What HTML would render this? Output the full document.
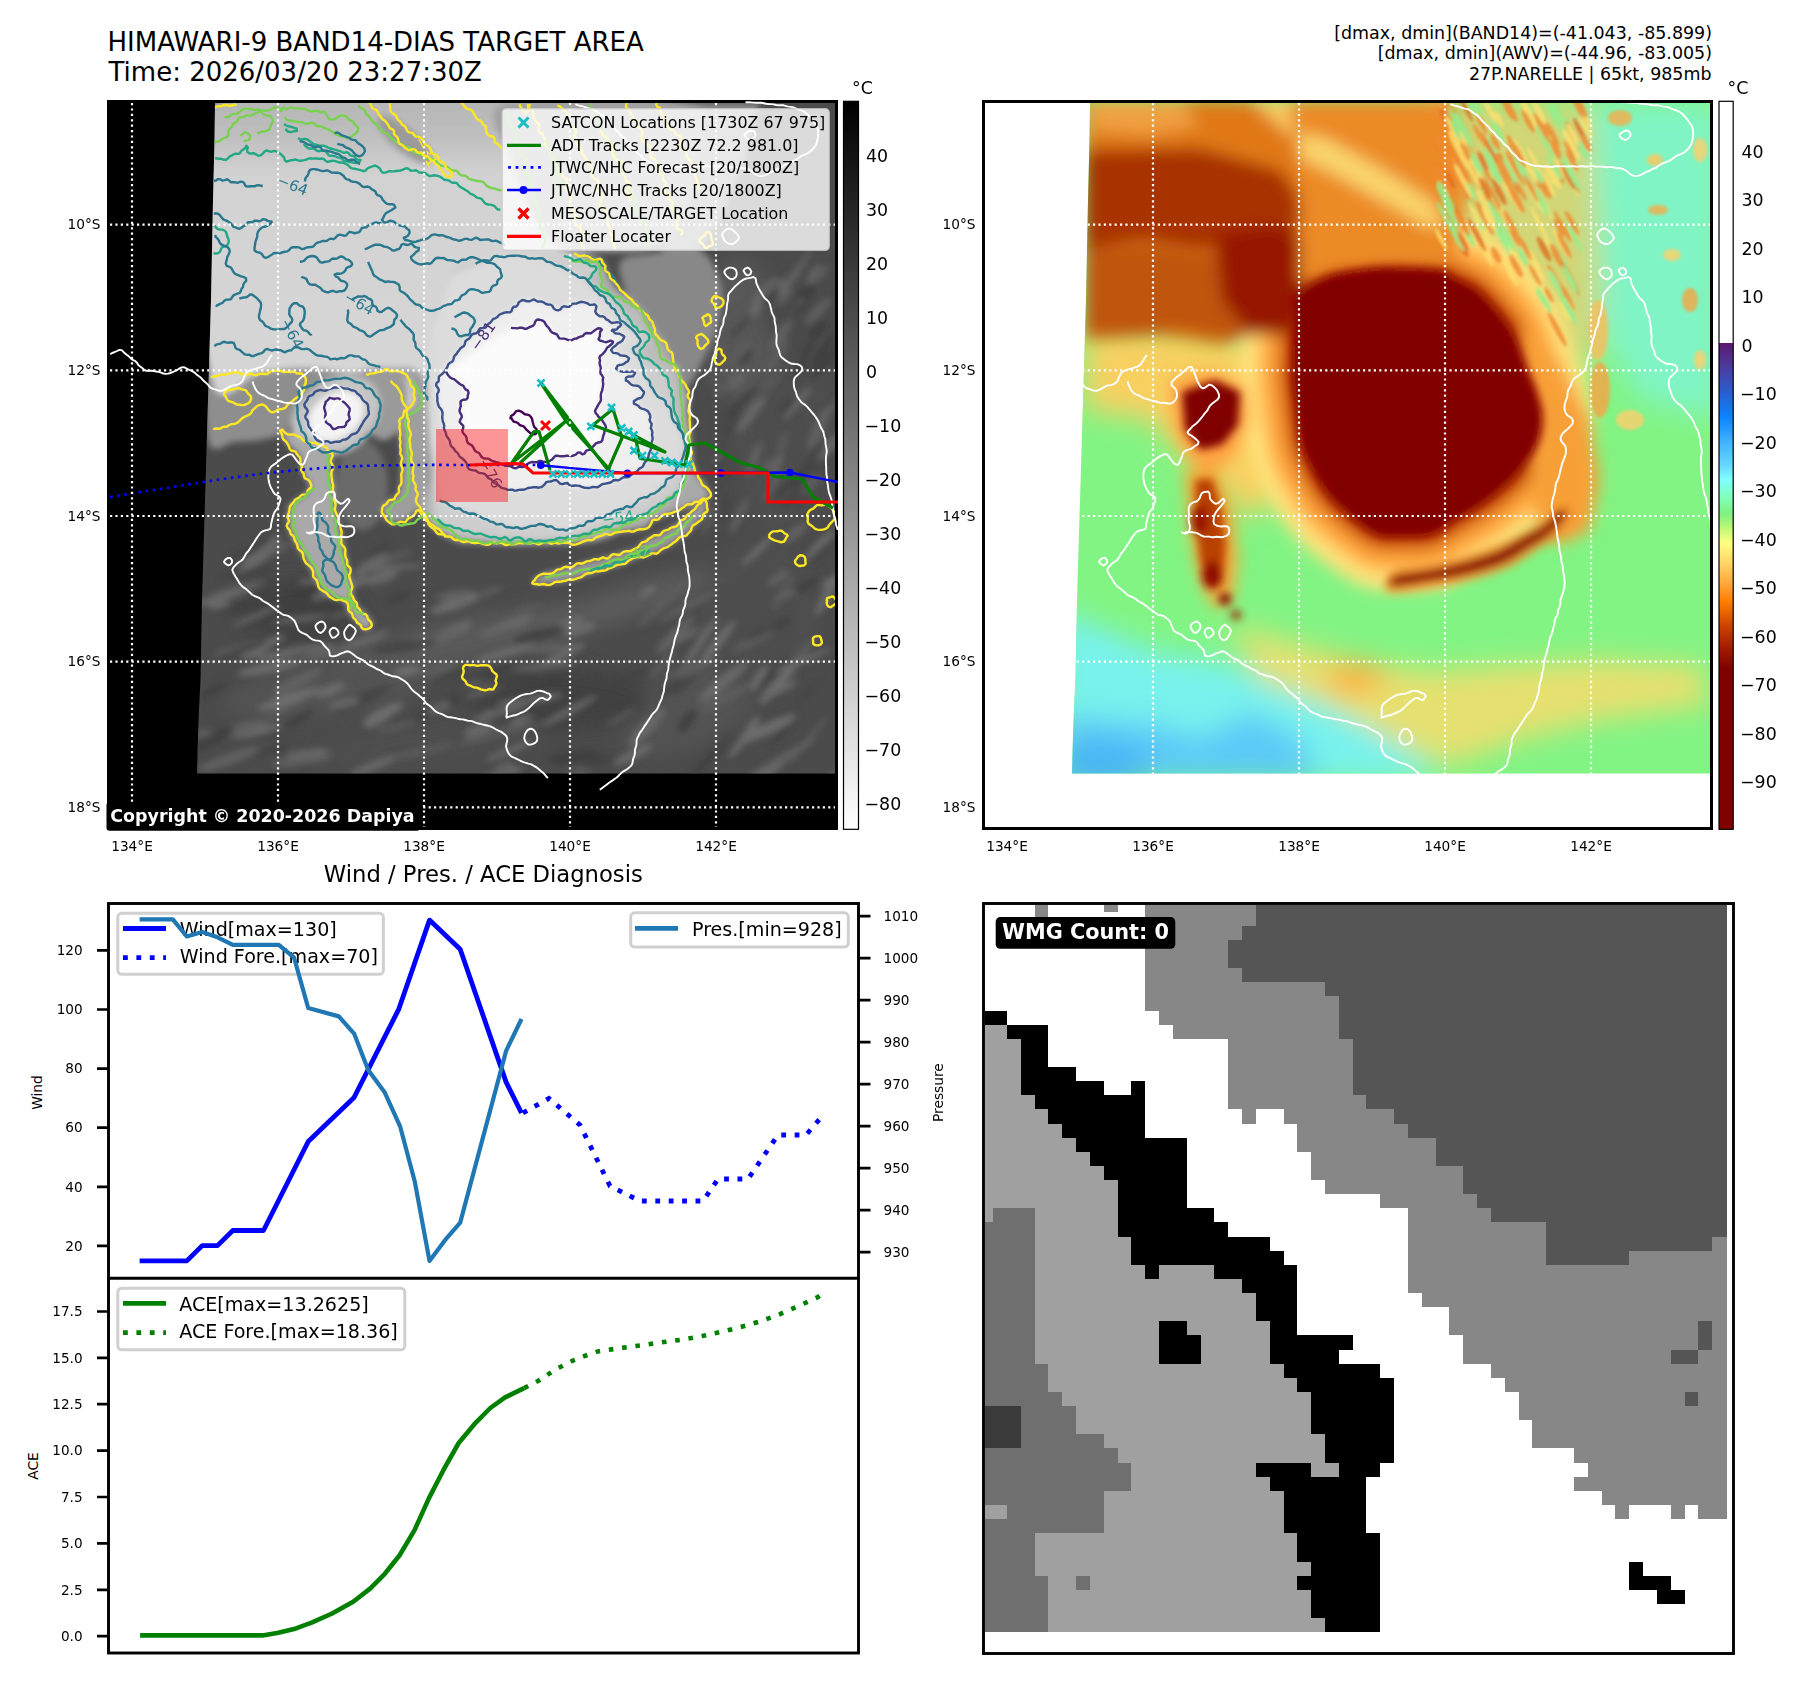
<!DOCTYPE html><html><head><meta charset="utf-8"><title>HIMAWARI-9 BAND14-DIAS TARGET AREA</title><style>html,body{margin:0;padding:0;background:#fff;}svg{display:block;}text{font-family:'DejaVu Sans', 'Liberation Sans', sans-serif;}</style></head><body>
<svg width="1801" height="1690" viewBox="0 0 1801 1690">
<rect width="1801" height="1690" fill="#fff"/>
<text x="107.5" y="51.0" font-size="26" text-anchor="start" fill="#000" >HIMAWARI-9 BAND14-DIAS TARGET AREA</text>
<text x="108.5" y="81.0" font-size="26" text-anchor="start" fill="#000" >Time: 2026/03/20 23:27:30Z</text>
<text x="1712.0" y="38.5" font-size="17.45" text-anchor="end" fill="#000" >[dmax, dmin](BAND14)=(-41.043, -85.899)</text>
<text x="1712.0" y="59.2" font-size="17.45" text-anchor="end" fill="#000" >[dmax, dmin](AWV)=(-44.96, -83.005)</text>
<text x="1711.5" y="80.4" font-size="17.45" text-anchor="end" fill="#000" >27P.NARELLE | 65kt, 985mb</text>
<rect x="107" y="100" width="731" height="730" fill="#000"/>
<defs><clipPath id="tlclip"><path d="M215.0,103.0L835.0 103.0 835.0 773.5 197.0 773.5 198.0 736.0 199.0 709.0 200.5 680.0 202.0 600.0 205.0 500.0 208.0 400.0 211.0 300.0 213.0 200.0 214.5 140.0Z"/></clipPath>
<filter id="blr3" x="-5%" y="-5%" width="110%" height="110%"><feGaussianBlur stdDeviation="3"/></filter>
<filter id="blr6" x="-10%" y="-10%" width="120%" height="120%"><feGaussianBlur stdDeviation="6"/></filter>
<filter id="blr10" x="-20%" y="-20%" width="140%" height="140%"><feGaussianBlur stdDeviation="10"/></filter>
<linearGradient id="tlnorth" x1="0" y1="0" x2="0" y2="1"><stop offset="0" stop-color="#b0b0b0"/><stop offset="0.12" stop-color="#bfbfbf"/><stop offset="0.2" stop-color="#d2d2d2"/><stop offset="1" stop-color="#d9d9d9"/></linearGradient>
</defs>
<g clip-path="url(#tlclip)">
<rect x="190" y="100" width="650" height="680" fill="#4b4b4b"/>
<g filter="url(#blr10)" opacity="0.9">
<ellipse cx="470" cy="640" rx="150" ry="22" transform="rotate(-12 470 640)" fill="#5c5c5c"/>
<ellipse cx="620" cy="605" rx="110" ry="16" transform="rotate(-18 620 605)" fill="#5e5e5e"/>
<ellipse cx="330" cy="690" rx="110" ry="26" transform="rotate(-8 330 690)" fill="#545454"/>
<ellipse cx="700" cy="700" rx="90" ry="40" transform="rotate(-30 700 700)" fill="#555555"/>
<ellipse cx="560" cy="700" rx="90" ry="30" transform="rotate(0 560 700)" fill="#3f3f3f"/>
<ellipse cx="300" cy="610" rx="60" ry="30" transform="rotate(0 300 610)" fill="#404040"/>
<ellipse cx="760" cy="620" rx="60" ry="80" transform="rotate(0 760 620)" fill="#4f4f4f"/>
<ellipse cx="430" cy="745" rx="120" ry="20" transform="rotate(-5 430 745)" fill="#505050"/>
<ellipse cx="780" cy="420" rx="50" ry="120" transform="rotate(0 780 420)" fill="#505050"/>
<ellipse cx="740" cy="330" rx="40" ry="70" transform="rotate(0 740 330)" fill="#5a5a5a"/>
<ellipse cx="800" cy="300" rx="40" ry="60" transform="rotate(0 800 300)" fill="#4c4c4c"/>
</g>
<g filter="url(#blr3)" opacity="0.8">
<ellipse cx="487" cy="674" rx="31" ry="3.2" transform="rotate(-19 487 674)" fill="#3c3c3c"/>
<ellipse cx="710" cy="654" rx="12" ry="3.6" transform="rotate(-28 710 654)" fill="#424242"/>
<ellipse cx="258" cy="731" rx="24" ry="3.9" transform="rotate(-14 258 731)" fill="#747474"/>
<ellipse cx="488" cy="715" rx="10" ry="4.3" transform="rotate(-26 488 715)" fill="#747474"/>
<ellipse cx="238" cy="589" rx="29" ry="3.6" transform="rotate(-15 238 589)" fill="#666666"/>
<ellipse cx="348" cy="613" rx="21" ry="3.5" transform="rotate(-13 348 613)" fill="#5e5e5e"/>
<ellipse cx="834" cy="774" rx="18" ry="3.3" transform="rotate(-32 834 774)" fill="#5e5e5e"/>
<ellipse cx="384" cy="561" rx="30" ry="3.9" transform="rotate(-20 384 561)" fill="#5e5e5e"/>
<ellipse cx="808" cy="740" rx="32" ry="2.7" transform="rotate(-51 808 740)" fill="#5e5e5e"/>
<ellipse cx="438" cy="708" rx="25" ry="5.2" transform="rotate(-28 438 708)" fill="#3c3c3c"/>
<ellipse cx="371" cy="565" rx="20" ry="5.7" transform="rotate(-30 371 565)" fill="#6e6e6e"/>
<ellipse cx="285" cy="708" rx="29" ry="3.1" transform="rotate(-29 285 708)" fill="#5e5e5e"/>
<ellipse cx="555" cy="648" rx="28" ry="4.0" transform="rotate(-5 555 648)" fill="#666666"/>
<ellipse cx="444" cy="636" rx="31" ry="5.9" transform="rotate(-30 444 636)" fill="#666666"/>
<ellipse cx="576" cy="775" rx="19" ry="5.5" transform="rotate(-25 576 775)" fill="#5e5e5e"/>
<ellipse cx="828" cy="594" rx="25" ry="5.4" transform="rotate(-60 828 594)" fill="#6e6e6e"/>
<ellipse cx="333" cy="691" rx="19" ry="4.1" transform="rotate(-15 333 691)" fill="#5e5e5e"/>
<ellipse cx="809" cy="656" rx="19" ry="4.7" transform="rotate(-55 809 656)" fill="#424242"/>
<ellipse cx="397" cy="598" rx="15" ry="5.1" transform="rotate(-24 397 598)" fill="#424242"/>
<ellipse cx="797" cy="590" rx="24" ry="4.0" transform="rotate(-25 797 590)" fill="#3c3c3c"/>
<ellipse cx="266" cy="554" rx="27" ry="3.4" transform="rotate(-24 266 554)" fill="#6e6e6e"/>
<ellipse cx="723" cy="682" rx="32" ry="5.9" transform="rotate(-39 723 682)" fill="#6e6e6e"/>
<ellipse cx="280" cy="655" rx="25" ry="3.5" transform="rotate(-9 280 655)" fill="#747474"/>
<ellipse cx="783" cy="592" rx="20" ry="3.4" transform="rotate(-57 783 592)" fill="#5e5e5e"/>
<ellipse cx="230" cy="610" rx="13" ry="3.8" transform="rotate(-16 230 610)" fill="#424242"/>
<ellipse cx="766" cy="771" rx="23" ry="5.8" transform="rotate(-31 766 771)" fill="#747474"/>
<ellipse cx="575" cy="757" rx="27" ry="5.9" transform="rotate(-7 575 757)" fill="#3c3c3c"/>
<ellipse cx="213" cy="691" rx="17" ry="3.0" transform="rotate(-28 213 691)" fill="#3c3c3c"/>
<ellipse cx="246" cy="649" rx="32" ry="5.1" transform="rotate(-12 246 649)" fill="#6e6e6e"/>
<ellipse cx="647" cy="727" rx="26" ry="5.7" transform="rotate(-46 647 727)" fill="#6e6e6e"/>
<ellipse cx="753" cy="641" rx="24" ry="4.7" transform="rotate(-25 753 641)" fill="#5e5e5e"/>
<ellipse cx="443" cy="679" rx="12" ry="2.9" transform="rotate(-28 443 679)" fill="#424242"/>
<ellipse cx="363" cy="641" rx="28" ry="4.5" transform="rotate(-20 363 641)" fill="#6e6e6e"/>
<ellipse cx="480" cy="738" rx="22" ry="3.6" transform="rotate(-17 480 738)" fill="#5e5e5e"/>
<ellipse cx="256" cy="550" rx="29" ry="4.8" transform="rotate(-27 256 550)" fill="#747474"/>
<ellipse cx="509" cy="751" rx="26" ry="3.2" transform="rotate(-22 509 751)" fill="#6e6e6e"/>
<ellipse cx="308" cy="753" rx="22" ry="3.3" transform="rotate(-7 308 753)" fill="#747474"/>
<ellipse cx="457" cy="603" rx="29" ry="5.7" transform="rotate(-19 457 603)" fill="#747474"/>
<ellipse cx="759" cy="633" rx="15" ry="3.0" transform="rotate(-23 759 633)" fill="#424242"/>
<ellipse cx="423" cy="751" rx="33" ry="3.5" transform="rotate(-12 423 751)" fill="#5e5e5e"/>
<ellipse cx="307" cy="649" rx="30" ry="3.8" transform="rotate(-7 307 649)" fill="#6e6e6e"/>
<ellipse cx="530" cy="700" rx="34" ry="4.1" transform="rotate(-9 530 700)" fill="#747474"/>
<ellipse cx="247" cy="552" rx="27" ry="4.5" transform="rotate(-29 247 552)" fill="#424242"/>
<ellipse cx="396" cy="727" rx="20" ry="3.2" transform="rotate(-14 396 727)" fill="#5e5e5e"/>
<ellipse cx="688" cy="606" rx="34" ry="2.9" transform="rotate(-28 688 606)" fill="#666666"/>
<ellipse cx="269" cy="668" rx="33" ry="4.9" transform="rotate(-10 269 668)" fill="#747474"/>
<ellipse cx="327" cy="654" rx="28" ry="4.4" transform="rotate(-12 327 654)" fill="#666666"/>
<ellipse cx="223" cy="597" rx="33" ry="4.3" transform="rotate(-17 223 597)" fill="#6e6e6e"/>
<ellipse cx="833" cy="582" rx="12" ry="5.8" transform="rotate(-24 833 582)" fill="#747474"/>
<ellipse cx="488" cy="689" rx="24" ry="5.6" transform="rotate(-21 488 689)" fill="#5e5e5e"/>
<ellipse cx="706" cy="762" rx="34" ry="2.8" transform="rotate(-47 706 762)" fill="#3c3c3c"/>
<ellipse cx="750" cy="729" rx="16" ry="3.9" transform="rotate(-55 750 729)" fill="#747474"/>
<ellipse cx="256" cy="616" rx="27" ry="2.6" transform="rotate(-23 256 616)" fill="#6e6e6e"/>
<ellipse cx="417" cy="642" rx="11" ry="5.3" transform="rotate(-18 417 642)" fill="#6e6e6e"/>
<ellipse cx="241" cy="729" rx="26" ry="5.7" transform="rotate(-17 241 729)" fill="#666666"/>
<ellipse cx="499" cy="775" rx="26" ry="4.0" transform="rotate(-17 499 775)" fill="#747474"/>
<ellipse cx="759" cy="678" rx="15" ry="4.3" transform="rotate(-57 759 678)" fill="#747474"/>
<ellipse cx="384" cy="713" rx="22" ry="5.7" transform="rotate(-26 384 713)" fill="#747474"/>
<ellipse cx="363" cy="699" rx="30" ry="5.9" transform="rotate(-25 363 699)" fill="#424242"/>
<ellipse cx="533" cy="677" rx="13" ry="2.5" transform="rotate(-20 533 677)" fill="#666666"/>
<ellipse cx="439" cy="669" rx="20" ry="5.3" transform="rotate(-17 439 669)" fill="#5e5e5e"/>
<ellipse cx="557" cy="658" rx="32" ry="4.1" transform="rotate(-26 557 658)" fill="#747474"/>
<ellipse cx="785" cy="729" rx="21" ry="2.9" transform="rotate(-49 785 729)" fill="#3c3c3c"/>
<ellipse cx="475" cy="733" rx="13" ry="4.0" transform="rotate(-17 475 733)" fill="#3c3c3c"/>
<ellipse cx="219" cy="605" rx="11" ry="3.2" transform="rotate(-11 219 605)" fill="#747474"/>
<ellipse cx="344" cy="703" rx="16" ry="4.2" transform="rotate(-12 344 703)" fill="#6e6e6e"/>
<ellipse cx="517" cy="679" rx="27" ry="5.0" transform="rotate(-14 517 679)" fill="#424242"/>
<ellipse cx="758" cy="550" rx="23" ry="3.1" transform="rotate(-43 758 550)" fill="#747474"/>
<ellipse cx="330" cy="690" rx="15" ry="4.4" transform="rotate(-25 330 690)" fill="#747474"/>
<ellipse cx="781" cy="689" rx="18" ry="3.6" transform="rotate(-24 781 689)" fill="#6e6e6e"/>
<ellipse cx="786" cy="595" rx="13" ry="3.3" transform="rotate(-24 786 595)" fill="#666666"/>
<ellipse cx="661" cy="605" rx="33" ry="4.4" transform="rotate(-43 661 605)" fill="#5e5e5e"/>
<ellipse cx="648" cy="591" rx="10" ry="3.2" transform="rotate(-33 648 591)" fill="#747474"/>
<ellipse cx="633" cy="755" rx="22" ry="5.2" transform="rotate(-27 633 755)" fill="#6e6e6e"/>
<ellipse cx="519" cy="703" rx="22" ry="2.6" transform="rotate(-10 519 703)" fill="#666666"/>
<ellipse cx="684" cy="686" rx="15" ry="2.9" transform="rotate(-41 684 686)" fill="#424242"/>
<ellipse cx="310" cy="581" rx="12" ry="2.7" transform="rotate(-7 310 581)" fill="#6e6e6e"/>
<ellipse cx="804" cy="651" rx="21" ry="4.3" transform="rotate(-47 804 651)" fill="#5e5e5e"/>
<ellipse cx="473" cy="683" rx="11" ry="3.2" transform="rotate(-14 473 683)" fill="#5e5e5e"/>
<ellipse cx="459" cy="628" rx="15" ry="3.1" transform="rotate(-20 459 628)" fill="#6e6e6e"/>
<ellipse cx="767" cy="729" rx="32" ry="5.8" transform="rotate(-25 767 729)" fill="#747474"/>
<ellipse cx="571" cy="623" rx="13" ry="5.1" transform="rotate(-23 571 623)" fill="#6e6e6e"/>
<ellipse cx="302" cy="760" rx="31" ry="4.9" transform="rotate(-8 302 760)" fill="#666666"/>
<ellipse cx="687" cy="721" rx="14" ry="5.3" transform="rotate(-52 687 721)" fill="#3c3c3c"/>
<ellipse cx="392" cy="568" rx="32" ry="2.7" transform="rotate(-5 392 568)" fill="#6e6e6e"/>
<ellipse cx="373" cy="766" rx="26" ry="4.5" transform="rotate(-22 373 766)" fill="#6e6e6e"/>
<ellipse cx="539" cy="635" rx="27" ry="5.2" transform="rotate(-14 539 635)" fill="#3c3c3c"/>
<ellipse cx="822" cy="550" rx="16" ry="4.1" transform="rotate(-56 822 550)" fill="#424242"/>
<ellipse cx="521" cy="720" rx="12" ry="3.4" transform="rotate(-21 521 720)" fill="#747474"/>
<ellipse cx="775" cy="672" rx="22" ry="5.5" transform="rotate(-43 775 672)" fill="#424242"/>
<ellipse cx="263" cy="647" rx="24" ry="5.2" transform="rotate(-28 263 647)" fill="#747474"/>
<ellipse cx="229" cy="759" rx="33" ry="5.5" transform="rotate(-20 229 759)" fill="#666666"/>
<ellipse cx="544" cy="682" rx="20" ry="4.3" transform="rotate(-6 544 682)" fill="#3c3c3c"/>
<ellipse cx="580" cy="629" rx="16" ry="5.8" transform="rotate(-18 580 629)" fill="#6e6e6e"/>
<ellipse cx="621" cy="717" rx="16" ry="2.6" transform="rotate(-30 621 717)" fill="#5e5e5e"/>
<ellipse cx="299" cy="719" rx="18" ry="3.9" transform="rotate(-29 299 719)" fill="#3c3c3c"/>
<ellipse cx="569" cy="711" rx="32" ry="4.0" transform="rotate(-28 569 711)" fill="#6e6e6e"/>
<ellipse cx="503" cy="769" rx="12" ry="5.3" transform="rotate(-29 503 769)" fill="#666666"/>
<ellipse cx="778" cy="578" rx="13" ry="4.7" transform="rotate(-36 778 578)" fill="#666666"/>
<ellipse cx="489" cy="592" rx="14" ry="3.8" transform="rotate(-21 489 592)" fill="#5e5e5e"/>
<ellipse cx="289" cy="641" rx="24" ry="4.0" transform="rotate(-23 289 641)" fill="#424242"/>
<ellipse cx="694" cy="667" rx="28" ry="3.3" transform="rotate(-22 694 667)" fill="#666666"/>
<ellipse cx="272" cy="750" rx="19" ry="3.5" transform="rotate(-14 272 750)" fill="#424242"/>
<ellipse cx="635" cy="675" rx="17" ry="3.3" transform="rotate(-25 635 675)" fill="#424242"/>
<ellipse cx="804" cy="660" rx="31" ry="2.6" transform="rotate(-23 804 660)" fill="#747474"/>
<ellipse cx="239" cy="607" rx="11" ry="3.3" transform="rotate(-29 239 607)" fill="#3c3c3c"/>
<ellipse cx="377" cy="719" rx="16" ry="5.9" transform="rotate(-26 377 719)" fill="#747474"/>
<ellipse cx="507" cy="626" rx="28" ry="5.4" transform="rotate(-21 507 626)" fill="#6e6e6e"/>
<ellipse cx="247" cy="573" rx="28" ry="4.1" transform="rotate(-9 247 573)" fill="#424242"/>
<ellipse cx="675" cy="635" rx="26" ry="6.0" transform="rotate(-45 675 635)" fill="#666666"/>
<ellipse cx="407" cy="671" rx="14" ry="4.8" transform="rotate(-9 407 671)" fill="#747474"/>
<ellipse cx="569" cy="651" rx="12" ry="4.5" transform="rotate(-28 569 651)" fill="#6e6e6e"/>
<ellipse cx="508" cy="703" rx="10" ry="3.6" transform="rotate(-9 508 703)" fill="#6e6e6e"/>
<ellipse cx="778" cy="684" rx="27" ry="4.9" transform="rotate(-48 778 684)" fill="#747474"/>
<ellipse cx="380" cy="578" rx="18" ry="5.7" transform="rotate(-14 380 578)" fill="#6e6e6e"/>
<ellipse cx="405" cy="646" rx="33" ry="5.7" transform="rotate(-7 405 646)" fill="#424242"/>
<ellipse cx="478" cy="730" rx="15" ry="5.9" transform="rotate(-19 478 730)" fill="#6e6e6e"/>
<ellipse cx="663" cy="664" rx="19" ry="3.8" transform="rotate(-46 663 664)" fill="#5e5e5e"/>
<ellipse cx="451" cy="634" rx="19" ry="3.9" transform="rotate(-12 451 634)" fill="#666666"/>
<ellipse cx="298" cy="681" rx="28" ry="5.6" transform="rotate(-26 298 681)" fill="#666666"/>
<ellipse cx="379" cy="550" rx="14" ry="3.5" transform="rotate(-29 379 550)" fill="#424242"/>
<ellipse cx="214" cy="739" rx="23" ry="5.3" transform="rotate(-28 214 739)" fill="#3c3c3c"/>
<ellipse cx="253" cy="564" rx="18" ry="2.6" transform="rotate(-27 253 564)" fill="#747474"/>
<ellipse cx="718" cy="642" rx="28" ry="4.3" transform="rotate(-51 718 642)" fill="#747474"/>
<ellipse cx="686" cy="636" rx="18" ry="3.0" transform="rotate(-28 686 636)" fill="#6e6e6e"/>
<ellipse cx="510" cy="730" rx="32" ry="3.9" transform="rotate(-12 510 730)" fill="#5e5e5e"/>
<ellipse cx="725" cy="698" rx="30" ry="5.6" transform="rotate(-28 725 698)" fill="#5e5e5e"/>
<ellipse cx="808" cy="692" rx="10" ry="2.9" transform="rotate(-46 808 692)" fill="#424242"/>
<ellipse cx="786" cy="756" rx="34" ry="3.8" transform="rotate(-30 786 756)" fill="#666666"/>
<ellipse cx="306" cy="592" rx="17" ry="5.6" transform="rotate(-17 306 592)" fill="#3c3c3c"/>
<ellipse cx="499" cy="713" rx="29" ry="3.1" transform="rotate(-14 499 713)" fill="#6e6e6e"/>
<ellipse cx="240" cy="651" rx="29" ry="3.6" transform="rotate(-18 240 651)" fill="#424242"/>
<ellipse cx="325" cy="628" rx="27" ry="4.6" transform="rotate(-24 325 628)" fill="#424242"/>
<ellipse cx="342" cy="588" rx="32" ry="5.8" transform="rotate(-20 342 588)" fill="#6e6e6e"/>
<ellipse cx="598" cy="762" rx="16" ry="5.6" transform="rotate(-18 598 762)" fill="#424242"/>
<ellipse cx="781" cy="624" rx="12" ry="5.5" transform="rotate(-29 781 624)" fill="#424242"/>
<ellipse cx="454" cy="595" rx="19" ry="4.3" transform="rotate(-10 454 595)" fill="#666666"/>
<ellipse cx="528" cy="608" rx="16" ry="2.5" transform="rotate(-14 528 608)" fill="#5e5e5e"/>
<ellipse cx="500" cy="630" rx="25" ry="3.1" transform="rotate(-12 500 630)" fill="#666666"/>
<ellipse cx="300" cy="619" rx="29" ry="3.0" transform="rotate(-7 300 619)" fill="#6e6e6e"/>
<ellipse cx="671" cy="687" rx="14" ry="5.2" transform="rotate(-39 671 687)" fill="#424242"/>
<ellipse cx="201" cy="734" rx="12" ry="3.4" transform="rotate(-9 201 734)" fill="#666666"/>
<ellipse cx="505" cy="653" rx="31" ry="3.6" transform="rotate(-15 505 653)" fill="#747474"/>
<ellipse cx="701" cy="641" rx="30" ry="3.2" transform="rotate(-56 701 641)" fill="#747474"/>
<ellipse cx="545" cy="666" rx="33" ry="3.6" transform="rotate(-6 545 666)" fill="#666666"/>
<ellipse cx="457" cy="673" rx="12" ry="2.8" transform="rotate(-13 457 673)" fill="#3c3c3c"/>
<ellipse cx="289" cy="699" rx="33" ry="5.4" transform="rotate(-18 289 699)" fill="#747474"/>
<ellipse cx="439" cy="708" rx="13" ry="5.2" transform="rotate(-23 439 708)" fill="#666666"/>
<ellipse cx="744" cy="739" rx="25" ry="3.5" transform="rotate(-52 744 739)" fill="#747474"/>
<ellipse cx="751" cy="414" rx="23" ry="5.1" transform="rotate(-53 751 414)" fill="#6e6e6e"/>
<ellipse cx="712" cy="314" rx="20" ry="3.7" transform="rotate(-42 712 314)" fill="#3c3c3c"/>
<ellipse cx="776" cy="466" rx="15" ry="3.8" transform="rotate(-67 776 466)" fill="#6e6e6e"/>
<ellipse cx="784" cy="297" rx="11" ry="3.9" transform="rotate(-45 784 297)" fill="#666666"/>
<ellipse cx="780" cy="286" rx="9" ry="6.0" transform="rotate(-57 780 286)" fill="#666666"/>
<ellipse cx="804" cy="357" rx="23" ry="3.0" transform="rotate(-64 804 357)" fill="#3c3c3c"/>
<ellipse cx="720" cy="457" rx="13" ry="3.9" transform="rotate(-70 720 457)" fill="#3c3c3c"/>
<ellipse cx="754" cy="459" rx="19" ry="4.6" transform="rotate(-69 754 459)" fill="#666666"/>
<ellipse cx="745" cy="358" rx="10" ry="3.8" transform="rotate(-55 745 358)" fill="#3c3c3c"/>
<ellipse cx="806" cy="495" rx="19" ry="3.4" transform="rotate(-54 806 495)" fill="#444444"/>
<ellipse cx="740" cy="327" rx="16" ry="3.0" transform="rotate(-49 740 327)" fill="#444444"/>
<ellipse cx="833" cy="407" rx="17" ry="2.6" transform="rotate(-50 833 407)" fill="#666666"/>
<ellipse cx="805" cy="299" rx="17" ry="4.9" transform="rotate(-60 805 299)" fill="#3c3c3c"/>
<ellipse cx="825" cy="363" rx="22" ry="4.1" transform="rotate(-48 825 363)" fill="#3c3c3c"/>
<ellipse cx="732" cy="422" rx="17" ry="4.5" transform="rotate(-62 732 422)" fill="#444444"/>
<ellipse cx="823" cy="543" rx="18" ry="2.9" transform="rotate(-45 823 543)" fill="#6e6e6e"/>
<ellipse cx="739" cy="516" rx="20" ry="3.8" transform="rotate(-65 739 516)" fill="#666666"/>
<ellipse cx="781" cy="491" rx="9" ry="3.1" transform="rotate(-40 781 491)" fill="#3c3c3c"/>
<ellipse cx="827" cy="448" rx="20" ry="5.5" transform="rotate(-43 827 448)" fill="#6e6e6e"/>
<ellipse cx="783" cy="442" rx="11" ry="3.9" transform="rotate(-69 783 442)" fill="#5e5e5e"/>
<ellipse cx="771" cy="294" rx="11" ry="4.3" transform="rotate(-62 771 294)" fill="#3c3c3c"/>
<ellipse cx="777" cy="355" rx="20" ry="5.3" transform="rotate(-58 777 355)" fill="#5e5e5e"/>
<ellipse cx="767" cy="289" rx="15" ry="4.7" transform="rotate(-49 767 289)" fill="#6e6e6e"/>
<ellipse cx="802" cy="474" rx="22" ry="4.1" transform="rotate(-43 802 474)" fill="#3c3c3c"/>
<ellipse cx="793" cy="495" rx="17" ry="5.7" transform="rotate(-54 793 495)" fill="#5e5e5e"/>
<ellipse cx="771" cy="383" rx="13" ry="2.7" transform="rotate(-48 771 383)" fill="#5e5e5e"/>
<ellipse cx="822" cy="469" rx="13" ry="5.3" transform="rotate(-44 822 469)" fill="#444444"/>
<ellipse cx="818" cy="330" rx="12" ry="5.6" transform="rotate(-41 818 330)" fill="#3c3c3c"/>
<ellipse cx="764" cy="290" rx="17" ry="4.8" transform="rotate(-42 764 290)" fill="#666666"/>
<ellipse cx="819" cy="545" rx="22" ry="4.0" transform="rotate(-46 819 545)" fill="#6e6e6e"/>
<ellipse cx="730" cy="473" rx="10" ry="2.8" transform="rotate(-54 730 473)" fill="#444444"/>
<ellipse cx="718" cy="511" rx="23" ry="2.5" transform="rotate(-63 718 511)" fill="#444444"/>
<ellipse cx="740" cy="353" rx="15" ry="4.1" transform="rotate(-54 740 353)" fill="#5e5e5e"/>
<ellipse cx="719" cy="457" rx="9" ry="2.6" transform="rotate(-43 719 457)" fill="#666666"/>
<ellipse cx="742" cy="402" rx="22" ry="3.2" transform="rotate(-44 742 402)" fill="#3c3c3c"/>
<ellipse cx="793" cy="277" rx="21" ry="3.7" transform="rotate(-56 793 277)" fill="#6e6e6e"/>
<ellipse cx="723" cy="511" rx="11" ry="4.7" transform="rotate(-64 723 511)" fill="#444444"/>
<ellipse cx="819" cy="274" rx="13" ry="5.4" transform="rotate(-41 819 274)" fill="#5e5e5e"/>
<ellipse cx="737" cy="380" rx="13" ry="5.8" transform="rotate(-47 737 380)" fill="#666666"/>
<ellipse cx="756" cy="308" rx="10" ry="4.9" transform="rotate(-62 756 308)" fill="#6e6e6e"/>
<ellipse cx="797" cy="403" rx="21" ry="3.8" transform="rotate(-50 797 403)" fill="#6e6e6e"/>
<ellipse cx="819" cy="428" rx="24" ry="5.6" transform="rotate(-65 819 428)" fill="#666666"/>
<ellipse cx="731" cy="298" rx="15" ry="2.8" transform="rotate(-42 731 298)" fill="#5e5e5e"/>
<ellipse cx="710" cy="519" rx="18" ry="3.5" transform="rotate(-62 710 519)" fill="#5e5e5e"/>
<ellipse cx="808" cy="285" rx="24" ry="3.2" transform="rotate(-65 808 285)" fill="#6e6e6e"/>
<ellipse cx="799" cy="268" rx="24" ry="2.6" transform="rotate(-56 799 268)" fill="#666666"/>
<ellipse cx="801" cy="370" rx="9" ry="2.7" transform="rotate(-47 801 370)" fill="#3c3c3c"/>
<ellipse cx="823" cy="351" rx="21" ry="4.3" transform="rotate(-55 823 351)" fill="#3c3c3c"/>
<ellipse cx="814" cy="455" rx="20" ry="4.4" transform="rotate(-52 814 455)" fill="#444444"/>
<ellipse cx="804" cy="292" rx="12" ry="4.0" transform="rotate(-47 804 292)" fill="#3c3c3c"/>
<ellipse cx="806" cy="485" rx="12" ry="4.4" transform="rotate(-44 806 485)" fill="#666666"/>
<ellipse cx="781" cy="334" rx="18" ry="5.0" transform="rotate(-53 781 334)" fill="#666666"/>
<ellipse cx="818" cy="311" rx="18" ry="4.6" transform="rotate(-46 818 311)" fill="#666666"/>
<ellipse cx="768" cy="466" rx="9" ry="5.7" transform="rotate(-53 768 466)" fill="#5e5e5e"/>
<ellipse cx="773" cy="486" rx="18" ry="2.7" transform="rotate(-57 773 486)" fill="#666666"/>
<ellipse cx="794" cy="494" rx="20" ry="5.2" transform="rotate(-55 794 494)" fill="#444444"/>
<ellipse cx="788" cy="406" rx="12" ry="3.1" transform="rotate(-49 788 406)" fill="#3c3c3c"/>
<ellipse cx="812" cy="484" rx="13" ry="4.1" transform="rotate(-49 812 484)" fill="#5e5e5e"/>
<ellipse cx="795" cy="533" rx="16" ry="5.2" transform="rotate(-40 795 533)" fill="#666666"/>
<ellipse cx="720" cy="390" rx="8" ry="3.9" transform="rotate(-54 720 390)" fill="#5e5e5e"/>
</g>
<g filter="url(#blr3)">
<path d="M209.0,366.0L213.4 361.3 219.3 359.7 226.4 360.2 234.1 361.9 242.2 363.5 250.0 364.0 257.9 363.6 266.4 363.0 275.1 362.5 283.7 362.1 292.1 361.9 300.0 362.0 307.5 362.4 314.8 363.0 321.9 363.8 328.5 364.9 334.6 366.3 340.0 368.0 345.1 370.2 350.0 373.0 354.4 376.1 357.8 379.2 359.8 382.3 360.0 385.0 357.9 387.4 353.7 389.6 348.1 391.7 341.9 393.7 335.6 395.8 330.0 398.0 324.8 400.2 319.4 402.4 314.1 404.6 308.9 406.9 304.1 409.3 300.0 412.0 296.7 415.1 294.3 418.7 292.2 422.4 290.2 426.0 287.9 429.3 285.0 432.0 281.4 434.1 277.4 435.8 273.1 437.1 268.7 438.2 264.3 439.2 260.0 440.0 255.8 440.7 251.7 441.1 247.6 441.4 243.4 441.6 239.2 441.7 235.0 442.0 230.4 443.3 225.4 445.6 220.4 448.0 215.8 449.3 211.8 448.3 209.0 444.0 207.0 434.8 205.6 421.1 204.8 405.2 205.0 389.3 206.3 375.5Z" fill="#8e8e8e"/>
<path d="M213.0,103.0L270.4 86.9 354.0 81.8 450.9 84.2 547.9 90.9 631.9 98.3 690.0 103.0 719.1 105.8 729.2 109.5 726.3 114.0 716.7 119.0 706.5 124.4 702.0 130.0 701.9 135.9 701.0 142.4 699.5 149.2 697.7 156.2 695.8 163.2 694.0 170.0 692.3 176.8 690.7 183.7 688.9 190.6 686.9 197.4 684.6 203.9 682.0 210.0 679.1 215.8 676.1 221.5 672.8 226.9 669.0 231.9 664.8 236.3 660.0 240.0 654.4 242.9 648.2 245.0 641.5 246.6 634.4 247.9 627.2 248.9 620.0 250.0 611.8 251.0 602.4 251.7 592.9 252.3 584.2 252.8 577.6 253.3 574.0 254.0 574.4 254.7 578.0 255.5 583.7 256.2 590.1 257.1 595.9 258.2 600.0 259.5 602.2 261.1 603.6 263.0 604.5 265.1 605.1 267.3 605.9 269.6 607.0 272.0 608.5 274.6 610.1 277.4 611.9 280.3 613.6 283.2 615.4 285.8 617.0 288.0 618.4 289.5 619.7 290.6 620.9 291.3 622.3 292.1 623.9 293.2 626.0 295.0 628.7 297.5 631.9 300.6 635.4 303.9 639.0 307.4 642.2 310.9 645.0 314.0 647.1 316.8 648.9 319.4 650.3 322.0 651.7 324.6 653.2 327.2 655.0 330.0 657.2 333.0 659.7 336.3 662.3 339.6 664.9 342.9 667.1 346.0 669.0 349.0 670.2 351.6 671.0 353.8 671.5 355.9 672.0 358.2 672.8 360.8 674.0 364.0 676.0 368.0 678.5 372.7 681.3 377.8 684.0 382.9 686.4 387.8 688.0 392.0 688.8 395.6 689.0 398.9 688.8 401.8 688.4 404.6 688.0 407.3 688.0 410.0 688.2 412.6 688.6 415.0 688.9 417.4 689.3 419.7 689.7 422.2 690.0 425.0 690.2 428.0 690.3 431.2 690.4 434.5 690.6 437.9 690.7 441.4 691.0 445.0 691.3 448.8 691.6 452.7 692.0 456.8 692.5 460.8 693.1 464.6 694.0 468.0 695.2 471.0 696.6 473.7 698.2 476.2 699.9 478.5 701.5 480.8 703.0 483.0 704.4 485.3 706.0 487.5 707.5 489.6 708.8 491.6 709.7 493.4 710.0 495.0 709.8 496.2 709.1 497.1 708.0 497.8 706.6 498.4 704.9 499.1 703.0 500.0 700.9 501.0 698.7 502.0 696.1 503.0 693.2 504.1 689.9 505.5 686.0 507.0 681.4 508.8 676.2 510.9 670.5 513.2 664.6 515.5 658.7 517.8 653.0 520.0 647.5 522.1 642.0 524.1 636.5 526.2 631.0 528.2 625.5 530.1 620.0 532.0 614.7 533.9 609.6 535.8 604.6 537.6 599.3 539.3 593.5 540.8 587.0 542.0 579.5 542.8 571.0 543.3 562.1 543.6 553.1 543.8 544.6 543.9 537.0 544.0 530.4 544.1 524.4 544.2 518.9 544.2 513.7 544.2 508.4 544.1 503.0 544.0 497.3 543.8 491.6 543.7 485.9 543.4 480.4 543.1 475.0 542.6 470.0 542.0 465.2 541.1 460.6 540.1 456.2 538.9 452.1 537.6 448.3 536.3 445.0 535.0 442.3 533.9 440.1 532.9 438.2 531.8 436.6 530.6 434.9 529.0 433.0 527.0 430.9 524.6 428.6 521.9 426.4 518.8 424.1 515.4 422.0 511.5 420.0 507.0 418.2 501.9 416.4 496.0 414.8 489.8 413.2 483.2 411.6 476.5 410.0 470.0 408.3 463.4 406.7 456.7 405.0 449.9 403.3 443.1 401.7 436.4 400.0 430.0 398.3 423.6 396.7 417.2 395.0 410.9 393.3 405.0 391.7 399.6 390.0 395.0 388.7 391.3 387.8 388.3 386.9 385.8 385.6 383.7 383.4 381.9 380.0 380.0 375.1 378.2 368.9 376.7 361.9 375.3 354.4 374.1 347.0 373.0 340.0 372.0 333.3 371.0 326.7 370.1 320.0 369.2 313.3 368.6 306.7 368.2 300.0 368.0 293.4 368.2 287.0 368.7 280.6 369.5 274.0 370.4 267.2 371.2 260.0 372.0 251.8 375.9 242.4 383.6 232.9 391.3 223.9 395.2 216.3 391.4 211.0 376.0 202.9 343.4 190.3 295.4 179.1 239.8 175.3 184.0 184.6 135.9Z" fill="url(#tlnorth)"/>
<ellipse cx="362" cy="485" rx="26" ry="45" fill="#6a6a6a"/>
<path d="M366.0,372.0L366.0 371.9 368.9 371.4 373.6 370.8 379.1 370.1 384.6 369.8 389.0 370.0 392.5 370.6 396.1 371.3 399.6 372.4 402.8 373.8 405.6 375.6 408.0 378.0 409.9 381.2 411.6 385.3 412.8 389.9 413.7 394.4 414.1 398.6 414.0 402.0 413.2 404.4 411.7 406.3 409.7 407.7 407.6 409.0 405.6 410.3 404.0 412.0 402.8 413.8 401.7 415.5 400.8 417.3 400.0 419.4 399.4 421.9 399.0 425.0 399.0 428.8 399.3 433.2 399.8 438.0 400.4 443.1 400.8 448.5 401.0 454.0 401.0 460.0 401.0 466.7 400.9 473.6 400.6 480.2 400.0 486.2 399.0 491.0 397.4 494.5 395.1 497.0 392.6 498.9 390.1 500.3 387.8 501.6 386.0 503.0 384.7 504.4 383.6 505.5 382.8 506.5 382.2 507.5 381.9 508.6 382.0 510.0 382.4 511.9 383.1 514.1 384.1 516.6 385.4 518.9 387.0 520.8 389.0 522.0 391.6 522.6 394.8 522.7 398.3 522.4 401.9 521.8 405.2 521.0 408.0 520.0 410.2 518.5 412.0 516.4 413.6 514.1 415.1 512.0 416.5 510.5 418.0 510.0 419.5 510.8 421.0 512.6 422.5 514.9 424.0 517.6 425.5 520.0 427.0 522.0 428.6 523.4 430.3 524.7 432.0 525.8 433.7 526.8 435.4 527.8 437.0 529.0 438.4 530.3 439.5 531.7 440.6 533.1 441.9 534.5 443.6 535.8 446.0 537.0 449.6 538.5 454.5 540.4 459.8 542.3 464.7 543.6 468.4 543.6 470.0 542.0 469.1 538.4 466.4 533.1 462.4 526.6 457.9 519.5 453.5 512.1 450.0 505.0 447.2 497.9 444.6 490.4 442.1 482.7 439.9 474.9 437.8 467.3 436.0 460.0 434.5 453.0 433.3 446.1 432.2 439.4 431.4 432.8 430.7 426.3 430.0 420.0 429.6 413.7 429.6 407.3 429.8 401.1 429.7 395.1 429.2 389.7 428.0 385.0 426.2 380.9 424.1 377.2 421.6 374.1 418.5 371.4 414.7 369.4 410.0 368.0 403.4 367.5 394.8 368.0 385.4 369.1 376.7 370.3 369.8 371.4Z" fill="#9e9e9e"/>
<path d="M358.0,374.0L360.3 371.4 363.6 369.8 367.5 368.8 371.8 368.3 376.1 368.1 380.0 368.0 383.9 367.8 387.9 367.8 392.0 368.0 395.9 368.7 399.3 369.9 402.0 372.0 404.1 375.0 405.7 378.9 406.9 383.4 407.6 388.2 408.0 393.2 408.0 398.0 407.6 403.0 406.7 408.4 405.4 413.9 403.8 419.2 402.0 424.0 400.0 428.0 397.8 431.3 395.3 434.1 392.5 436.5 389.6 438.3 386.8 439.5 384.0 440.0 381.2 439.8 378.4 438.9 375.5 437.3 372.7 435.3 370.2 432.8 368.0 430.0 366.1 426.8 364.5 423.0 363.1 418.8 361.9 414.3 360.9 409.7 360.0 405.0 359.0 399.9 358.0 394.2 357.1 388.3 356.7 382.7 356.9 377.8Z" fill="#9a9a9a"/>
<ellipse cx="336" cy="416" rx="48" ry="36" transform="rotate(-35 336 416)" fill="#c4c4c4"/>
<path d="M281.0,431.0L280.7 432.3 281.6 434.5 283.1 437.4 285.1 440.5 287.2 443.5 289.0 446.0 290.8 448.0 292.8 449.8 294.9 451.5 296.9 453.2 298.7 455.0 300.0 457.0 300.8 459.3 301.1 461.7 301.2 464.2 301.2 466.8 301.4 469.4 302.0 472.0 303.3 474.6 305.1 477.4 307.1 480.1 308.8 482.9 309.9 485.5 310.0 488.0 308.7 490.4 306.4 492.8 303.4 495.1 300.2 497.3 297.2 499.3 295.0 501.0 293.4 502.2 292.1 502.9 291.1 503.4 290.2 504.1 289.5 505.2 289.0 507.0 288.5 509.8 288.2 513.3 288.0 517.2 288.1 521.3 288.4 525.3 289.0 529.0 290.0 532.3 291.4 535.6 293.0 538.7 294.8 541.8 296.7 544.9 298.5 548.0 300.3 551.2 302.3 554.3 304.3 557.5 306.3 560.7 308.2 563.8 310.0 567.0 311.6 570.3 313.0 573.6 314.4 577.0 315.8 580.3 317.3 583.3 319.0 586.0 320.9 588.4 323.1 590.5 325.3 592.4 327.6 594.1 329.8 595.7 332.0 597.0 334.2 598.0 336.4 598.7 338.6 599.2 340.6 599.6 342.5 600.2 344.0 601.0 345.1 602.1 345.8 603.3 346.3 604.6 346.7 606.0 347.3 607.4 348.0 609.0 349.0 610.7 350.0 612.5 351.1 614.4 352.3 616.3 353.6 618.2 355.0 620.0 356.5 621.9 358.2 624.0 360.0 626.1 361.8 627.9 363.5 629.3 365.0 630.0 366.5 630.0 368.0 629.3 369.4 628.2 370.7 626.8 371.6 625.4 372.0 624.0 371.9 622.6 371.3 621.1 370.4 619.5 369.3 617.9 368.1 616.4 367.0 615.0 365.8 613.9 364.5 613.0 363.1 612.2 361.6 611.4 360.3 610.4 359.0 609.0 357.8 607.2 356.7 605.1 355.6 602.8 354.6 600.4 353.7 598.1 353.0 596.0 352.5 594.3 352.2 592.8 352.1 591.4 352.0 589.9 351.8 588.2 351.5 586.0 351.0 583.4 350.5 580.3 349.9 577.1 349.3 573.7 348.6 570.3 348.0 567.0 347.4 563.8 346.7 560.7 346.0 557.5 345.4 554.3 344.7 551.2 344.0 548.0 343.3 544.8 342.7 541.7 342.0 538.5 341.3 535.3 340.7 532.2 340.0 529.0 339.3 525.8 338.6 522.7 337.9 519.5 337.2 516.3 336.6 513.2 336.0 510.0 335.6 506.8 335.2 503.7 334.9 500.5 334.6 497.3 334.3 494.2 334.0 491.0 333.7 487.8 333.3 484.6 332.9 481.4 332.6 478.3 332.3 475.1 332.0 472.0 331.9 468.8 332.0 465.6 332.1 462.4 332.0 459.3 331.7 456.5 331.0 454.0 329.8 452.0 328.4 450.3 326.7 448.8 324.7 447.5 322.5 446.3 320.0 445.0 317.2 443.7 314.0 442.5 310.5 441.4 306.9 440.3 303.4 439.1 300.0 438.0 296.5 436.6 292.6 434.9 288.8 433.1 285.3 431.7 282.6 430.9Z" fill="#a9a9a9"/>
<path d="M533.0,584.0L535.0 584.3 538.0 584.3 541.7 584.1 545.7 583.8 549.6 583.4 553.0 583.0 556.0 582.6 558.9 582.2 561.7 581.8 564.4 581.2 567.2 580.6 570.0 580.0 572.8 579.3 575.7 578.5 578.6 577.6 581.4 576.7 584.2 575.9 587.0 575.0 589.7 574.2 592.4 573.3 595.0 572.5 597.6 571.7 600.3 570.8 603.0 570.0 605.8 569.2 608.6 568.4 611.4 567.6 614.3 566.8 617.2 565.9 620.0 565.0 622.8 563.9 625.7 562.7 628.6 561.5 631.4 560.3 634.2 559.1 637.0 558.0 639.7 557.1 642.4 556.3 645.0 555.6 647.6 554.8 650.3 554.0 653.0 553.0 655.8 551.9 658.6 550.7 661.4 549.4 664.3 548.1 667.2 546.6 670.0 545.0 672.9 543.2 675.8 541.3 678.8 539.3 681.6 537.2 684.4 535.1 687.0 533.0 689.5 530.9 691.9 528.6 694.1 526.4 696.3 524.1 698.2 522.0 700.0 520.0 701.6 518.2 703.1 516.4 704.5 514.8 705.6 513.2 706.5 511.6 707.0 510.0 707.2 508.1 707.1 505.8 706.8 503.6 706.2 501.6 705.3 500.3 704.0 500.0 702.3 500.9 700.1 502.7 697.6 505.2 694.9 508.0 692.3 510.7 690.0 513.0 687.9 514.8 686.0 516.6 684.1 518.2 682.2 519.8 680.2 521.4 678.0 523.0 675.6 524.7 673.0 526.4 670.3 528.2 667.6 529.9 664.8 531.5 662.0 533.0 659.1 534.3 656.1 535.5 653.0 536.6 650.0 537.7 647.3 538.8 645.0 540.0 643.2 541.3 642.0 542.7 641.0 544.1 640.0 545.5 638.8 546.8 637.0 548.0 634.7 549.0 632.0 549.9 629.1 550.7 626.0 551.4 622.9 552.2 620.0 553.0 617.2 553.8 614.3 554.7 611.4 555.6 608.6 556.4 605.8 557.2 603.0 558.0 600.3 558.7 597.6 559.4 595.0 560.0 592.4 560.6 589.7 561.3 587.0 562.0 584.3 562.8 581.5 563.6 578.8 564.4 575.9 565.3 573.0 566.2 570.0 567.0 566.8 567.8 563.3 568.7 559.8 569.5 556.3 570.3 553.0 571.2 550.0 572.0 547.3 572.8 544.8 573.6 542.5 574.4 540.4 575.2 538.6 576.1 537.0 577.0 535.5 578.1 534.1 579.5 532.9 580.9 532.2 582.2 532.2 583.3Z" fill="#9c9c9c"/>
<ellipse cx="405" cy="140" rx="35" ry="12" transform="rotate(40 405 140)" fill="#9a9a9a"/>
<path d="M620.0,262.0L622.6 259.1 626.4 257.3 631.4 256.1 637.1 255.4 643.4 254.8 650.0 254.0 657.5 252.6 666.2 250.7 675.5 249.0 684.7 247.9 693.1 248.1 700.0 250.0 705.6 254.1 710.4 260.1 714.5 267.2 717.8 275.0 720.3 282.8 722.0 290.0 722.7 296.8 722.4 303.6 721.2 310.5 719.6 317.3 717.8 323.8 716.0 330.0 714.1 335.9 711.9 341.6 709.5 347.1 707.0 352.3 704.4 357.3 702.0 362.0 699.7 366.9 697.3 372.1 695.0 377.1 692.7 381.2 690.3 384.0 688.0 385.0 685.7 383.6 683.3 380.1 681.0 375.3 678.7 369.9 676.3 364.5 674.0 360.0 671.7 356.2 669.4 352.4 667.1 348.8 664.7 345.2 662.4 341.6 660.0 338.0 657.6 334.3 655.1 330.6 652.7 326.9 650.2 323.2 647.6 319.6 645.0 316.0 642.2 312.7 639.1 309.7 636.1 306.8 633.1 303.6 630.3 300.1 628.0 296.0 625.7 290.8 623.3 284.7 621.1 278.2 619.5 271.9 619.0 266.3Z" fill="#888888"/>
<path d="M690 103L760 103L745 160L720 220L690 260L660 250L690 200L700 150Z" fill="#8a8a8a"/>
<path d="M505.0,103.0L526.7 99.2 558.9 97.0 596.4 96.5 634.2 97.4 667.1 99.6 690.0 103.0 702.0 108.1 707.0 115.1 707.2 123.4 704.6 132.4 701.5 141.4 700.0 150.0 699.7 158.2 698.8 166.6 697.4 175.1 695.4 183.6 692.9 191.9 690.0 200.0 686.8 208.2 683.3 216.8 679.2 225.2 674.5 233.0 668.8 239.8 662.0 245.0 653.4 248.5 643.0 250.5 631.8 251.4 620.3 251.7 609.5 251.8 600.0 252.0 591.9 252.6 584.7 253.4 578.0 253.9 571.8 253.8 565.8 252.6 560.0 250.0 554.3 245.6 548.8 239.9 543.6 233.0 538.7 225.5 534.2 217.7 530.0 210.0 526.2 202.3 522.7 194.3 519.6 186.1 516.7 177.6 514.2 168.9 512.0 160.0 508.0 150.2 501.7 139.4 495.8 128.4 492.7 118.0 494.9 109.3Z" fill="#a2a2a2"/>
<path d="M574.0,254.0L577.9 254.1 582.5 254.6 587.4 255.5 592.3 256.6 596.6 258.0 600.0 259.5 602.2 261.1 603.6 263.0 604.5 265.1 605.1 267.3 605.9 269.6 607.0 272.0 608.5 274.6 610.1 277.4 611.9 280.3 613.6 283.2 615.4 285.8 617.0 288.0 618.4 289.5 619.7 290.6 620.9 291.3 622.3 292.1 623.9 293.2 626.0 295.0 628.7 297.5 631.9 300.6 635.4 303.9 639.0 307.4 642.2 310.9 645.0 314.0 647.1 316.8 648.9 319.4 650.3 322.0 651.7 324.6 653.2 327.2 655.0 330.0 657.2 333.0 659.7 336.3 662.3 339.6 664.9 342.9 667.1 346.0 669.0 349.0 670.2 351.6 671.0 353.8 671.5 355.9 672.0 358.2 672.8 360.8 674.0 364.0 676.0 368.0 678.5 372.7 681.3 377.8 684.0 382.9 686.4 387.8 688.0 392.0 688.8 395.6 689.0 398.9 688.8 401.8 688.4 404.6 688.0 407.3 688.0 410.0 688.2 412.6 688.6 415.0 688.9 417.4 689.3 419.7 689.7 422.2 690.0 425.0 690.2 428.0 690.3 431.2 690.4 434.5 690.6 437.9 690.7 441.4 691.0 445.0 691.3 448.8 691.6 452.7 692.0 456.8 692.5 460.8 693.1 464.6 694.0 468.0 695.2 471.0 696.6 473.7 698.2 476.2 699.9 478.5 701.5 480.8 703.0 483.0 704.4 485.3 706.0 487.5 707.5 489.6 708.8 491.6 709.7 493.4 710.0 495.0 709.8 496.2 709.1 497.1 708.0 497.8 706.6 498.4 704.9 499.1 703.0 500.0 700.7 501.1 698.0 502.2 695.1 503.4 692.0 504.7 688.9 505.9 686.0 507.0 683.3 508.0 680.6 509.0 678.0 510.0 675.4 511.0 672.7 512.0 670.0 513.0 667.1 514.1 664.1 515.2 661.0 516.4 658.0 517.6 655.3 518.8 653.0 520.0 651.3 521.3 650.3 522.7 649.5 524.2 648.6 525.6 647.2 526.9 645.0 528.0 641.7 528.9 637.6 529.7 633.1 530.3 628.4 530.9 623.9 531.4 620.0 532.0 616.7 532.5 613.7 532.9 610.9 533.3 608.3 533.7 605.7 534.3 603.0 535.0 600.3 536.0 597.6 537.3 595.0 538.6 592.4 540.0 589.7 541.1 587.0 542.0 584.4 542.5 582.0 542.8 579.6 542.9 576.9 543.0 573.8 543.0 570.0 543.0 565.4 543.1 560.2 543.1 554.6 543.1 548.7 543.0 542.7 543.0 537.0 543.0 531.4 543.0 525.7 543.0 520.0 543.1 514.3 543.1 508.6 543.1 503.0 543.0 497.3 543.0 491.6 543.0 485.9 542.9 480.4 542.8 475.0 542.5 470.0 542.0 465.2 541.2 460.6 540.1 456.2 538.9 452.1 537.6 448.3 536.3 445.0 535.0 442.3 533.9 440.1 532.9 438.2 531.8 436.6 530.6 434.9 529.0 433.0 527.0 430.6 524.6 427.7 521.9 424.9 518.8 422.4 515.4 420.6 511.5 420.0 507.0 421.0 501.7 423.3 495.7 426.4 489.1 429.7 482.4 432.4 476.0 434.0 470.0 434.4 464.7 433.9 459.9 433.0 455.2 431.9 450.5 430.8 445.5 430.0 440.0 429.4 434.4 428.9 428.9 428.3 423.1 427.9 416.7 427.8 409.1 428.0 400.0 428.6 388.5 429.4 374.8 430.4 360.0 431.7 345.2 433.3 331.5 435.0 320.0 436.9 310.7 439.0 302.8 441.3 295.9 443.9 290.0 446.8 284.8 450.0 280.0 453.0 275.9 455.7 272.7 458.7 270.2 462.6 268.2 468.2 266.5 476.0 265.0 487.5 263.9 502.3 263.3 518.8 263.1 535.0 262.9 549.4 262.7 560.0 262.0 566.2 260.8 569.4 259.2 570.6 257.5 571.0 255.9 571.8 254.6Z" fill="#a9a9a9"/>
<path d="M428.0,513.0L429.4 517.2 431.7 520.2 434.6 522.4 437.9 524.3 441.4 526.0 445.0 528.0 448.4 530.3 451.8 532.6 455.4 534.8 459.5 536.8 464.3 538.6 470.0 540.0 476.9 541.1 484.8 541.9 493.4 542.4 502.4 542.8 511.4 543.0 520.0 543.0 528.7 542.9 537.9 542.5 547.1 542.0 555.8 541.4 563.6 540.7 570.0 540.0 574.8 539.3 578.1 538.5 580.6 537.6 582.6 536.7 584.6 535.9 587.0 535.0 589.7 534.1 592.4 533.3 595.0 532.4 597.6 531.5 600.3 530.7 603.0 530.0 605.6 529.5 608.0 529.3 610.4 529.1 613.1 528.7 616.2 528.1 620.0 527.0 624.8 525.3 630.4 523.2 636.5 520.8 642.6 518.1 648.2 515.5 653.0 513.0 656.8 510.5 660.1 507.8 662.9 505.1 665.4 502.5 667.8 500.1 670.0 498.0 672.1 496.4 673.9 495.3 675.6 494.3 677.1 493.3 678.5 491.9 680.0 490.0 681.5 487.4 683.1 484.4 684.6 481.1 685.9 477.5 687.1 473.8 688.0 470.0 688.7 466.1 689.1 462.0 689.4 457.7 689.5 453.4 689.4 449.1 689.0 445.0 688.2 440.9 687.0 436.8 685.5 432.7 684.0 428.8 682.8 425.2 682.0 422.0 681.8 419.7 682.0 418.3 682.4 417.2 682.8 415.8 683.1 413.6 683.0 410.0 682.6 404.4 682.1 397.0 681.4 388.8 680.6 380.7 679.4 373.4 678.0 368.0 676.1 364.6 673.7 362.7 671.1 361.8 668.5 361.1 666.0 360.4 664.0 359.0 662.5 357.0 661.2 354.9 660.2 352.6 659.2 350.2 658.2 347.7 657.0 345.0 655.6 342.1 654.1 338.9 652.6 335.6 651.0 332.2 649.5 329.0 648.0 326.0 646.7 323.2 645.7 320.6 644.6 318.1 643.4 315.6 642.0 313.3 640.0 311.0 637.5 308.8 634.4 306.7 631.1 304.8 627.7 302.8 624.2 300.9 621.0 299.0 617.8 297.3 614.4 295.7 611.1 294.2 608.0 292.6 605.2 290.6 603.0 288.0 601.7 284.5 601.2 280.2 601.1 275.6 600.9 271.0 600.0 267.0 598.0 264.0 595.4 262.1 592.8 261.0 589.6 260.4 585.1 260.1 578.8 260.1 570.0 260.0 557.4 259.8 541.0 259.6 522.9 259.6 504.7 259.9 488.5 260.7 476.0 262.0 467.6 263.8 461.9 266.0 458.1 268.6 455.3 271.8 452.9 275.5 450.0 280.0 446.8 285.4 443.9 291.7 441.3 298.6 439.0 305.9 436.9 313.1 435.0 320.0 433.3 326.7 431.8 333.3 430.6 340.0 429.5 346.7 428.7 353.3 428.0 360.0 427.6 366.7 427.4 373.3 427.4 380.0 427.6 386.7 427.8 393.3 428.0 400.0 428.2 406.8 428.4 413.7 428.8 420.6 429.1 427.4 429.5 433.9 430.0 440.0 430.7 445.4 431.6 450.3 432.5 454.8 433.3 459.4 433.9 464.4 434.0 470.0 433.3 476.7 431.9 484.4 430.2 492.4 428.7 500.3 427.8 507.3Z" fill="#bcbcbc"/>
<path d="M437.0,520.0L440.8 524.4 445.8 527.4 451.6 529.3 457.9 530.6 464.2 531.7 470.0 533.0 475.5 534.3 481.0 535.4 486.4 536.2 491.9 536.9 497.4 537.4 503.0 538.0 508.6 538.6 514.3 539.1 520.0 539.5 525.7 539.8 531.4 540.0 537.0 540.0 542.6 539.9 548.1 539.6 553.6 539.2 559.0 538.6 564.5 537.9 570.0 537.0 575.5 535.9 581.0 534.5 586.4 533.0 591.9 531.4 597.4 529.7 603.0 528.0 608.7 526.3 614.6 524.6 620.5 522.8 626.3 521.0 631.8 519.0 637.0 517.0 641.8 514.8 646.3 512.5 650.6 510.1 654.7 507.7 658.5 505.3 662.0 503.0 665.3 500.9 668.3 498.9 671.1 496.9 673.6 494.8 675.9 492.6 678.0 490.0 679.9 487.1 681.6 484.0 683.0 480.8 684.2 477.3 685.2 473.7 686.0 470.0 686.6 466.1 686.9 462.0 687.0 457.7 686.9 453.4 686.6 449.1 686.0 445.0 685.1 440.9 683.8 436.8 682.2 432.7 680.7 428.8 679.2 425.2 678.0 422.0 677.1 419.5 676.4 417.8 675.8 416.3 675.3 414.8 674.7 412.8 674.0 410.0 673.3 406.1 672.6 401.3 671.9 396.1 671.1 390.9 670.1 386.0 669.0 382.0 667.7 378.9 666.3 376.3 664.8 374.1 663.1 372.1 661.2 370.2 659.0 368.0 656.2 365.7 652.6 363.4 648.8 361.2 645.3 358.9 642.5 356.5 641.0 354.0 641.2 351.2 642.9 348.3 645.2 345.2 647.7 342.2 649.5 339.4 650.0 337.0 649.1 335.3 647.5 334.3 645.2 333.4 642.4 332.4 639.3 330.7 636.0 328.0 632.3 323.8 628.1 318.4 623.5 312.4 618.8 306.3 614.2 300.6 610.0 296.0 605.8 292.5 601.3 289.7 596.9 287.3 593.0 285.2 589.9 283.2 588.0 281.0 588.1 278.7 589.9 276.5 592.6 274.3 595.2 272.2 596.6 270.1 596.0 268.0 593.6 265.7 590.4 263.2 586.0 260.8 580.3 258.6 573.0 256.9 564.0 256.0 551.9 256.0 536.5 256.6 519.6 257.7 502.8 259.2 487.7 261.0 476.0 263.0 468.0 265.0 462.3 267.1 458.4 269.4 455.6 272.3 453.0 275.7 450.0 280.0 446.8 285.3 443.9 291.6 441.3 298.6 439.0 305.8 436.9 313.1 435.0 320.0 433.3 326.7 431.8 333.3 430.6 340.0 429.5 346.7 428.7 353.3 428.0 360.0 427.6 366.7 427.4 373.3 427.4 380.0 427.6 386.7 427.8 393.3 428.0 400.0 428.2 406.8 428.4 413.7 428.8 420.6 429.1 427.4 429.5 433.9 430.0 440.0 430.6 445.3 431.2 450.0 431.9 454.4 432.7 458.9 433.4 464.0 434.0 470.0 434.2 477.6 434.0 486.6 433.7 496.1 433.8 505.3 434.8 513.6Z" fill="#cdcdcd"/>
<path d="M440.0,500.0L441.7 502.6 443.7 504.4 445.8 505.6 448.1 506.4 450.5 507.1 453.0 508.0 455.6 509.0 458.4 509.8 461.2 510.6 464.2 511.3 467.1 512.1 470.0 513.0 472.8 514.1 475.7 515.3 478.6 516.5 481.4 517.7 484.2 518.9 487.0 520.0 489.7 521.0 492.4 521.9 495.0 522.8 497.6 523.6 500.3 524.3 503.0 525.0 505.8 525.7 508.6 526.4 511.4 527.0 514.3 527.5 517.2 527.9 520.0 528.0 522.8 527.8 525.7 527.2 528.6 526.5 531.4 525.8 534.2 525.2 537.0 525.0 539.8 525.2 542.7 525.6 545.5 526.2 548.2 526.9 550.8 527.5 553.0 528.0 554.8 528.4 556.3 528.9 557.5 529.4 558.7 529.7 560.2 530.0 562.0 530.0 564.2 529.8 566.8 529.5 569.5 529.1 572.3 528.5 575.2 527.8 578.0 527.0 580.8 526.1 583.6 525.0 586.4 523.8 589.3 522.5 592.2 521.2 595.0 520.0 597.8 518.8 600.7 517.6 603.6 516.4 606.4 515.3 609.2 514.1 612.0 513.0 614.8 512.0 617.6 511.0 620.3 510.0 623.0 509.0 625.6 508.0 628.0 507.0 630.3 505.9 632.4 504.7 634.4 503.4 636.3 502.2 638.2 501.1 640.0 500.0 641.8 499.1 643.6 498.2 645.3 497.4 647.0 496.6 648.5 495.8 650.0 495.0 651.3 494.2 652.3 493.6 653.3 492.9 654.3 492.2 655.5 491.2 657.0 490.0 658.9 488.4 661.0 486.6 663.3 484.6 665.7 482.5 667.9 480.3 670.0 478.0 671.9 475.8 673.8 473.5 675.6 471.2 677.2 468.7 678.7 466.0 680.0 463.0 681.2 459.6 682.3 455.8 683.2 451.8 683.9 447.7 684.2 443.8 684.0 440.0 683.1 436.5 681.7 433.1 679.9 429.8 677.9 426.5 675.8 423.2 674.0 420.0 672.4 416.7 670.8 413.4 669.2 410.1 667.6 406.9 665.9 403.9 664.0 401.0 661.8 398.4 659.3 396.0 656.7 393.7 654.1 391.5 651.9 389.3 650.0 387.0 648.6 384.7 647.7 382.3 646.9 380.0 646.3 377.7 645.7 375.3 645.0 373.0 644.2 370.6 643.5 368.2 642.8 365.8 642.0 363.4 641.1 361.1 640.0 359.0 638.5 357.1 636.6 355.3 634.6 353.7 632.8 352.1 631.5 350.6 631.0 349.0 631.7 347.5 633.5 346.2 635.8 344.9 638.0 343.5 639.6 341.9 640.0 340.0 639.1 337.8 637.2 335.4 634.8 332.9 631.9 330.1 628.9 327.2 626.0 324.0 623.1 320.5 619.9 316.5 616.5 312.3 613.1 308.2 609.9 304.3 607.0 301.0 604.4 298.2 602.0 295.9 599.7 293.8 597.5 291.9 595.3 290.0 593.0 288.0 590.7 285.9 588.5 283.8 586.3 281.8 584.0 279.7 581.6 277.8 579.0 276.0 576.1 274.3 573.1 272.7 569.9 271.2 566.6 269.8 563.3 268.4 560.0 267.0 556.9 265.6 554.1 264.1 551.2 262.6 548.1 261.3 544.4 260.0 540.0 259.0 534.4 258.1 527.9 257.2 520.8 256.4 513.7 255.9 506.9 255.7 501.0 256.0 496.0 256.7 491.7 257.9 487.7 259.4 483.9 261.1 480.1 263.0 476.0 265.0 471.6 266.9 467.0 268.6 462.4 270.6 457.9 272.9 453.7 276.0 450.0 280.0 446.8 285.2 443.9 291.5 441.3 298.4 439.0 305.7 436.9 313.0 435.0 320.0 433.3 326.7 431.8 333.3 430.6 340.0 429.5 346.7 428.7 353.3 428.0 360.0 427.6 366.7 427.4 373.3 427.4 380.0 427.6 386.7 427.8 393.3 428.0 400.0 428.2 406.8 428.4 413.7 428.8 420.6 429.1 427.4 429.5 433.9 430.0 440.0 430.5 445.6 431.1 450.7 431.8 455.6 432.4 460.4 433.2 465.1 434.0 470.0 434.8 475.3 435.6 480.8 436.4 486.4 437.4 491.6 438.6 496.3Z" fill="#dcdcdc"/>
<path d="M437.0,390.0L437.2 388.2 437.3 386.3 437.6 384.5 437.9 382.7 438.4 380.8 439.0 379.0 439.8 377.2 440.8 375.5 441.9 373.8 443.1 372.0 444.5 370.1 446.0 368.0 447.7 365.6 449.6 362.9 451.7 360.1 453.8 357.3 455.9 354.6 458.0 352.0 460.0 349.6 462.0 347.4 464.0 345.2 466.0 343.1 468.0 341.0 470.0 339.0 472.0 337.0 473.9 335.1 475.9 333.3 477.9 331.5 479.9 329.8 482.0 328.0 484.2 326.2 486.6 324.5 488.9 322.8 491.3 321.1 493.7 319.5 496.0 318.0 498.2 316.7 500.5 315.5 502.7 314.4 504.9 313.4 507.0 312.2 509.0 311.0 511.0 309.5 513.0 307.9 514.9 306.2 516.8 304.6 518.5 303.1 520.0 302.0 521.2 301.2 522.1 300.7 522.8 300.4 523.6 300.2 524.6 300.1 526.0 300.0 527.9 300.0 530.3 300.0 532.9 300.1 535.5 300.3 537.9 300.6 540.0 301.0 541.6 301.5 543.0 302.1 544.2 302.8 545.3 303.6 546.6 304.3 548.0 305.0 549.7 305.8 551.4 306.7 553.3 307.6 555.2 308.3 557.1 308.9 559.0 309.0 560.8 308.6 562.7 307.9 564.5 306.8 566.3 305.7 568.2 304.7 570.0 304.0 571.8 303.6 573.6 303.3 575.4 303.1 577.2 303.0 579.1 302.9 581.0 303.0 583.1 303.1 585.4 303.1 587.8 303.2 590.1 303.6 592.2 304.1 594.0 305.0 595.2 306.3 596.0 308.0 596.5 310.0 597.1 312.1 598.2 314.1 600.0 316.0 603.0 317.8 607.0 319.6 611.5 321.4 615.7 323.1 619.1 324.6 621.0 326.0 620.8 327.1 619.0 328.0 616.4 328.8 613.6 329.4 611.6 330.2 611.0 331.0 612.4 331.9 615.2 332.7 618.7 333.5 622.1 334.4 624.8 335.6 626.0 337.0 625.1 338.8 622.7 341.0 619.5 343.3 616.3 345.7 613.9 348.0 613.0 350.0 614.2 351.7 616.9 353.3 620.4 354.8 623.9 356.1 626.7 357.5 628.0 359.0 627.3 360.5 625.1 362.1 622.2 363.8 619.4 365.3 617.4 366.7 617.0 368.0 618.8 369.0 622.2 369.9 626.4 370.6 630.7 371.3 634.2 372.0 636.0 373.0 635.7 374.1 633.7 375.3 631.0 376.6 628.3 378.0 626.3 379.5 626.0 381.0 627.8 382.7 631.3 384.5 635.6 386.4 639.8 388.3 643.2 390.2 645.0 392.0 644.6 393.7 642.6 395.4 639.8 397.1 636.9 398.7 634.7 400.3 634.0 402.0 635.0 403.6 637.2 405.0 640.1 406.5 643.1 408.1 646.0 409.9 648.0 412.0 649.3 414.5 650.3 417.3 651.0 420.4 651.5 423.6 651.8 426.8 652.0 430.0 652.1 433.2 652.1 436.6 651.9 440.0 651.5 443.4 650.9 446.8 650.0 450.0 648.9 453.2 647.4 456.4 645.8 459.6 644.0 462.7 642.0 465.5 640.0 468.0 637.9 470.2 635.7 472.0 633.4 473.6 630.9 475.1 628.1 476.5 625.0 478.0 621.4 479.5 617.4 481.1 613.1 482.6 608.7 483.9 604.3 485.1 600.0 486.0 595.8 486.7 591.6 487.1 587.3 487.4 583.1 487.5 579.0 487.4 575.0 487.0 571.1 486.1 567.2 484.7 563.4 483.1 559.8 481.6 556.3 480.4 553.0 480.0 550.0 480.4 547.3 481.4 544.7 482.9 542.2 484.4 539.7 485.9 537.0 487.0 534.2 487.8 531.3 488.5 528.4 489.1 525.6 489.5 522.7 489.8 520.0 490.0 517.4 490.0 514.9 490.0 512.4 489.8 509.9 489.4 507.5 488.9 505.0 488.0 502.6 486.8 500.2 485.3 497.8 483.5 495.4 481.6 492.8 479.8 490.0 478.0 486.9 476.4 483.5 474.9 480.0 473.4 476.5 471.8 473.1 470.0 470.0 468.0 467.2 465.8 464.5 463.3 461.9 460.8 459.5 458.0 457.2 455.1 455.0 452.0 452.8 448.6 450.7 445.0 448.7 441.1 446.9 437.3 445.3 433.5 444.0 430.0 443.2 426.7 442.8 423.4 442.6 420.3 442.6 417.3 442.4 414.5 442.0 412.0 441.3 409.8 440.4 407.8 439.4 406.1 438.4 404.4 437.6 402.8 437.0 401.0 436.7 399.2 436.6 397.3 436.6 395.5 436.7 393.7 436.8 391.8Z" fill="#efefef"/>
<path d="M511.0,329.0L517.1 326.2 521.6 325.2 524.7 325.2 527.0 325.8 529.0 326.3 531.0 326.0 532.9 324.9 534.2 323.4 535.1 321.8 535.9 320.4 536.8 319.3 538.0 319.0 539.4 319.4 540.9 320.4 542.4 321.8 544.1 323.4 546.0 325.2 548.0 327.0 550.3 329.1 552.9 331.6 555.7 334.2 558.5 336.7 561.3 338.7 564.0 340.0 566.5 340.5 568.8 340.4 571.1 339.8 573.4 339.0 576.0 338.0 579.0 337.0 582.7 335.7 587.1 334.0 591.7 332.1 596.0 330.4 599.6 329.3 602.0 329.0 602.7 329.8 601.9 331.6 600.4 333.9 598.9 336.4 597.8 338.5 598.0 340.0 599.9 340.6 603.0 340.5 606.6 340.2 610.1 339.9 612.8 340.1 614.0 341.0 613.2 342.7 610.9 345.0 607.8 347.7 604.5 350.7 601.7 353.8 600.0 357.0 599.6 360.3 600.0 363.9 600.8 367.6 601.8 371.4 602.7 375.3 603.0 379.0 602.9 382.8 602.5 386.7 602.0 390.7 601.4 394.5 600.7 398.0 600.0 401.0 599.1 403.4 597.9 405.2 596.6 406.8 595.6 408.2 594.9 409.9 595.0 412.0 596.1 414.7 598.1 417.8 600.6 421.1 603.0 424.3 605.0 427.4 606.0 430.0 606.1 432.1 605.5 433.9 604.5 435.4 603.1 436.8 601.6 438.3 600.0 440.0 598.3 442.0 596.4 444.2 594.4 446.4 592.1 448.6 589.7 450.5 587.0 452.0 584.2 453.0 581.1 453.5 577.9 453.8 574.4 454.0 570.8 454.4 567.0 455.0 562.9 456.0 558.6 457.1 554.1 458.4 549.5 459.7 544.8 461.0 540.0 462.0 535.1 463.0 530.0 464.0 524.9 464.9 519.7 465.7 514.7 466.1 510.0 466.0 505.5 465.5 501.0 464.5 496.7 463.2 492.6 461.7 488.6 459.9 485.0 458.0 481.6 455.7 478.3 453.0 475.2 450.0 472.4 447.0 470.0 444.3 468.0 442.0 466.6 440.2 465.6 438.9 465.1 437.7 464.7 436.6 464.4 435.4 464.0 434.0 463.5 432.3 463.1 430.6 462.8 428.7 462.5 426.8 462.3 424.9 462.0 423.0 461.8 421.1 461.5 419.3 461.3 417.4 461.1 415.5 461.0 413.7 461.0 412.0 461.0 410.4 461.0 408.9 461.1 407.4 461.2 405.9 461.5 404.5 462.0 403.0 462.8 401.5 464.1 400.0 465.4 398.6 466.7 397.1 467.6 395.6 468.0 394.0 467.7 392.3 467.0 390.6 465.9 388.8 464.7 387.0 463.3 385.4 462.0 384.0 460.7 382.9 459.2 382.0 457.6 381.3 456.0 380.6 454.5 379.9 453.0 379.0 450.8 378.4 447.5 378.1 444.3 377.9 442.1 377.1 442.0 375.3 445.0 372.0 452.2 366.5 463.2 358.9 476.2 350.2 489.7 341.7 501.8 334.3Z" fill="#fbfbfb"/>
<ellipse cx="336" cy="416" rx="30" ry="22" transform="rotate(-35 336 416)" fill="#f4f4f4"/>
</g>
</g>
<g clip-path="url(#tlclip)">
<path d="M215.1,158.3L217.3 158.5 219.5 158.7 221.6 158.9 223.9 159.8 226.3 159.7 228.1 158.1 229.8 156.3 231.8 155.4 233.6 154.3 235.8 153.6 238.5 153.9 240.3 152.7 241.6 150.5 243.6 149.4 245.2 147.9 246.5 145.7 247.8 147.4 247.1 149.7 247.4 152.0 249.3 153.4 251.7 153.5 253.9 153.2 256.0 154.4 258.3 155.7 260.6 155.4 262.7 153.7 264.5 151.6 266.4 150.5 268.9 151.1 271.3 151.8 273.4 151.0 275.6 151.1 277.4 152.3 279.5 153.1 281.2 154.5 282.8 156.1 284.2 157.8 284.7 160.1 286.4 161.7 288.7 160.9 290.8 160.3 292.9 160.1 295.0 159.5 297.4 160.1 299.7 160.9 301.9 160.5 304.0 160.1 306.2 159.6 308.3 158.6 310.5 158.3 312.7 158.6 314.9 158.4 317.1 158.5 319.3 158.9 321.6 158.5 323.8 158.9 325.7 161.0 327.7 161.8 330.1 161.2 332.4 160.8 334.7 160.9 336.7 161.7 338.8 162.5 341.1 162.4 343.3 162.7 345.3 163.7 347.4 164.7 349.2 166.3 350.9 167.9 352.9 168.6 355.2 168.8 357.4 169.3 359.5 169.8 361.5 170.3 363.5 171.2 365.5 170.6 367.0 168.9 368.7 167.6 370.9 167.0 373.0 166.2 375.1 165.5 376.7 166.3 378.2 167.3 380.1 168.7 380.9 170.8 382.6 172.6 385.1 172.6 387.3 171.8 389.5 171.1 391.7 171.3 393.9 171.4 396.0 171.0 398.2 170.7 400.4 170.5 402.5 169.9 404.6 168.8 406.8 168.1 409.0 169.2 410.7 170.7 413.1 170.6 415.8 170.2 417.7 171.3 419.3 172.6 421.5 172.7 423.6 172.6 425.6 173.3 427.7 175.0 429.8 176.2 432.0 175.7 434.3 175.3 436.5 175.6 438.6 176.1 440.7 177.0 442.5 178.4 444.3 179.7 446.5 180.0 448.7 180.4 450.5 181.8 452.4 182.8 455.0 182.6 457.1 183.4 458.5 185.4 460.2 186.9 462.1 187.9 464.0 189.1 465.8 190.3 467.8 191.3 469.4 192.9 471.2 194.2 473.3 194.9 475.1 196.2 476.8 197.7 479.1 198.2 481.3 198.7 482.8 200.5 484.2 202.4 485.9 203.8 488.1 204.5 490.6 204.6 492.7 205.3 494.7 206.2 496.2 208.1 497.9 209.6 500.3 209.5" fill="none" stroke="#22a884" stroke-width="2.4" stroke-linejoin="round"/>
<path d="M284.0,123.9L285.9 125.2 287.9 126.2 290.1 126.5 292.2 127.1 294.3 127.9 296.6 128.7 296.9 130.9 294.6 131.2 292.7 131.6 290.2 132.0 287.9 131.5 286.2 130.0 286.3 128.5" fill="none" stroke="#22a884" stroke-width="2.4" stroke-linejoin="round"/>
<path d="M298.0,138.1L299.9 139.2 302.1 139.5 304.6 138.9 306.9 139.2 308.8 140.4 310.6 141.9 312.4 143.5 314.4 144.5 316.6 144.8 318.7 145.4 320.9 145.7 323.3 145.7 325.4 146.1 327.4 147.3 329.3 148.3 331.5 148.7 333.6 149.3 335.8 149.8 337.9 150.6 340.0 151.1 342.0 152.0 344.1 152.8 346.6 152.2 348.7 153.1 350.1 155.4 352.3 155.8 354.5 156.3 355.8 158.7 357.6 159.6 360.5 160.0 359.0 162.3 356.6 163.0 354.2 162.8 352.0 162.3 349.7 162.0 347.6 161.4 345.3 161.3 343.3 160.2 341.7 158.3 339.5 157.8 337.4 157.3 335.4 156.3 333.2 155.8 330.9 155.9 328.8 155.3 327.2 153.2 325.5 151.2 323.4 150.6 320.9 150.9 318.5 151.2 316.5 150.5 314.7 149.0 312.5 148.4 310.0 148.7 307.9 148.0 306.1 146.6 304.4 144.9 304.4 144.0" fill="none" stroke="#22a884" stroke-width="2.4" stroke-linejoin="round"/>
<path d="M214.3,225.4L215.8 227.3 217.5 228.9 219.6 229.6 222.1 229.6 224.5 230.5 226.1 232.3 226.8 234.6 227.3 236.9 228.4 238.9 228.8 241.3 228.2 243.7 226.8 245.6 224.5 246.5 222.2 247.2 221.0 249.1 220.1 251.6 218.3 253.1 216.0 253.6 213.5 253.2" fill="none" stroke="#22a884" stroke-width="2.4" stroke-linejoin="round"/>
<path d="M214.4,142.6L216.4 141.6 218.6 141.2 220.7 140.2 222.5 138.6 224.6 137.9 227.1 137.0 228.5 135.0 228.5 132.4 228.6 130.0 230.3 128.4 232.1 126.9 232.6 124.5 234.2 123.0 236.5 122.2 237.6 120.1 238.7 117.9 240.9 117.2 243.3 117.0 245.2 115.9 247.3 115.2 249.6 115.7 251.8 115.6 253.8 114.3 255.8 113.1 257.9 112.6 259.8 111.4 261.8 110.4 264.1 110.5 266.5 110.7 268.6 110.2 270.8 109.6 272.8 108.5 274.9 107.3 277.2 107.6 279.6 109.0 281.8 109.1 283.8 107.6 284.9 106.8" fill="none" stroke="#7ad151" stroke-width="2.4" stroke-linejoin="round"/>
<path d="M224.6,117.1L227.1 117.3 229.2 116.6 230.9 115.0 232.8 114.0 235.3 114.1 237.4 113.6 239.2 112.1 241.1 110.7 243.0 109.2 245.2 108.3 247.5 108.9 249.8 109.2 252.0 109.2 254.2 109.9 256.5 109.8 258.9 109.5 260.8 110.7 262.3 113.1 263.9 114.6 265.9 115.4 268.3 115.7 270.8 116.2 272.2 118.3 272.8 120.7 272.4 123.0 271.0 124.9 270.6 127.1 269.6 129.2 267.6 130.4 265.6 131.3 263.4 131.4 261.2 131.8 259.2 132.7 257.1 133.5" fill="none" stroke="#7ad151" stroke-width="2.4" stroke-linejoin="round"/>
<path d="M280.4,112.1L281.8 109.5 283.9 108.7 286.4 109.4 288.4 108.2 290.5 107.4 292.8 108.0 295.1 108.4 297.3 108.4 299.4 108.4 301.6 108.7 303.8 108.6 305.9 109.3 307.9 110.5 310.0 111.1 312.2 111.5 314.5 110.9 316.9 110.5 318.8 111.8 321.0 112.2 323.4 111.7 325.5 112.7 326.6 114.9 327.5 117.0 329.3 119.0 332.2 119.7 334.6 118.9 336.6 117.6 338.6 116.6 340.5 115.6 342.6 115.1 344.6 115.8 346.6 116.5 347.9 118.2 349.0 120.0 351.3 120.8 353.4 122.0 354.3 124.1 355.7 125.7 358.0 127.2 358.2 129.9 356.9 132.1 355.4 133.8 353.2 135.0 351.7 136.4 350.1 138.0 348.0 138.2 346.0 137.2 344.0 136.4 341.6 136.6 339.4 136.0 337.5 135.0 335.5 134.1 333.7 132.7 331.9 131.5 329.9 130.4 328.2 129.1 325.9 128.6 323.8 127.9 322.0 126.4 319.8 126.2 317.5 126.2 315.5 125.1 313.7 123.4 311.6 122.7 309.2 123.4 306.8 124.0 304.6 123.4 302.6 122.3 300.4 122.2 298.2 122.0 296.0 121.5 293.8 121.2 291.7 120.8 289.4 120.7 287.3 120.1 285.5 118.3 285.3 117.0" fill="none" stroke="#7ad151" stroke-width="2.4" stroke-linejoin="round"/>
<path d="M358.3,105.1L359.5 106.9 361.5 108.2 363.8 109.4 364.9 111.3 365.8 113.4 367.3 115.0 369.2 116.4 370.4 118.1 371.4 120.1 372.8 121.7 374.5 123.1 376.5 124.1 377.8 125.8 378.8 128.1 380.4 129.6 382.1 131.0 383.8 132.5 386.1 132.9 388.1 134.0 389.2 136.2 390.8 137.8 392.6 139.0 394.2 140.6 396.1 141.8 398.2 142.6 400.2 143.6 402.2 144.5 404.0 145.8 405.8 147.0 408.2 147.3 410.4 148.0 411.8 149.9 413.3 151.7 415.3 152.7 417.3 153.5 419.4 154.3 421.7 154.6 423.8 155.3 425.3 157.2 427.0 158.7 429.4 158.8 431.8 159.0 433.8 159.7 435.8 160.8 437.4 162.5 438.9 164.5 440.7 165.7 443.1 165.9 445.3 166.3 447.4 167.0 449.2 168.4 450.9 170.0 453.0 170.6 455.5 170.5 457.5 171.5 458.9 173.5 460.7 175.1 462.9 175.6 465.2 175.6 467.1 176.9 468.8 178.6 470.8 179.5 473.0 180.0 475.2 180.4 477.2 181.1 479.6 181.2 481.9 181.4 483.8 182.5 485.4 184.4 487.2 186.1 489.1 187.1 491.2 187.9 493.4 188.3 495.6 188.8 497.6 189.7 499.8 190.0 502.1 190.2 502.5 191.4" fill="none" stroke="#7ad151" stroke-width="2.4" stroke-linejoin="round"/>
<path d="M240.6,135.9L242.2 134.3 243.8 132.8 245.7 132.4 247.5 133.2 249.3 134.6 250.3 136.8 249.7 139.0 247.8 140.4 245.6 140.8 243.5 141.1" fill="none" stroke="#7ad151" stroke-width="2.4" stroke-linejoin="round"/>
<path d="M214.0,107.9L216.0 106.6 218.1 106.1 220.4 106.4 222.5 105.7 224.6 105.0 226.9 105.2 229.3 105.7 231.6 105.6 233.6 104.8 235.9 104.8 236.6 105.2" fill="none" stroke="#fde725" stroke-width="2.4" stroke-linejoin="round"/>
<path d="M369.5,102.5L370.7 104.4 371.5 106.7 372.8 108.5 375.1 109.4 377.0 110.5 378.0 112.7 379.0 114.8 380.6 116.3 381.7 118.3 383.2 119.9 385.3 120.9 386.6 122.7 387.9 124.5 388.9 126.5 390.1 128.4 392.6 129.3 394.0 131.1 393.9 133.7 395.3 135.4 397.2 136.9 398.1 138.9 398.4 141.3 399.1 143.5 401.3 144.6 403.1 145.7 404.4 147.4 406.3 148.9 408.4 150.1 410.6 150.0 413.1 149.1 415.2 149.6 416.7 151.8 418.7 152.7 421.2 152.5 422.9 154.1 424.4 155.9 426.7 156.2 428.8 156.9 430.0 158.9 431.6 160.3 433.7 161.5 435.0 163.2 436.9 164.6 438.6 166.0 439.5 167.9 440.7 169.7 442.2 171.3 443.6 173.3 445.1 175.1 447.2 176.7 451.4 176.7 451.8 172.4 449.8 170.5 447.4 169.3 445.9 167.7 445.3 165.4 444.3 163.4 442.4 162.1 440.1 161.3 438.8 159.5 438.2 157.0 436.7 155.3 434.6 154.4 432.3 153.6 431.2 151.6 430.6 149.1 429.5 147.3 427.8 145.8 425.6 144.8 424.3 143.0 423.5 140.8 422.0 139.1 420.4 137.5 418.3 136.6 415.7 136.5 414.1 135.0 412.8 133.0 410.4 132.6 408.2 132.0 406.8 130.0 405.8 127.7 404.5 126.0 402.6 124.9 401.2 123.2 400.0 121.3 398.2 119.9 396.9 118.1 396.3 115.9 394.7 114.3 392.4 113.2 390.8 111.7 390.3 109.3 390.2 106.8 389.8 104.4 389.6 103.0" fill="none" stroke="#fde725" stroke-width="2.4" stroke-linejoin="round"/>
<path d="M460.9,102.4L462.6 103.8 464.0 105.8 465.4 107.8 467.3 108.9 469.5 109.5 471.8 110.2 473.1 112.0 474.0 114.2 475.3 115.9 476.1 118.0 477.5 119.6 480.1 120.5 481.8 122.0 482.6 124.1 484.5 125.5 486.0 127.1 485.9 129.9 486.4 132.3 487.5 134.2 489.2 135.6 492.0 136.4 494.1 137.6 494.6 139.9 495.0 142.3 497.0 143.7 499.0 145.0 500.4 146.7 501.6 148.6 501.8 148.9" fill="none" stroke="#fde725" stroke-width="2.4" stroke-linejoin="round"/>
<path d="M519.6,104.2L520.3 106.3 521.4 108.2 522.9 109.9 524.1 112.1 527.1 112.5 528.2 109.9 528.3 107.4 529.4 105.5 530.5 104.3" fill="none" stroke="#fde725" stroke-width="2.4" stroke-linejoin="round"/>
<path d="M213.8,180.8L216.0 180.6 218.1 179.1 220.3 179.3 222.6 180.7 224.7 180.2 227.1 179.3 229.1 180.5 230.8 182.2 233.2 182.2 235.3 182.3 237.4 182.8 239.5 182.0 241.6 181.7 243.6 182.3 244.6 184.1 245.7 186.1 248.1 186.6 250.2 186.2 252.4 186.3 254.6 186.3 256.7 185.4 258.9 185.1 261.3 185.8 262.8 186.0" fill="none" stroke="#2a788e" stroke-width="2.4" stroke-linejoin="round"/>
<path d="M305.1,181.6L305.1 179.3 306.1 177.3 307.8 175.4 308.5 173.4 309.0 171.4 310.2 169.8 312.2 169.1 314.4 169.1 316.5 169.5 318.5 169.9 320.6 170.6 322.7 171.1 325.1 170.8 327.5 170.4 329.5 171.3 331.4 172.5 333.6 172.6 335.8 172.8 337.9 172.8 340.2 173.3 342.0 174.7 343.7 176.0 345.0 178.0 346.8 179.4 349.1 179.8 350.9 181.2 353.0 181.9 355.4 181.9 357.5 182.6 359.4 183.6 361.1 185.3 362.9 186.8 365.2 187.0 367.8 186.5 369.9 187.3 371.4 189.2 373.4 190.1 375.3 191.2 376.1 193.5 377.4 195.2 380.0 195.9 381.6 197.4 382.5 199.5 383.9 201.2 385.5 202.7 387.4 203.9 389.7 204.2 391.9 204.1 394.2 204.9 395.4 207.4 393.5 208.7 391.7 210.0 389.8 211.0 387.8 212.1 385.9 213.3 384.5 215.0 383.5 217.4 382.4 219.5 381.8 219.7 381.9 219.8 383.5 222.0 385.9 222.8 388.0 221.6 390.2 220.7 392.5 221.1 394.5 222.1 396.2 223.7 398.1 224.9 400.2 225.6 402.5 226.0 404.6 226.4 406.2 227.8 407.3 228.9 409.2 230.3 409.6 232.5 408.7 234.5 407.8 235.8 406.0 237.0 403.8 237.7 405.0 240.0 407.5 240.3 409.6 240.8 411.5 241.8 413.7 242.0 416.0 241.7 418.1 241.0 420.2 240.3 422.2 239.5 424.4 239.2 426.5 239.0 428.5 237.8 430.4 236.1 432.4 234.8 434.7 234.3 437.0 234.9 439.3 235.5 441.6 235.1 443.9 235.7 445.9 236.8 448.1 237.2 450.2 237.8 452.1 238.9 454.1 239.5 456.3 239.9 458.6 240.7 460.9 240.5 462.9 239.6 465.0 238.9 467.2 238.8 469.4 239.6 471.5 239.9 473.7 238.8 476.0 237.6 478.1 238.6 480.2 240.0 482.4 239.8 484.6 239.6 486.8 239.5 489.1 239.5 491.1 240.7 493.2 241.1 495.6 240.6 497.7 241.4 499.7 242.5 501.8 243.0 503.7 244.4 504.5 245.6" fill="none" stroke="#2a788e" stroke-width="2.4" stroke-linejoin="round"/>
<path d="M213.8,213.6L216.3 213.3 218.4 213.9 220.2 215.5 221.7 217.4 223.0 219.1 224.9 220.2 227.3 221.0 229.2 222.2 230.9 223.5 232.3 225.2 233.6 226.9 235.5 227.4 237.1 228.1 239.2 228.9 241.2 228.0 242.8 226.5 244.9 225.6 246.6 224.1 248.0 222.3 250.3 222.2 252.5 222.2 254.5 220.8 256.7 220.6 259.0 221.4 261.2 220.5 263.3 219.1 265.5 219.6 267.8 220.9 269.9 221.4 271.5 221.4 271.7 222.0 270.6 223.4 269.1 224.6 267.4 225.9 265.3 226.5 263.0 227.0 261.0 228.3 259.3 229.9 258.0 231.7 257.3 234.0 257.3 236.5 256.7 238.5 255.8 240.4 255.4 242.5 255.0 244.5 254.8 246.4 254.4 248.3 254.7 250.5 256.4 251.8 258.5 252.4 260.6 253.0 262.3 254.7 263.6 257.0 265.8 257.9 268.2 257.0 270.0 255.8 271.9 254.7 273.7 253.2 276.0 252.9 278.4 253.7 280.5 253.2 282.6 252.2 284.8 251.8 287.0 251.4 288.9 250.2 290.7 248.2 292.8 247.2 295.1 247.3 297.3 247.2 299.5 247.7 301.9 249.0 304.1 248.8 306.2 247.6 308.3 247.2 310.6 247.1 312.9 246.7 314.6 245.1 316.2 243.3 318.2 242.4 320.4 241.9 322.4 241.0 324.7 241.0 327.0 240.8 328.8 239.3 330.9 238.7 333.3 239.2 335.3 238.0 337.0 235.9 339.0 234.8 341.3 234.9 343.8 235.7 346.1 235.4 347.7 233.5 349.5 231.8 351.9 232.3 354.3 233.2 356.7 232.8 359.1 232.2 360.6 230.3 361.8 228.0 364.0 227.6 366.3 227.2 368.0 225.8 370.0 224.7 372.1 224.0 374.1 222.9 376.2 222.4 378.6 222.9 381.0 223.5 381.5 223.8" fill="none" stroke="#2a788e" stroke-width="2.4" stroke-linejoin="round"/>
<path d="M215.0,235.0L215.9 237.2 217.6 238.7 218.9 240.5 219.7 242.7 221.2 244.4 223.3 245.4 225.5 246.1 227.6 247.1 229.1 248.9 229.7 251.3 229.2 253.3 228.3 255.0 227.3 256.9 226.8 259.2 226.4 261.2 225.7 263.6 226.7 265.8 229.2 266.7 231.2 267.8 232.3 269.8 233.3 271.8 234.8 273.6 236.8 274.6 238.9 275.4 241.0 276.3 243.3 276.8 245.9 278.0 246.2 280.8 244.1 283.0 243.3 284.8 243.0 287.0 241.6 288.7 240.9 290.9 239.8 292.9 237.5 293.7 235.4 294.4 233.5 295.4 232.1 297.2 230.7 299.2 228.4 299.6 225.9 299.7 224.1 300.9 222.6 302.7 220.6 303.7 218.6 304.6 216.7 305.8 215.6 305.3" fill="none" stroke="#2a788e" stroke-width="2.4" stroke-linejoin="round"/>
<path d="M299.9,261.7L302.2 261.5 304.2 260.7 305.8 258.8 307.7 257.2 310.0 256.3 312.6 256.0 315.2 256.5 317.2 258.0 318.6 260.3 320.2 262.3 322.6 262.5 325.0 261.8 327.1 261.6 329.3 261.1 331.0 259.5 332.9 258.5 335.4 258.8 337.5 258.3 339.7 256.8 342.1 256.4 344.2 257.8 346.1 259.4 348.3 259.6 350.1 261.0 351.4 262.3 352.2 264.4 350.7 266.3 348.3 267.0 346.4 268.1 345.4 270.4 343.8 272.2 341.7 273.3 339.6 273.9 337.0 273.5 334.6 274.6 335.9 276.7 337.9 277.2 339.4 279.2 341.1 280.8 343.3 281.2 345.3 282.0 346.7 283.5 347.3 285.0 346.8 286.7 345.8 288.7 344.4 290.5 342.2 291.2 339.9 291.1 337.9 291.7 335.8 292.0 333.7 291.0 331.5 291.0 329.0 292.2 326.7 292.2 324.5 291.5 322.5 290.4 320.9 288.4 319.1 287.0 317.2 286.0 315.4 284.8 312.9 284.7 310.4 284.5 308.5 283.3 307.3 281.1 306.4 278.8 304.3 277.9 302.0 277.2 301.5 276.6" fill="none" stroke="#2a788e" stroke-width="2.4" stroke-linejoin="round"/>
<path d="M364.7,249.2L366.8 248.6 368.8 247.5 370.8 246.6 372.9 245.5 375.0 244.8 377.4 244.7 379.8 244.6 382.1 245.6 384.2 246.6 386.4 246.9 388.5 247.7 390.4 248.7 392.3 250.3 394.6 250.6 396.7 249.5 399.0 249.0 400.5 247.2 401.4 244.8 403.6 243.9 405.9 244.8 408.0 245.0 410.4 243.9 412.6 244.4 414.1 246.5 415.9 247.4 418.9 247.9 418.4 250.7 416.1 251.9 414.7 253.6 413.1 255.1 410.9 256.9 411.7 259.6 413.7 261.3 415.6 262.7 417.7 263.7 419.9 264.3 422.3 264.5 424.6 263.8 426.7 263.3 429.2 263.8 431.4 263.1 432.9 261.2 434.4 259.5 436.3 258.0 438.6 257.8 440.9 258.1 443.2 257.9 445.2 258.9 447.1 260.0 449.4 260.1 451.6 260.4 453.6 260.7 455.6 261.6 458.0 262.5 460.0 261.1 461.8 259.7 464.2 259.8 466.3 259.5 468.2 258.2 470.4 257.3 472.8 257.1 475.0 257.8 477.1 258.6 479.1 259.5 481.1 260.7 483.2 261.1 485.2 262.0 487.3 262.8 489.6 262.8 491.8 263.1 493.9 263.8 495.7 265.2 497.2 267.0 498.8 268.0 500.2 269.4 500.6 271.5 501.1 273.7 501.9 276.1 500.8 278.3 498.2 279.6 497.3 281.4 497.1 284.0 495.2 285.2 492.9 285.9 491.5 287.6 490.7 290.3 489.0 291.9 486.5 292.1 484.3 292.5 481.9 292.8 479.9 291.5 478.0 290.4 475.8 289.9 473.6 289.3 471.3 289.2 469.0 289.8 467.3 291.4 465.9 293.2 464.1 294.5 461.9 295.4 460.5 297.1 459.6 299.3 457.5 300.2 455.1 300.4 453.5 301.9 451.9 303.8 449.7 304.3 447.5 304.5 445.4 305.5 443.3 306.1 441.5 307.4 439.6 308.6 437.4 309.1 435.4 310.0 433.4 310.6 431.4 310.8 429.6 310.7 427.8 310.0 425.9 309.3 423.6 308.8 421.7 307.6 420.4 305.7 418.4 304.8 416.0 304.5 414.3 303.3 412.7 301.5 411.0 300.1 409.4 298.5 408.1 296.6 406.7 295.1 405.2 293.8 403.5 292.6 401.1 291.5 399.6 289.8 399.7 287.1 398.9 284.8 396.9 283.5 394.8 282.2 392.4 281.9 390.2 281.7 388.0 281.4 385.7 282.0 383.5 281.2 381.6 280.0 379.4 279.3 377.6 277.9 375.8 276.6 373.9 275.4 372.8 273.3 372.2 271.1 371.3 269.2 370.4 267.2 369.6 265.2 368.6 263.2 368.2 261.9" fill="none" stroke="#2a788e" stroke-width="2.4" stroke-linejoin="round"/>
<path d="M214.4,346.2L216.2 344.7 218.3 344.1 220.5 343.6 222.4 342.2 224.6 341.8 226.7 342.6 228.7 342.8 231.4 342.3 233.8 343.0 234.8 345.4 235.5 348.0 237.4 349.2 239.7 349.8 241.3 351.4 243.0 352.9 244.8 354.4 247.0 354.9 249.5 354.8 251.4 356.0 253.7 356.0 255.8 355.0 257.6 354.4 259.5 353.6 261.8 353.1 263.6 351.7 265.1 349.6 267.4 349.0 269.8 349.9 272.0 350.5 274.3 349.8 276.6 349.5 278.7 350.0 280.9 350.3 282.9 351.5 285.1 352.3 287.1 351.1 289.1 350.5 291.4 350.2 293.1 348.5 295.0 347.1 297.5 347.2 299.8 348.2 301.8 349.1 304.0 349.1 306.5 348.7 308.7 349.3 310.6 350.6 312.3 352.1 314.1 353.5 315.9 354.8 318.0 355.6 320.3 355.7 322.5 356.0 324.6 356.6 326.9 356.8 328.8 357.8 330.6 359.4 332.9 358.9 335.0 358.7 337.1 359.4 339.1 358.7 341.2 358.0 343.7 358.4 345.7 357.7 347.6 356.2 349.7 355.4 352.0 355.4 354.2 356.3 356.5 356.4 358.8 356.4 360.7 357.9 362.5 359.2 364.8 359.6 366.5 360.9 368.0 363.0 369.8 364.3 372.0 364.8 374.1 365.4 376.3 366.1 378.6 366.4 380.4 367.3" fill="none" stroke="#2a788e" stroke-width="2.4" stroke-linejoin="round"/>
<path d="M400.5,319.6L401.7 321.4 403.1 323.1 404.6 324.8 405.9 326.5 407.7 327.9 409.5 329.3 410.9 331.1 412.5 332.7 413.8 334.6 413.8 337.2 413.6 339.7 414.7 341.6 415.5 343.7 415.5 346.1 416.4 348.1 418.4 349.6 420.1 351.2 421.2 353.0 422.2 355.1 423.6 356.8 426.0 357.5 427.5 359.1 428.1 361.5 429.0 363.4 429.5 365.4 429.6 367.5 429.5 369.7 428.1 371.5 427.5 373.6 428.3 376.2 427.8 378.4 426.7 380.3 425.9 382.3 425.4 384.4 425.3 386.6 424.7 388.8 424.0 391.2 424.2 393.5 425.7 395.5 427.2 397.3 427.3 399.6 426.8 400.3" fill="none" stroke="#2a788e" stroke-width="2.4" stroke-linejoin="round"/>
<path d="M585.1,254.8L587.2 255.3 589.2 256.4 591.0 257.7 593.0 258.6 595.1 259.2 597.2 260.0 599.0 261.4 600.0 263.5 601.6 264.8 604.0 265.7 605.4 267.4 606.7 269.2 607.4 271.3 608.4 273.4 610.6 274.5 612.5 275.9 614.0 277.5 615.0 279.5 615.7 281.7 617.1 283.4 618.2 285.3 618.7 287.6 620.1 289.3 620.7 289.6" fill="none" stroke="#2a788e" stroke-width="2.4" stroke-linejoin="round"/>
<path d="M239.3,298.5L241.5 298.0 243.7 297.5 246.1 297.4 248.0 296.3 250.1 294.4 252.6 294.8 254.6 296.5 256.5 297.7 258.0 299.4 259.4 301.0 260.7 302.6 261.1 304.5 261.0 306.3 260.7 308.4 260.1 310.6 259.7 312.8 259.2 314.5 258.9 316.3 259.3 318.5 260.4 320.4 262.4 321.5 263.8 323.2 265.0 325.4 266.9 326.5 269.0 327.4 270.9 328.7 273.1 329.3 275.4 329.4 277.6 329.6 279.8 329.1 281.8 329.0 284.0 329.1 285.9 328.1 287.5 326.7 288.8 325.1 290.1 323.5 291.7 322.0 292.3 319.9 291.6 317.7 290.1 315.9 289.2 313.9 289.4 311.7 289.3 310.2 289.7 308.4 290.8 306.4 292.3 304.5 294.3 303.1 296.9 303.2 298.8 305.2 300.5 306.0 302.9 306.7 304.1 308.6 304.6 310.8 304.8 312.9 304.4 315.0 304.2 317.4 303.6 319.6 302.4 321.4 300.6 322.9 299.9 325.0 301.1 326.7 302.1 328.6 303.6 330.3 306.0 330.5 307.9 331.7 309.4 333.7 311.1 335.0 311.1 335.5" fill="none" stroke="#2a788e" stroke-width="2.4" stroke-linejoin="round"/>
<path d="M351.9,299.8L353.8 298.6 355.7 297.7 357.7 296.5 360.0 296.4 362.0 296.6 364.4 296.0 366.5 296.9 368.2 298.5 370.5 299.2 372.1 300.8 372.3 303.7 373.2 305.6 375.7 306.6 377.0 308.4 377.5 310.7 379.5 312.1 381.7 311.7 383.6 310.4 385.3 309.0 387.1 308.2 388.1 307.8 389.5 308.1 391.1 309.2 392.6 310.5 394.3 311.7 396.1 313.3 397.1 315.5 396.3 317.8 394.4 319.6 394.1 321.7 393.8 324.0 392.1 325.5 390.5 326.8 388.5 327.6 386.4 328.4 384.4 329.6 382.3 330.0 380.2 330.2 378.2 331.2 376.4 332.5 374.5 333.7 372.7 335.0 371.3 336.2 369.9 336.7 368.4 336.2 366.7 335.2 365.4 333.6 364.1 331.8 361.9 330.8 359.5 330.2 357.9 328.7 356.0 327.6 353.7 326.9 352.1 325.3 350.5 323.7 348.2 322.4 347.2 320.2 347.5 317.6 347.8 315.2 348.2 312.9 348.0 310.6 347.5 309.6" fill="none" stroke="#2a788e" stroke-width="2.4" stroke-linejoin="round"/>
<path d="M454.5,317.3L456.4 316.2 458.3 315.1 460.4 314.2 462.2 312.9 464.4 312.5 466.3 313.0 468.2 313.6 469.7 315.0 471.3 316.2 473.1 317.4 474.2 319.1 474.9 321.1 474.4 323.2 473.2 325.0 472.3 326.9 470.8 328.5 470.1 330.5 470.0 333.4 468.2 335.0 465.6 335.0 463.5 335.5 461.4 336.4 459.1 336.0 457.6 334.3 456.7 332.2 455.8 330.2 453.8 329.0 451.4 328.5" fill="none" stroke="#2a788e" stroke-width="2.4" stroke-linejoin="round"/>
<path d="M334.6,133.1L337.2 132.5 339.2 133.4 341.0 134.8 343.0 135.7 345.0 136.4 347.1 137.1 349.2 137.9 350.9 139.3 353.1 139.9 355.5 140.3 357.0 142.1 358.6 143.6 360.6 144.7 362.5 146.2 364.3 148.2 364.9 151.2 363.5 153.8 361.6 155.7 359.0 156.3 356.8 155.4 355.0 154.3 353.6 152.6 352.2 150.8 350.5 149.4 348.5 148.4 346.2 147.7 344.5 146.5 342.8 145.0 340.4 144.6 338.1 144.0 337.8 143.3" fill="none" stroke="#2a788e" stroke-width="2.4" stroke-linejoin="round"/>
<path d="M299.7,140.8L301.7 141.7 303.9 142.2 305.8 143.3 307.7 144.5 309.9 144.9 311.9 145.7 313.8 146.9 316.1 147.1 318.8 146.4 320.7 147.5 322.1 150.0 324.2 150.6 326.5 150.6 328.6 151.3 330.9 151.6 333.0 152.3 335.0 153.3 337.2 153.7 339.2 154.5 340.9 156.1 342.8 157.3 345.0 157.9 346.7 159.5 348.7 160.3 351.3 159.7 353.7 159.8 355.5 161.1 357.3 162.7 359.3 163.6 360.1 163.7" fill="none" stroke="#2a788e" stroke-width="2.4" stroke-linejoin="round"/>
<path d="M504.7,112.1L507.1 113.5 509.0 115.1 508.3 117.8 507.5 120.5 508.7 122.4 510.4 124.0 512.0 125.8 512.8 127.8 513.7 129.8 515.3 131.5 516.5 133.5 516.2 135.9 515.2 138.7 515.9 140.8 516.9 142.8 516.9 145.2 518.2 147.0 519.6 148.8 519.5 151.2 519.7 153.5 520.9 155.4 523.3 156.8 525.6 158.3 525.9 160.5 524.8 163.3 524.5 165.7 525.7 167.6 526.6 169.6 526.4 172.0 526.6 174.2 528.8 175.8 530.8 177.5 529.7 180.1 528.7 182.7 530.5 184.5 532.2 186.3 533.3 188.3 535.0 190.1 535.1 192.3 533.6 195.0 533.2 197.3 534.5 199.3 536.7 201.0 536.9 203.2 536.7 205.5 538.3 207.4 538.7 209.6 539.1 211.8 539.4 214.0 538.5 216.4 538.7 218.6 539.6 220.6 538.7 223.0 539.3 225.2 540.9 227.1 540.9 229.3 542.1 231.4 543.7 233.3 544.9 235.3 545.3 237.5 544.9 239.8 545.1 242.0 543.8 244.5 542.2 247.0 542.3 248.5" fill="none" stroke="#7ad151" stroke-width="2.4" stroke-linejoin="round"/>
<path d="M528.0,104.0L528.1 106.4 529.5 108.2 531.5 109.6 532.6 111.5 533.2 113.7 533.6 116.0 534.0 118.2 535.1 120.1 536.3 122.0 538.5 123.4 539.6 125.3 538.9 128.1 538.4 130.8 540.0 132.4 542.5 133.6 542.9 135.9 543.7 138.0 545.5 139.5 545.4 142.0 545.0 144.7 546.7 146.2 549.1 147.5 550.1 149.5 550.2 151.9 550.2 154.3 552.2 155.8 554.5 157.2 553.7 160.0 554.3 162.1 556.1 163.7 557.0 165.7 558.1 167.6 558.2 169.9 560.0 171.6 562.1 173.1 562.0 175.5 563.6 177.3 566.0 178.7 567.1 180.7 567.3 183.0 567.1 185.4 566.6 187.9 566.2 190.3 568.3 192.0 571.2 193.3 571.5 195.6 570.8 198.1 570.8 200.4 569.8 203.0 570.0 205.3 571.7 207.0 573.2 208.9 573.8 211.0 573.7 213.3 575.7 215.0 577.3 216.9 576.0 219.5 574.5 222.2 575.3 224.3 578.2 225.8 580.0 227.5 580.7 229.6 581.3 231.7 581.4 234.0 582.4 236.0 582.4 238.3 580.7 241.0 580.4 243.4 582.6 245.1 583.8 247.0 583.3 249.5 583.6 250.4" fill="none" stroke="#fde725" stroke-width="2.4" stroke-linejoin="round"/>
<path d="M557.4,105.2L559.9 106.5 561.7 108.1 563.4 109.7 565.8 111.0 567.2 112.7 567.0 115.3 566.4 118.0 567.0 120.2 567.9 122.2 569.0 124.1 570.9 125.6 572.6 127.2 574.5 128.8 576.0 130.4 575.5 133.2 574.1 136.3 574.8 138.4 576.2 140.1 576.1 142.6 577.2 144.5 579.2 146.0 580.4 147.9 581.8 149.7 582.0 152.0 582.6 154.1 584.4 155.7 585.0 157.9 586.3 159.7 588.1 161.3 588.7 163.4 590.3 165.2 591.9 166.9 592.7 169.0 592.2 171.5 591.5 174.2 592.2 176.3 593.6 178.0 596.1 179.5 598.2 181.1 598.8 183.2 597.3 186.1 596.1 188.8 597.2 190.8 598.9 192.5 601.5 194.0 603.3 195.7 602.2 198.4 600.2 201.3 600.0 203.6 600.5 205.8 602.3 207.6 605.3 209.0 606.3 211.0 606.3 213.2 607.3 215.3 607.4 217.5 607.6 219.7 607.8 222.0 608.0 224.2 609.0 226.2 609.7 228.3 610.2 230.4 610.0 232.8 611.4 234.7 613.2 236.5 612.3 239.0 612.2 241.3 613.7 243.2 614.2 245.3 614.7 247.5 616.0 247.7" fill="none" stroke="#fde725" stroke-width="2.4" stroke-linejoin="round"/>
<path d="M591.6,102.1L590.7 105.1 591.4 107.2 591.1 109.9 592.1 111.9 595.1 112.7 596.7 114.4 597.7 116.4 598.2 118.6 597.8 121.3 599.0 123.1 601.5 124.3 602.3 126.4 602.5 128.8 604.4 130.2 606.8 131.5 607.5 133.6 606.9 136.4 606.4 139.1 607.3 141.1 609.7 142.4 611.2 144.1 611.8 146.2 613.9 147.6 616.1 149.0 616.8 151.1 616.2 153.9 615.8 156.5 616.5 158.6 617.4 160.6 618.6 162.4 620.7 163.9 621.9 165.8 620.9 168.6 620.8 171.0 622.1 172.8 622.7 175.0 623.5 177.0 624.7 178.8 625.9 180.7 627.0 182.6 629.1 184.1 630.9 185.8 631.0 188.1 631.7 190.2 631.7 192.5 631.7 194.9 633.9 196.4 635.7 198.2 635.1 200.7 634.1 203.3 634.1 205.6 634.4 207.8 635.3 209.8 637.1 211.6 639.8 213.0 640.8 215.0 640.9 217.3 641.8 219.3 641.3 221.8 642.1 223.8 645.0 225.2 645.7 227.3 645.6 229.7 646.9 231.5 648.1 233.5 649.2 235.4 650.1 237.5 649.5 239.9 649.6 242.2 650.4 244.3 648.9 246.4" fill="none" stroke="#7ad151" stroke-width="2.4" stroke-linejoin="round"/>
<path d="M627.1,101.9L626.3 104.8 626.0 107.4 628.1 108.8 629.8 110.4 630.4 112.6 631.4 114.5 632.8 116.3 633.6 118.3 634.7 120.3 636.8 121.6 637.2 123.9 637.0 126.5 639.4 127.8 641.2 129.3 642.0 131.3 642.4 133.6 641.8 136.4 641.1 139.3 642.6 141.0 645.0 142.2 646.1 144.1 648.0 145.6 650.5 146.8 651.4 148.8 651.8 151.1 651.3 153.8 650.3 156.7 652.2 158.2 655.1 159.3 656.1 161.3 657.2 163.2 657.6 165.4 657.8 167.7 659.3 169.5 658.8 172.1 659.5 174.2 662.7 175.3 663.1 177.5 662.9 179.9 664.9 181.5 666.1 183.5 665.4 186.0 664.1 188.8 663.9 191.2 665.9 192.8 668.8 194.2 669.5 196.3 668.8 198.8 670.5 200.6 672.7 202.2 672.5 204.6 671.3 207.2 672.5 209.2 675.2 210.7 676.1 212.7 676.1 215.0 677.6 216.9 678.2 219.0 677.0 221.6 676.4 224.1 676.2 226.4 677.1 228.5 680.3 229.8 682.5 231.4 682.0 233.9 680.1 235.0" fill="none" stroke="#fde725" stroke-width="2.4" stroke-linejoin="round"/>
<path d="M656.5,102.0L656.3 104.8 657.3 106.8 659.8 107.7 661.0 109.6 660.7 112.4 662.2 114.1 664.5 115.1 665.0 117.5 665.2 120.0 666.1 122.1 666.7 124.3 667.7 126.3 669.1 127.9 670.6 129.6 673.3 130.4 675.0 132.0 675.5 134.3 677.9 135.3 680.6 136.3 681.3 138.4 680.5 141.5 680.5 144.0 681.8 145.8 681.8 148.2 683.1 150.0 686.0 151.0 686.9 153.0 686.9 155.4 687.3 157.6 689.0 159.3 690.9 160.9 691.5 163.1 692.4 165.1 692.9 167.3 693.7 169.3 694.9 171.2 694.5 173.7 695.2 175.8 696.3 177.8 696.8 179.9 697.3 182.0 697.8 184.2 698.9 186.2 699.0 188.5 699.2 190.3" fill="none" stroke="#fde725" stroke-width="2.4" stroke-linejoin="round"/>
<path d="M545.3,139.8L546.5 141.7 547.5 143.6 548.1 145.8 549.1 147.8 549.9 149.8 550.7 151.9 551.1 154.2 552.4 156.0 554.2 157.5 554.8 159.7 555.7 161.7 556.6 163.7 557.4 165.8 557.2 168.2 557.3 170.3 558.1 172.4 557.6 174.6 557.6 176.8 558.3 178.8 559.3 181.0 561.4 183.1 561.7 185.3 559.9 187.5 558.8 189.7 558.1 191.9 558.8 194.1 560.7 196.3 561.3 198.5 560.9 200.0" fill="none" stroke="#7ad151" stroke-width="2.4" stroke-linejoin="round"/>
<path d="M599.6,130.2L601.3 131.8 602.0 133.9 603.3 135.7 605.8 136.7 607.9 138.0 608.2 140.4 608.6 142.8 610.6 144.1 612.3 145.7 612.7 148.0 612.3 150.8 612.4 153.3 613.1 155.4 614.1 157.4 615.4 159.1 617.7 160.4 620.8 161.3 622.3 163.0 623.0 165.2 623.7 167.3 623.7 169.7 623.1 172.2 623.2 174.5 625.1 176.2 625.5 178.4 625.6 180.7 628.3 182.3 630.5 184.1 629.5 186.6 627.1 189.3 626.4 191.7 628.3 193.6 629.5 195.6 629.8 197.7 630.4 199.9 629.0 200.2" fill="none" stroke="#fde725" stroke-width="2.4" stroke-linejoin="round"/>
<path d="M210.7,377.1L212.9 376.7 215.0 376.2 217.3 376.0 219.3 375.0 221.5 374.9 223.8 374.8 225.9 374.1 228.1 374.0 230.2 373.5 232.2 372.6 234.3 372.4 236.5 372.3 238.7 372.7 240.7 373.6 242.8 374.1 244.9 375.1 247.2 375.0 249.6 373.6 251.8 373.7 253.9 375.0 256.1 375.2 258.2 374.4 260.3 373.9 262.6 373.8 264.9 374.0 267.2 374.0 269.1 372.5 270.9 371.1 273.1 370.8 275.3 370.8 277.5 370.7 279.7 370.7 281.8 371.4 283.9 372.0 286.1 371.8 288.2 371.9 290.3 372.0 292.7 371.5 294.9 371.9 296.6 373.4 299.0 373.5 301.5 373.4 303.2 375.1 304.9 376.7 305.9 378.9 305.8 381.1 305.7 383.2 304.6 385.2 304.1 387.3 304.1 389.8 302.9 391.7 301.8 393.6 300.5 395.4 298.4 396.7 296.4 397.8 294.7 399.0 293.1 400.5 291.6 401.8 289.6 402.8 288.0 404.2 286.7 406.2 285.2 407.9 283.2 408.8 280.9 409.1 278.9 409.4 277.0 410.1 275.2 411.4 272.8 412.3 270.4 411.7 268.7 410.2 267.3 408.2 265.9 406.5 264.0 405.1 261.8 404.4 259.5 405.1 257.4 405.8 255.7 407.3 254.2 408.9 252.4 410.3 251.5 412.5 250.1 414.1 248.0 415.2 246.0 416.2 244.0 417.1 242.3 418.3 240.6 419.7 239.0 421.4 237.3 422.9 235.2 423.7 233.0 424.0 230.8 424.4 228.8 425.3 226.9 426.7 224.6 426.8 222.4 427.1 220.6 428.5 218.3 428.7 216.0 428.5 213.9 429.2 213.9 429.6" fill="none" stroke="#fde725" stroke-width="2.4" stroke-linejoin="round"/>
<path d="M225.1,392.1L226.6 390.5 228.7 389.7 231.0 389.7 233.1 389.3 235.2 388.8 237.3 388.3 239.4 388.2 241.3 389.2 243.5 389.7 245.9 390.3 247.2 392.2 248.5 394.0 250.4 395.6 251.3 398.3 250.4 401.2 248.6 403.1 246.4 404.2 244.1 405.0 241.7 405.1 239.4 404.8 237.2 404.6 235.2 403.7 233.4 402.6 231.6 401.9 229.8 401.3 227.9 400.6 226.7 398.9 226.0 397.0 224.5 395.3 224.2 393.1Z" fill="none" stroke="#fde725" stroke-width="2.4" stroke-linejoin="round"/>
<path d="M366.2,374.8L368.4 374.5 370.4 373.6 372.6 373.4 374.9 373.2 376.9 372.2 379.0 371.8 381.2 371.8 383.3 370.8 385.3 369.0 387.6 369.2 389.7 371.1 391.8 371.2 394.1 370.8 396.3 371.1 398.6 371.2 400.7 371.9 402.7 373.0 404.9 373.7 406.8 375.1 407.8 377.4 408.8 379.4 410.0 381.2 410.1 383.6 410.8 385.6 412.9 387.3 414.2 389.2 414.2 391.6 413.7 393.9 413.9 396.1 414.6 398.3 414.4 400.5 413.2 402.5 412.3 404.2 411.2 405.9 409.6 407.3 408.1 409.1 406.2 410.1 404.0 411.1 403.6 413.5 403.4 415.9 402.1 417.6 399.9 419.0 399.1 421.1 399.9 423.4 399.7 425.5 399.4 427.7 399.9 429.9 400.2 432.0 400.4 434.2 400.1 436.4 399.7 438.7 400.3 440.8 400.5 443.0 400.0 445.3 400.2 447.5 400.7 449.6 400.4 451.8 400.3 454.0 401.6 456.2 402.3 458.4 401.6 460.6 400.8 462.8 401.1 465.0 401.9 467.2 402.6 469.4 402.2 471.6 401.3 473.8 401.3 476.0 401.5 478.3 401.5 480.5 401.5 482.7 400.7 484.8 399.1 486.8 398.7 489.0 399.1 491.3 398.3 493.4 396.5 494.8 395.3 496.7 394.4 499.1 392.2 499.9 389.7 500.0 388.0 501.4 386.8 503.4 385.2 504.8 383.1 505.9 382.2 507.8 381.9 510.0 381.8 512.3 382.9 514.3 384.4 516.1 385.4 518.0 386.4 519.9 388.0 521.3 389.8 522.8 392.0 524.3 394.3 524.4 396.6 523.6 398.7 522.3 400.8 521.7 403.2 522.3 405.5 522.1 407.1 519.9 408.6 518.3 410.5 517.5 412.5 516.3 414.3 514.9 415.5 513.1 416.2 511.0 418.1 510.0 419.8 511.3 420.8 513.2 421.8 515.1 423.3 516.8 424.7 518.5 425.9 520.4 427.9 521.5 429.4 522.8 431.0 524.3 433.0 525.2 434.6 526.7 436.5 528.0 438.6 528.9 440.5 530.2 441.7 532.1 443.2 533.8 444.9 535.2 445.6 537.5" fill="none" stroke="#fde725" stroke-width="2.4" stroke-linejoin="round"/>
<path d="M413.4,380.5L414.2 382.5 415.1 384.6 416.7 386.4 418.0 388.3 418.2 390.5 419.0 392.6 420.8 394.4 421.8 396.4 421.5 398.8 421.4 401.1 421.7 403.4 421.2 405.7 419.8 407.6 418.2 409.2 416.6 411.0 414.9 412.3 412.8 412.9 410.6 413.9 408.4 415.1 406.8 416.8 406.0 419.1 405.5 421.5 405.0 423.8 405.6 426.1 406.9 428.4 407.2 430.5 407.4 432.7 407.3 434.9 407.5 437.1 408.1 439.2 408.3 441.4 408.0 443.6 407.5 445.9 407.6 448.1 407.1 450.3 407.0 452.5 408.5 454.7 408.8 456.9 408.2 459.1 408.5 461.3 408.3 463.5 408.2 465.7 408.8 467.9 408.4 470.1 408.1 472.3 408.4 474.5 407.9 476.7 408.5 478.9 409.4 481.2 408.8 483.4 407.8 485.5 407.5 487.7 407.9 490.1 407.3 492.2 406.1 494.3 405.0 496.2 403.0 497.5 401.5 499.0 400.2 500.9 398.1 501.7 395.9 502.3 393.9 503.4 392.4 505.2 391.6 507.4 389.9 508.8 387.7 510.5 388.2 513.0 390.6 514.7 391.6 516.6 391.0 519.2 391.5 521.6 393.5 523.1 395.8 523.6 397.9 523.9 400.0 525.2 402.2 525.6 404.4 524.6 406.6 524.3 408.8 524.0 410.9 523.5 413.2 523.4 415.3 522.4 416.6 520.3 418.3 519.1 420.2 517.9 422.2 516.7 424.2 515.4 425.2 513.4 424.9 512.0" fill="none" stroke="#7ad151" stroke-width="2.4" stroke-linejoin="round"/>
<path d="M280.2,430.6L281.3 433.0 282.1 435.0 282.4 437.3 283.3 439.4 285.1 440.8 286.7 442.5 287.8 444.3 288.9 446.3 289.6 448.7 291.1 450.5 293.6 451.0 295.7 451.9 296.8 454.0 298.1 455.6 299.7 457.1 300.5 459.1 300.5 461.2 300.4 463.4 301.6 465.5 301.8 467.7 301.1 470.0 302.3 472.0 303.7 473.7 304.0 476.0 304.8 478.2 307.0 479.3 309.2 480.5 310.3 482.6 311.3 484.9 311.0 487.5 308.8 489.2 307.6 490.8 307.0 493.4 305.0 494.5 302.3 494.6 300.6 495.9 299.2 497.7 297.1 498.6 295.1 499.7 293.9 501.7 292.4 503.4 291.0 504.8 290.1 506.3 289.6 508.3 289.3 510.4 288.8 512.6 287.9 514.7 287.4 516.9 288.4 519.1 289.0 521.3 287.5 523.6 286.7 525.9 287.7 528.1 289.5 530.0 290.2 532.0 290.8 534.2 292.8 535.6 294.1 537.4 294.5 539.6 295.5 541.6 296.7 543.4 297.4 545.5 297.7 547.9 299.1 549.7 301.0 551.1 302.4 552.8 303.2 554.9 303.3 557.4 304.0 559.6 305.0 561.5 306.2 563.4 308.1 564.8 309.9 566.3 311.4 568.0 312.6 569.9 313.2 572.1 313.1 574.5 313.3 576.8 314.9 578.5 316.6 580.1 317.4 582.2 317.9 584.4 318.4 586.8 319.6 588.7 321.5 590.1 323.4 591.3 325.5 592.2 327.2 593.6 328.5 595.7 330.2 597.1 332.2 598.2 334.2 599.6 336.4 600.2 338.8 599.6 341.1 599.6 343.1 600.6 345.4 601.3 347.5 603.0 348.2 605.3 348.3 607.5 348.3 609.9 349.6 611.7 351.6 613.0 352.5 615.0 353.0 617.3 354.7 618.8 356.1 620.5 357.0 622.6 359.0 623.8 360.8 625.1 361.5 627.4 363.0 629.0 365.1 629.3 366.9 629.1 368.9 628.5 370.9 627.3 371.8 625.2 371.4 623.1 370.3 621.4 368.7 620.0 367.6 618.2 367.1 615.9 365.6 614.3 363.4 613.9 361.4 612.9 360.3 610.5 359.2 608.6 357.4 607.1 357.0 604.8 356.6 602.6 354.7 601.0 353.6 599.1 353.0 597.0 351.6 595.1 350.4 592.9 351.1 590.5 352.2 588.2 352.2 586.0 351.5 583.8 350.7 581.7 350.2 579.6 349.5 577.5 349.2 575.3 350.2 572.9 350.7 570.5 350.4 568.4 348.7 566.4 347.1 564.5 347.2 562.3 347.0 560.0 345.9 558.0 345.3 555.9 345.1 553.7 345.3 551.4 345.3 549.2 344.2 547.1 342.4 545.3 341.2 543.3 341.3 541.0 341.2 538.8 340.8 536.6 341.4 534.2 341.8 531.9 341.0 529.8 340.5 527.7 340.3 525.5 339.1 523.5 338.3 521.4 338.6 519.1 338.0 517.0 337.0 514.9 336.0 512.9 335.1 510.8 334.8 508.6 335.3 506.3 335.7 504.0 335.0 501.9 333.9 499.8 333.9 497.6 334.6 495.3 334.1 493.2 333.0 491.1 332.8 488.9 333.3 486.6 333.0 484.4 332.3 482.3 332.0 480.1 331.7 477.9 331.5 475.7 331.3 473.5 331.6 471.3 332.9 469.1 333.3 466.9 332.2 464.7 330.9 462.4 330.7 460.3 331.6 458.1 332.8 455.6 331.9 453.4 329.1 452.4 327.7 450.9 327.2 448.2 325.4 446.8 323.2 446.2 321.2 445.1 319.0 444.6 316.9 443.9 315.0 442.8 312.6 442.9 310.4 442.8 308.2 442.5 306.0 442.0 304.0 441.0 302.2 439.4 300.6 437.5 298.6 436.6 296.5 435.8 294.6 434.6 292.3 434.4 289.8 434.6 287.6 434.2 285.7 433.3 284.0 431.6 282.1 429.7Z" fill="none" stroke="#fde725" stroke-width="2.4" stroke-linejoin="round"/>
<path d="M315.6,488.7L313.2 489.3 311.7 490.9 309.6 491.9 307.4 492.7 306.2 494.6 305.2 496.9 303.5 498.3 301.1 498.8 299.1 499.8 297.8 501.5 296.2 503.2 295.0 504.9 294.1 506.9 293.3 509.0 293.3 511.2 293.1 513.4 292.6 515.6 293.1 517.8 294.3 520.0 294.0 522.1 293.0 524.4 292.8 526.7 293.6 528.8 295.4 530.6 296.3 532.5 296.1 534.9 296.9 537.0 298.2 538.8 299.1 540.8 300.5 542.6 301.6 544.4 302.5 546.5 303.7 548.3 304.5 550.4 306.0 552.1 307.8 553.5 309.0 555.4 309.4 557.7 310.2 559.8 311.9 561.3 313.1 563.2 314.3 565.1 315.9 566.7 316.8 568.7 317.0 571.1 317.8 573.1 318.7 575.2 319.7 577.1 320.7 579.1 320.6 581.6 321.4 583.7 323.2 585.2 324.1 587.3 325.7 589.0 328.0 589.8 330.1 590.6 331.8 591.9 333.2 593.7 334.7 595.3 336.5 596.6 338.4 597.7 340.6 598.1 342.9 597.9 345.0 598.4 347.0 599.8 349.1 600.6 351.2 601.9 351.7 604.3 351.0 606.9 351.4 609.1 351.9 609.4" fill="none" stroke="#7ad151" stroke-width="2.4" stroke-linejoin="round"/>
<path d="M363.1,614.8L361.5 613.2 359.4 612.4 356.8 612.3 355.4 610.4 355.1 607.8 353.9 606.0 353.3 603.9 352.2 602.0 350.4 600.4 349.7 598.3 349.1 596.2 349.1 594.0 349.8 591.7 349.3 589.6 348.0 587.5 347.3 585.4 346.5 583.3 345.6 581.2 345.5 579.0 345.9 576.7 346.7 574.3 346.2 572.2 344.9 570.2 344.5 568.0 344.1 565.8 343.0 563.8 342.6 561.7 342.5 559.4 341.8 557.3 341.0 555.3 340.2 553.2 339.6 551.1 339.3 548.9 339.0 546.7 338.3 544.6 338.6 542.3 339.5 539.8 338.8 537.7 337.0 535.9 336.4 533.8 335.5 531.7 334.7 529.6 335.4 527.2 336.1 524.8 335.9 522.6 335.8 520.4 334.5 518.4 332.7 516.5 332.2 514.4 331.7 512.2 331.6 510.0 331.3 507.8 330.5 505.7 331.2 503.4 332.2 501.1 331.7 498.9 330.3 496.9 329.1 494.7 328.9 492.6 329.8 490.3 330.8 487.9 329.9 485.8 328.3 483.8 327.9 481.6 327.9 479.4 328.4 477.1 328.8 474.9 327.7 472.8 326.6 470.7 327.5 468.4 328.6 466.1 328.5 463.9 327.5 461.8 327.1 459.6 328.1 457.3 328.1 455.1 326.6 454.0" fill="none" stroke="#7ad151" stroke-width="2.4" stroke-linejoin="round"/>
<path d="M318.0,513.2L319.3 512.8 320.9 514.1 321.7 516.2 321.9 518.5 322.7 520.5 324.9 521.9 326.6 523.6 327.7 525.5 328.4 527.6 327.9 530.2 328.1 532.4 329.5 534.2 330.5 536.2 331.0 538.4 331.2 540.7 332.1 542.7 333.9 544.4 335.2 546.5 334.8 548.9 333.8 551.1 333.8 553.4 333.1 555.5 332.2 557.4 331.1 559.2 329.2 559.7 327.2 558.7 325.7 557.0 323.9 555.5 322.8 553.5 322.3 551.2 320.7 549.5 319.6 547.5 319.8 545.1 319.2 543.0 318.1 540.9 318.4 538.6 318.0 536.5 316.9 534.3 316.7 532.1 316.6 529.9 317.2 527.7 317.6 525.5 317.1 523.3 317.3 521.1 317.6 518.9 317.0 516.6 317.1 514.4 318.4 512.4Z" fill="none" stroke="#2a788e" stroke-width="2.4" stroke-linejoin="round"/>
<path d="M325.0,560.0L327.2 559.4 329.4 560.2 331.6 561.0 333.6 562.2 335.0 564.1 335.9 566.3 336.5 568.5 337.4 570.4 339.3 571.9 341.1 573.4 342.3 575.4 343.0 577.6 342.3 580.0 341.5 582.2 341.0 584.2 339.9 585.7 338.9 586.4 337.7 587.1 335.7 587.1 333.9 586.2 331.9 585.5 330.3 584.3 328.7 582.9 327.0 581.3 326.0 579.3 325.5 577.2 325.0 575.0 323.5 573.1 322.2 571.0 322.6 568.7 323.4 566.4 323.3 564.2 323.2 561.8 324.8 560.1Z" fill="none" stroke="#2a788e" stroke-width="2.4" stroke-linejoin="round"/>
<path d="M298.9,391.2L300.7 389.7 302.3 388.0 304.7 387.5 307.0 387.2 308.9 386.0 311.0 385.5 313.2 385.1 314.9 383.6 316.7 382.0 319.0 381.7 321.2 381.4 323.2 380.5 325.4 380.2 327.7 380.4 329.8 380.0 331.9 379.4 334.0 379.0 336.2 378.7 338.3 378.9 340.5 378.8 342.7 378.1 345.0 377.8 347.2 378.2 349.3 378.8 351.4 379.7 353.4 380.8 355.3 381.9 357.4 382.4 359.7 382.7 361.8 383.4 363.6 384.8 364.8 387.0 366.5 388.2 369.1 388.4 371.3 389.3 372.5 391.2 373.6 393.2 374.7 395.1 376.0 396.8 378.1 398.2 379.2 400.2 379.7 402.4 380.7 404.5 380.5 406.8 380.2 409.1 379.9 411.3 379.0 413.3 379.2 415.6 379.0 417.8 378.0 419.9 377.4 422.0 376.6 424.1 376.1 426.4 374.7 428.2 372.8 429.6 371.7 431.5 370.7 433.6 368.9 435.1 367.2 436.5 365.4 437.9 363.1 438.6 360.8 439.2 359.4 440.9 358.5 443.5 356.7 444.8 354.2 444.8 352.2 445.9 350.6 447.4 348.7 448.6 347.0 450.1 345.0 451.3 343.0 452.4 340.7 452.6 338.3 451.9 336.1 451.6 333.9 450.9 331.7 450.9 329.6 451.9 327.3 452.3 325.1 452.5 322.8 452.5 320.8 451.2 318.9 449.8 317.0 449.0 314.9 448.2 312.4 447.9 310.7 446.4 309.9 444.0 307.8 443.0 306.3 441.3 306.3 438.7 305.9 436.5 305.0 434.5 303.5 432.8 301.5 431.3 301.1 429.1 300.6 426.9 299.6 424.9 299.2 422.7 298.5 420.6 297.8 418.5 297.8 416.3 297.5 414.1 297.3 411.9 297.6 409.6 297.3 407.5 296.9 405.2 297.2 403.0 298.2 400.9 299.4 398.9 299.7 396.9 298.9 394.4 298.5 391.8Z" fill="none" stroke="#2a788e" stroke-width="2.4" stroke-linejoin="round"/>
<path d="M307.8,397.8L309.2 396.1 311.5 395.4 313.3 394.3 314.6 392.1 316.6 391.0 318.7 390.3 320.9 389.9 323.4 390.6 325.7 390.8 327.6 389.7 329.6 388.8 331.8 388.3 334.0 387.5 336.2 387.4 338.4 387.5 340.7 387.3 342.8 388.1 345.0 388.6 347.3 388.6 349.4 389.2 351.4 390.3 353.7 390.5 355.8 391.5 357.2 393.6 359.0 394.8 360.7 396.2 361.8 398.2 362.8 400.0 364.3 401.5 366.4 402.8 367.8 404.7 368.2 407.0 368.2 409.3 368.7 411.5 368.9 413.9 367.8 416.0 366.3 417.8 365.0 419.6 363.7 421.3 362.7 423.3 361.6 425.1 360.4 427.0 359.5 429.0 358.2 430.9 356.8 432.7 354.8 433.8 352.3 434.2 350.6 435.5 349.1 437.2 347.4 438.6 345.4 439.6 343.1 439.8 341.2 440.8 339.1 441.8 336.9 441.8 334.7 441.9 332.6 442.5 330.4 442.7 328.3 441.4 326.2 441.2 323.7 442.0 321.4 441.7 319.1 441.1 316.9 440.0 315.3 438.3 314.3 436.1 313.9 433.5 312.6 431.8 311.2 430.1 310.2 428.2 308.7 426.4 308.1 424.3 308.1 422.0 307.2 420.0 305.6 418.1 305.3 415.8 306.8 413.4 307.8 411.2 306.8 409.1 304.9 406.9 304.2 404.6 305.4 402.5 307.0 400.6 307.9 398.7Z" fill="none" stroke="#3b528b" stroke-width="2.4" stroke-linejoin="round"/>
<path d="M325.4,402.2L326.9 400.8 328.2 399.6 329.7 397.8 332.0 398.3 334.1 399.0 336.3 398.4 338.6 398.4 340.5 399.8 342.2 401.1 344.0 402.3 345.6 403.7 347.0 405.2 348.3 406.8 349.7 408.5 349.6 410.8 348.8 412.9 348.6 414.8 349.3 416.9 349.7 419.4 348.1 421.0 346.4 422.4 345.9 424.9 344.4 426.7 341.9 427.0 339.7 427.1 337.8 427.5 335.6 428.8 333.2 429.1 331.5 427.1 330.3 425.1 328.4 424.1 326.4 422.6 325.3 420.6 324.9 418.3 325.3 416.0 325.7 413.7 325.2 411.5 324.5 409.4 324.1 407.2 324.9 405.0 325.7 402.9Z" fill="none" stroke="#472d7b" stroke-width="2.4" stroke-linejoin="round"/>
<path d="M533.1,583.7L535.2 584.0 537.4 584.3 539.6 584.7 541.8 584.2 544.0 584.0 546.3 584.8 548.5 585.1 550.7 584.6 552.8 583.5 554.8 582.1 556.9 581.6 559.2 581.8 561.4 581.6 563.5 580.9 565.7 580.7 567.7 579.8 569.9 579.3 572.2 579.7 574.4 579.4 576.5 578.6 578.6 577.9 580.7 577.4 582.7 576.2 584.5 574.7 586.5 573.6 588.6 573.2 590.9 573.1 593.0 572.4 595.0 571.3 597.3 571.4 599.6 571.4 601.6 570.5 604.0 570.7 606.1 570.2 608.0 568.7 610.1 568.1 612.1 567.3 614.2 566.4 616.1 565.3 618.2 564.7 620.5 564.4 622.7 564.1 625.0 563.9 626.8 562.5 628.4 560.7 630.4 559.7 632.3 558.5 634.3 557.6 636.6 557.3 638.8 556.9 641.2 557.1 643.6 557.5 645.6 556.7 647.6 555.7 649.6 554.7 651.5 553.4 653.9 553.4 656.4 553.7 658.3 552.6 660.0 550.8 661.8 549.4 663.6 548.2 665.8 547.6 667.9 546.9 669.6 545.4 671.5 544.2 673.2 542.8 675.1 541.7 676.8 540.3 678.2 538.5 679.9 537.1 681.9 536.2 684.7 536.1 686.8 535.3 688.1 533.4 689.8 531.9 691.1 530.0 691.7 527.5 692.8 525.5 694.8 524.4 696.7 523.2 698.5 521.8 700.4 520.6 702.0 519.1 702.7 516.8 703.2 514.4 704.8 512.9 707.1 511.6 707.6 509.4 706.8 507.1 707.0 504.9 706.6 502.8 705.7 500.8 703.7 499.7 702.1 501.5 700.8 503.2 698.7 504.2 697.1 505.7 696.0 507.7 694.5 509.4 692.7 510.7 691.1 512.2 689.6 513.8 687.5 514.8 686.1 516.5 685.0 518.6 683.1 519.7 680.8 520.5 679.4 522.2 678.3 524.4 676.7 526.1 674.7 527.0 672.2 527.2 670.2 528.2 668.5 529.7 666.2 530.2 664.1 530.8 662.3 532.2 660.9 534.2 659.0 535.4 656.5 535.1 654.2 535.2 652.4 536.6 650.4 537.8 648.5 538.9 647.0 540.6 645.3 541.6 643.0 542.1 641.1 543.3 639.8 545.1 638.5 546.8 636.7 548.1 634.7 548.8 632.7 550.0 630.8 551.1 628.5 551.2 626.2 551.2 624.1 551.6 622.1 552.8 620.3 554.5 618.2 555.0 615.7 554.4 613.3 554.1 611.3 555.1 609.6 557.1 607.7 558.6 605.3 558.2 602.8 557.4 600.8 558.3 598.9 559.6 596.5 559.3 594.2 559.2 592.2 560.1 590.1 561.0 587.9 561.1 585.8 561.7 583.8 562.9 581.8 563.7 579.3 563.3 577.1 563.4 575.2 564.8 573.4 566.3 571.3 567.3 569.0 567.1 566.7 566.8 564.5 567.0 562.5 568.1 560.5 569.3 558.2 569.4 556.2 570.3 554.4 572.2 552.5 573.3 550.3 573.8 548.1 573.9 545.7 573.6 543.4 573.7 541.3 574.3 539.3 575.3 537.4 576.5 535.9 578.2 534.8 580.1 533.2 581.4 532.3 583.2Z" fill="none" stroke="#fde725" stroke-width="2.4" stroke-linejoin="round"/>
<path d="M545.0,577.0L547.2 577.2 549.4 576.9 551.5 575.8 553.6 575.3 555.9 575.6 558.1 575.1 560.2 574.3 562.3 573.8 564.4 573.1 566.6 572.8 569.0 573.6 571.3 574.1 573.4 573.4 575.4 572.2 577.5 571.2 579.5 570.2 581.7 569.9 583.9 569.9 586.0 569.1 588.2 568.9 590.6 569.2 592.7 568.7 594.9 568.5 597.1 568.0 599.1 567.2 601.1 565.9 603.0 564.8 605.2 564.3 607.2 563.4 609.2 562.3 611.1 561.1 613.1 560.3 615.3 559.8 617.3 559.1 619.7 559.3 622.4 560.2 624.5 559.6 626.1 557.4 627.7 555.6 629.7 554.7 631.7 553.7 633.9 553.4 636.4 553.6 638.4 552.6 640.1 550.9 642.2 550.4 644.3 549.8 646.2 548.5 648.0 547.3 650.0 546.3 652.0 545.6 654.4 545.5 656.7 544.9 658.4 543.5 660.4 542.5 662.4 541.7 663.8 539.7 665.2 537.8 667.5 537.2 669.6 536.5 671.1 534.8 673.4 534.1 675.7 533.6 677.2 531.9 678.3 529.7 680.0 528.3 682.2 527.5 684.1 526.3 685.3 524.3 686.4 522.2 688.3 521.1 690.1 519.8 691.1 517.5 692.8 516.2 695.2 515.6 695.4 515.5" fill="none" stroke="#7ad151" stroke-width="2.4" stroke-linejoin="round"/>
<path d="M590.3,571.1L592.2 569.7 594.4 569.3 596.4 568.3 598.6 568.0 600.9 568.1 602.8 567.0 604.8 565.8 607.0 565.5 609.5 566.4 611.7 565.8 613.3 563.4 615.2 562.1 617.5 562.3 619.9 562.4 622.0 561.8 623.9 560.7 625.8 559.5 627.7 558.1 629.5 556.8 631.6 556.3 634.0 556.3 636.3 556.1 638.5 555.7 640.6 554.9 642.2 553.1 644.1 551.8 646.4 551.8 648.7 551.4 649.9 549.9" fill="none" stroke="#22a884" stroke-width="2.4" stroke-linejoin="round"/>
<path d="M463.0,668.5L463.5 666.4 465.4 664.9 467.7 664.9 469.9 665.4 472.1 665.0 474.3 665.1 476.5 665.7 478.7 665.6 480.9 665.2 483.2 665.1 485.5 665.2 487.8 665.4 490.0 666.6 491.4 668.6 492.2 670.8 493.9 672.4 496.0 673.9 497.0 676.1 496.2 678.6 495.6 680.9 496.5 683.2 495.8 685.3 494.5 687.2 493.5 689.2 491.2 689.5 489.2 689.0 487.2 689.8 484.9 690.3 482.8 689.8 480.7 689.4 478.6 688.4 476.5 687.6 474.3 687.5 472.3 686.7 470.5 685.7 468.5 685.2 466.7 684.1 466.0 682.1 464.7 680.4 462.7 678.8 462.0 676.7 463.0 674.2 463.7 672.0 463.5 670.2Z" fill="none" stroke="#fde725" stroke-width="2.4" stroke-linejoin="round"/>
<path d="M711.6,299.9L712.6 297.8 714.3 296.2 716.7 296.2 717.8 297.0 719.1 297.5 721.5 298.5 723.4 300.5 723.4 303.4 722.0 305.8 719.9 307.3 717.4 307.9 715.4 307.3 714.7 305.4 713.7 303.6 711.9 301.9Z" fill="none" stroke="#fde725" stroke-width="2.4" stroke-linejoin="round"/>
<path d="M702.4,317.8L704.2 316.2 706.2 315.5 707.6 314.2 709.5 315.1 710.5 317.2 710.8 319.4 711.2 321.2 710.5 322.7 708.9 323.6 707.6 325.0 705.6 326.0 704.2 324.2 704.0 321.9 703.2 319.8Z" fill="none" stroke="#fde725" stroke-width="2.4" stroke-linejoin="round"/>
<path d="M696.0,338.0L696.9 336.0 698.8 334.8 700.8 334.0 702.7 334.6 704.3 336.1 705.9 337.7 707.7 339.5 708.5 342.2 706.6 344.3 704.8 345.7 703.5 347.8 701.0 349.0 698.9 347.4 697.9 345.4 697.4 343.2 697.6 340.9 697.2 338.9Z" fill="none" stroke="#fde725" stroke-width="2.4" stroke-linejoin="round"/>
<path d="M716.1,355.5L716.0 353.0 716.6 350.4 718.8 348.7 721.5 349.9 721.6 352.6 722.4 354.5 724.3 356.0 725.3 358.1 724.6 360.2 723.0 361.4 721.7 363.1 719.7 364.5 717.2 364.4 715.4 362.4 714.7 360.1 714.6 357.8 715.7 355.5Z" fill="none" stroke="#fde725" stroke-width="2.4" stroke-linejoin="round"/>
<path d="M769.3,534.8L770.9 532.8 772.8 531.4 775.3 531.4 777.5 531.3 779.4 530.6 781.5 530.7 783.2 532.0 784.6 533.5 786.5 534.3 787.7 535.8 786.4 537.3 785.4 539.4 784.0 541.5 781.7 542.2 779.2 541.7 777.2 541.2 775.2 540.7 773.2 539.7 771.0 538.7 769.1 537.0Z" fill="none" stroke="#fde725" stroke-width="2.4" stroke-linejoin="round"/>
<path d="M795.4,560.1L796.7 558.7 798.0 556.7 800.0 555.3 802.6 555.5 804.7 557.0 805.4 559.3 805.4 561.6 805.7 563.7 804.1 565.4 801.8 565.7 799.7 566.0 797.6 565.3 795.8 563.9 794.9 561.7Z" fill="none" stroke="#fde725" stroke-width="2.4" stroke-linejoin="round"/>
<path d="M813.0,640.3L813.0 638.0 814.8 636.6 817.0 636.1 819.4 636.1 820.9 638.0 821.4 640.2 822.0 642.3 820.9 644.3 818.8 645.3 816.7 645.4 814.9 645.0 813.2 643.7 813.1 641.3Z" fill="none" stroke="#fde725" stroke-width="2.4" stroke-linejoin="round"/>
<path d="M826.6,600.3L827.2 598.1 829.4 597.5 831.0 596.7 833.1 596.5 834.8 598.3 836.2 600.4 836.2 603.0 834.2 604.8 832.5 605.9 830.6 607.2 828.5 606.7 827.2 604.9 826.7 602.8 827.1 600.6Z" fill="none" stroke="#fde725" stroke-width="2.4" stroke-linejoin="round"/>
<path d="M807.1,514.7L808.2 512.4 809.6 510.6 811.6 509.3 813.7 508.3 815.2 506.6 817.0 505.1 819.4 504.9 821.7 505.4 823.8 505.0 826.1 504.4 828.1 505.6 829.8 507.0 831.5 508.2 832.7 509.9 834.1 511.6 834.7 513.7 834.6 516.0 834.7 518.2 833.7 520.1 832.2 521.7 830.7 523.2 829.2 524.9 827.9 527.2 826.0 528.6 823.8 529.4 821.4 529.9 818.9 529.9 816.5 529.4 814.3 528.2 812.7 526.5 810.9 525.2 808.7 523.9 807.6 521.8 807.9 519.2 807.6 517.1Z" fill="none" stroke="#fde725" stroke-width="2.4" stroke-linejoin="round"/>
<path d="M699.4,239.8L700.9 238.0 702.9 236.9 704.4 235.5 705.5 233.4 707.2 231.9 709.4 232.3 710.7 234.1 711.1 236.4 711.5 238.3 711.9 239.7 712.5 241.4 713.0 244.1 711.4 245.8 708.9 246.2 707.4 247.7 705.1 248.0 703.9 245.8 702.8 244.0 700.6 242.8 699.2 241.0Z" fill="none" stroke="#fde725" stroke-width="2.4" stroke-linejoin="round"/>
<path d="M574.1,253.3L576.2 254.5 578.2 255.8 580.3 256.2 582.7 255.6 584.9 255.5 587.1 255.9 589.1 256.8 591.1 258.3 593.0 259.3 595.1 259.9 597.4 259.5 600.2 258.7 602.0 260.1 602.4 262.7 603.9 264.2 605.4 266.0 605.1 268.4 605.4 270.7 607.5 272.2 609.2 273.7 609.7 276.0 610.2 278.2 612.0 279.7 614.0 281.1 615.4 282.8 616.8 284.4 618.2 286.0 619.1 287.8 620.0 289.8 621.7 291.1 623.5 292.4 625.1 294.0 626.7 295.5 628.2 297.1 630.1 298.4 631.8 299.8 633.1 301.6 634.4 303.4 636.3 304.6 637.8 306.2 638.5 308.5 640.1 310.1 642.2 311.1 643.6 312.8 645.5 314.1 647.7 315.2 648.7 317.3 649.5 319.4 651.4 320.9 652.8 322.6 653.2 324.9 654.1 326.9 655.0 328.9 654.8 331.7 655.4 334.0 657.1 335.6 658.4 337.3 659.7 339.1 661.5 340.5 664.0 341.4 665.9 342.7 666.7 344.8 667.1 347.2 667.7 349.3 669.4 350.9 671.7 352.4 672.6 354.5 672.6 356.8 673.1 358.9 673.2 361.1 673.2 363.5 674.1 365.5 674.7 367.7 675.4 369.8 677.1 371.4 678.1 373.4 678.6 375.6 679.9 377.4 680.9 379.4 682.1 381.2 684.0 382.7 685.4 384.5 686.2 386.5 687.3 388.5 688.6 390.4 688.9 392.6 687.6 395.1 687.8 397.2 689.7 399.4 690.2 401.7 689.6 403.9 689.1 406.0 688.9 408.1 688.5 410.3 688.6 412.5 689.6 414.5 689.9 416.7 689.5 419.0 689.7 421.2 689.9 423.4 689.9 425.6 689.9 427.8 690.7 429.9 690.5 432.2 689.3 434.4 689.0 436.6 689.3 438.8 689.4 441.0 690.0 443.2 690.9 445.4 690.3 447.6 690.4 449.8 691.9 451.9 691.5 454.1 690.5 456.4 690.3 458.7 691.2 460.9 692.5 462.9 693.2 465.0 694.1 467.0 694.6 469.2 694.9 471.4 696.6 473.0 697.8 474.9 698.1 477.3 699.4 479.1 700.8 480.8 701.4 483.0 702.5 484.9 704.5 486.2 706.6 487.5 708.1 489.1 709.3 491.0 710.7 493.0 711.0 495.7 709.3 497.8 707.1 498.9 704.6 498.7 702.2 498.8 700.6 500.5 698.8 501.8 696.3 501.6 694.2 502.4 692.5 504.0 690.3 504.4 687.9 504.2 685.9 505.2 684.2 506.8 682.3 508.0 680.5 509.3 678.7 510.9 676.5 511.4 674.3 511.8 672.4 512.9 670.3 513.6 668.0 513.8 665.7 513.9 663.6 514.5 661.7 515.7 660.1 517.6 658.4 519.4 656.3 519.7 653.8 519.6 652.1 520.9 651.4 523.0 650.4 525.0 649.0 527.0 646.9 528.4 644.6 529.0 642.3 529.2 640.0 529.2 637.9 529.7 635.7 530.4 633.7 531.5 631.5 531.6 629.1 530.8 627.0 531.1 624.8 531.4 622.6 531.5 620.4 531.9 618.2 532.0 616.0 532.3 613.9 533.0 611.9 534.4 609.8 534.8 607.4 534.1 605.1 534.1 603.1 534.9 601.1 535.9 598.9 536.4 596.8 537.0 594.9 538.2 593.2 539.7 591.0 540.3 588.6 539.9 586.6 540.4 584.6 541.0 582.6 541.7 580.5 542.9 578.3 543.7 576.1 544.4 573.9 544.9 571.7 544.5 569.5 543.2 567.3 542.5 565.1 542.9 562.9 542.5 560.7 542.8 558.5 543.6 556.3 542.9 554.1 542.7 551.9 543.8 549.7 543.3 547.5 542.0 545.3 541.7 543.1 542.3 540.9 543.5 538.7 544.3 536.5 543.7 534.3 542.5 532.1 542.9 529.9 543.6 527.7 542.9 525.5 542.6 523.3 543.2 521.1 543.1 518.9 542.8 516.7 543.5 514.5 544.4 512.3 544.3 510.1 544.1 507.9 544.7 505.7 545.1 503.5 544.1 501.3 542.5 499.1 542.8 496.9 543.3 494.7 542.3 492.5 542.3 490.3 543.8 488.1 544.7 485.9 544.7 483.7 544.2 481.5 543.3 479.3 542.6 477.1 542.9 474.8 543.0 472.6 542.9 470.5 542.1 468.4 541.1 466.1 541.5 463.8 542.1 461.6 541.4 459.7 540.1 457.5 539.7 455.1 540.0 453.1 538.9 451.4 537.1 449.3 536.4 446.9 536.5 444.9 535.7 443.0 534.4 440.7 534.2 438.2 534.0 436.4 532.4 435.1 530.3 433.5 528.7 431.6 527.4 429.8 525.9 428.5 524.1 428.0 521.7 427.4 519.4 426.4 517.5 425.5 515.4 424.3 513.6 422.7 512.1 421.2 510.3 420.4 508.3 419.4 506.3 417.7 504.5 416.5 502.5 416.0 500.3 416.4 497.9 417.6 495.4 417.7 493.2 416.3 491.2 415.4 489.1 415.8 486.8 415.5 484.7 414.3 482.6 413.1 480.6 413.0 478.3 413.6 476.1 412.8 473.9 412.7 471.7 413.1 469.5 413.3 467.3 413.6 465.1 412.6 462.9 411.4 460.8 411.1 458.6 411.4 456.4 411.9 454.1 411.5 452.0 410.8 449.8 410.4 447.7 410.2 445.5 410.0 443.3 409.6 441.1 409.7 438.9 410.3 436.6 410.8 434.4 410.5 432.2 409.6 430.1 408.9 427.9 408.3 425.8 408.2 423.6 408.9 421.3 408.3 419.1 407.2 417.1 407.0 414.9 406.5 412.7 406.6 410.4 406.8 408.0 405.6 406.1 404.0 404.3 402.9 402.3 402.0 400.3 401.6 398.1 401.7 395.7 401.0 393.6 399.9 391.6 398.9 389.6 397.6 387.7 396.3 386.0 394.3 384.6 392.4 383.1 391.2 381.3 390.7 380.7" fill="none" stroke="#fde725" stroke-width="2.4" stroke-linejoin="round"/>
<path d="M428.0,513.0L429.6 514.5 431.2 516.0 432.6 517.7 434.1 519.3 436.2 520.3 437.7 522.0 438.7 524.1 440.2 525.8 442.1 527.0 444.5 527.4 446.7 528.1 448.7 529.2 450.8 530.0 452.5 531.3 454.0 533.1 455.7 534.5 457.2 536.2 458.7 538.3 460.7 539.4 463.2 539.3 465.7 538.7 467.8 539.5 469.8 540.5 472.0 540.6 474.2 540.9 476.5 540.7 478.7 540.9 480.7 542.1 482.9 543.1 485.1 543.4 487.3 543.0 489.6 542.1 491.8 542.2 493.9 543.2 496.1 543.4 498.4 542.8 500.6 541.5 502.8 541.2 505.0 541.9 507.2 542.1 509.4 542.5 511.5 543.9 513.8 544.0 516.0 542.4 518.2 541.4 520.4 541.4 522.6 542.1 524.8 543.0 527.0 543.5 529.2 543.3 531.3 542.3 533.5 541.8 535.7 542.2 538.0 542.8 540.1 542.2 542.3 541.6 544.6 542.5 546.8 542.4 548.9 540.9 551.1 541.0 553.4 542.1 555.5 541.2 557.7 540.7 560.0 542.1 562.2 542.3 564.3 540.6 566.3 539.0 568.5 539.0 570.9 540.2 573.2 540.8 575.4 540.3 577.5 539.2 579.3 537.7 581.3 536.7 583.6 536.6 585.8 536.2 587.7 535.1 589.7 534.0 591.8 533.6 594.2 533.9 596.3 533.2 598.2 531.9 600.5 531.9 602.6 531.3 604.4 529.6 606.6 528.9 608.8 529.4 611.0 529.4 613.3 529.6 615.7 530.1 618.0 529.7 619.9 528.1 621.6 526.3 623.3 524.5 625.4 524.0 627.8 524.1 629.9 523.4 631.9 522.5 633.8 521.2 635.8 520.3 638.0 519.8 639.7 518.3 641.8 517.6 644.3 517.9 646.2 516.7 648.1 515.5 650.1 514.8 652.0 513.6 653.9 512.5 655.7 511.2 657.8 510.4 659.5 508.9 660.4 506.5 662.2 505.3 664.5 504.5 665.8 502.6 666.6 500.4 667.6 498.2 669.7 497.2 672.7 497.5 674.7 496.7 676.2 494.9 677.5 492.9 678.9 491.2 680.9 489.9 682.4 488.1 683.4 486.2 684.1 484.0 684.3 481.7 685.2 479.7 685.8 477.6 685.7 475.2 686.5 473.2 687.5 471.2 687.3 468.9 687.3 466.7 688.1 464.6 688.7 462.5 688.7 460.3 689.3 458.2 689.8 456.0 689.5 453.8 690.0 451.6 690.3 449.3 689.2 447.2 688.9 445.0 689.5 442.7 688.8 440.5 687.7 438.5 687.6 436.2 686.5 434.3 685.3 432.4 685.1 430.1 683.6 428.3 682.7 426.3 683.4 423.8 683.1 421.7 682.1 419.7 682.3 417.6 683.0 415.5 682.6 413.3 682.2 411.1 682.6 408.9 682.2 406.7 681.5 404.6 681.6 402.3 681.4 400.2 680.8 398.0 680.8 395.8 680.7 393.6 680.5 391.4 680.4 389.2 680.1 387.1 680.3 384.8 680.2 382.6 680.0 380.4 680.5 378.2 679.9 376.0 678.3 374.1 677.9 372.0 678.2 369.7 677.3 367.7 675.8 366.2 674.5 364.8 673.0 363.6 671.0 363.2 669.0 362.9 667.1 361.3 665.2 359.9 662.6 359.3 660.5 357.9 660.0 355.4 659.8 353.0 659.3 350.8 659.2 348.5 658.7 346.3 657.4 344.4 656.4 342.5 656.2 340.1 655.1 338.2 652.7 336.9 651.9 334.8 652.1 332.4 650.9 330.5 649.5 328.7 648.5 326.7 647.6 324.7 646.6 322.8 644.8 321.1 643.9 319.1 644.1 316.7 643.4 314.5 642.5 312.3 641.4 310.2 639.5 308.8 637.2 308.1 634.9 307.5 633.0 306.5 631.3 305.1 630.0 302.9 628.0 301.9 625.4 302.1 623.7 300.7 622.5 298.3 620.5 297.2 618.1 297.1 615.8 296.8 613.5 296.5 611.3 296.1 609.7 294.2 608.6 291.7 607.3 290.0 605.7 288.8 603.4 288.1 601.2 286.6 601.4 284.2 602.2 281.9 602.2 279.7 601.4 277.6 600.2 275.4 600.0 273.2 600.4 271.0 600.0 268.9 599.5 266.9 599.2 264.4 597.8 262.3 595.5 261.5 592.9 262.1 590.7 262.3 588.7 261.0 586.6 260.1 584.3 261.1 582.1 261.9 579.9 261.5 577.7 261.6 575.5 261.5 573.3 261.0 571.1 260.7 570.0 259.5" fill="none" stroke="#7ad151" stroke-width="2.4" stroke-linejoin="round"/>
<path d="M437.5,518.8L439.2 520.4 440.8 522.2 442.5 523.9 444.4 524.9 446.6 525.5 449.0 525.5 451.2 526.0 453.0 527.4 455.1 528.1 457.4 528.2 459.7 528.4 461.6 529.7 463.4 531.0 465.8 530.7 468.1 530.7 470.0 531.9 472.0 532.9 474.0 533.8 476.2 534.1 478.5 533.6 480.7 533.6 482.8 534.5 484.9 535.4 487.0 536.2 489.1 537.0 491.3 537.3 493.5 537.0 495.7 537.1 497.8 538.2 500.0 539.0 502.3 538.2 504.6 537.0 506.7 537.9 508.7 540.0 510.9 540.2 513.3 538.7 515.6 537.7 517.8 537.4 520.0 537.5 522.1 538.7 524.2 540.9 526.4 541.3 528.6 539.5 530.8 539.2 533.0 540.6 535.2 541.3 537.4 540.8 539.6 540.4 541.8 540.8 544.1 541.1 546.3 540.6 548.5 540.4 550.6 540.0 552.8 539.9 555.0 539.6 557.1 538.3 559.3 537.8 561.5 537.9 563.7 538.2 565.9 538.0 567.9 536.6 570.1 536.2 572.3 536.2 574.5 535.9 576.8 535.9 579.0 535.8 581.1 535.0 583.1 534.0 585.3 533.6 587.7 534.0 589.9 533.6 591.6 531.7 593.4 530.0 595.6 529.7 597.8 529.5 599.8 528.4 601.9 527.7 604.0 527.0 606.1 526.5 608.6 527.2 610.8 526.8 612.5 524.7 614.3 523.3 616.6 523.2 618.9 523.2 621.0 522.5 623.3 522.7 625.5 522.0 627.2 520.4 629.5 520.1 631.7 519.9 633.8 519.0 635.7 517.8 637.3 516.1 639.4 515.3 641.7 515.1 643.7 514.1 646.0 513.8 648.0 512.8 649.4 510.9 651.1 509.4 652.8 507.9 654.8 507.0 656.9 506.2 658.3 504.3 660.3 503.4 662.8 503.2 664.5 501.8 666.2 500.4 668.3 499.6 670.4 498.6 672.4 497.6 673.8 495.7 674.6 493.4 676.3 492.0 678.9 491.2 680.2 489.3 680.2 486.7 680.6 484.4 682.1 482.7 683.3 480.8 683.0 478.4 682.7 476.0 683.3 474.0 684.9 472.1 686.1 470.1 685.5 467.8 685.6 465.6 687.4 463.6 688.6 461.4 689.0 459.2 689.0 456.9 688.8 454.7 688.6 452.4 688.1 450.2 687.3 448.1 686.5 445.9 684.9 444.0 684.7 441.8 685.3 439.4 684.3 437.4 683.4 435.3 682.8 433.2 681.2 431.5 680.1 429.6 680.0 427.3 679.4 425.1 679.0 422.9 678.3 420.8 677.6 418.7 677.0 416.6 675.8 414.7 674.8 412.8 674.1 410.7 673.8 408.5 673.6 406.3 673.5 404.1 673.4 401.9 673.7 399.6 673.2 397.5 671.4 395.5 671.3 393.3 672.0 391.0 670.7 388.9 669.0 387.1 668.7 384.9 668.6 382.7 668.2 380.5 667.8 378.3 666.6 376.5 664.3 375.4 662.5 374.2 661.9 371.8 661.1 369.5 659.4 368.1 657.9 366.4 656.2 365.0 654.2 364.0 652.7 362.1 651.1 360.6 649.3 359.4 647.3 358.5 644.7 358.4 642.6 357.4 641.5 355.4 639.9 353.3 639.8 350.6 641.5 348.7 643.2 347.1 644.5 345.3 645.3 343.1 646.9 341.6 648.7 340.3 649.2 338.3 649.2 336.5 648.5 334.5 646.6 333.1 644.7 331.8 642.5 331.5 639.6 332.2 637.8 330.8 637.1 328.2 635.4 326.8 633.2 325.8 631.9 324.1 631.3 321.7 630.0 319.9 628.6 318.3 627.7 316.2 625.8 314.9 623.9 313.5 623.4 311.1 622.7 308.9 621.3 307.2 620.2 305.3 618.5 303.8 616.5 302.6 615.1 300.9 613.8 299.1 612.5 297.2 610.9 295.6 609.2 294.2 607.2 293.1 604.8 292.7 602.7 291.9 600.8 290.9 598.9 289.8 597.4 288.1 595.8 286.4 593.5 286.0 591.5 285.0 590.2 283.0 588.8 281.5 588.0 279.7 589.7 278.4 591.1 277.0 591.9 274.7 593.2 272.7 594.8 271.4 596.0 270.0 596.4 267.9 594.8 266.1 592.2 266.2 590.0 265.8 588.4 263.9 586.4 263.0 584.1 262.8 582.3 261.1 580.6 259.3 578.3 259.3 575.6 260.4 573.4 260.3 571.6 258.7 569.7 257.4 567.6 256.8 565.3 256.5 564.1 255.6" fill="none" stroke="#22a884" stroke-width="2.4" stroke-linejoin="round"/>
<path d="M439.8,500.4L441.6 501.5 444.1 501.9 446.2 502.5 447.9 504.0 449.5 505.5 451.5 506.4 453.3 507.6 455.2 508.8 457.6 508.4 459.8 508.5 461.6 510.1 463.5 511.6 465.6 512.2 467.7 513.1 469.7 513.8 472.1 513.5 474.4 513.8 476.3 514.9 478.3 516.0 480.4 516.7 482.2 517.9 484.2 518.9 486.4 519.3 488.4 520.3 490.2 521.6 492.5 521.9 494.5 522.8 496.3 524.4 498.6 524.4 501.1 523.8 503.1 524.6 504.9 526.5 507.0 527.3 509.3 527.2 511.4 527.8 513.6 528.1 516.0 527.2 518.1 527.5 520.3 528.8 522.6 528.7 524.8 528.1 526.9 527.5 529.0 526.6 531.1 525.9 533.3 525.9 535.5 525.8 537.6 524.7 539.9 524.0 542.2 524.3 544.3 525.0 546.3 526.3 548.5 526.7 550.9 526.2 552.9 527.3 554.7 528.8 556.9 529.3 559.0 529.8 561.2 529.6 563.4 529.5 565.7 530.6 567.9 530.0 569.9 528.6 572.0 528.2 574.2 528.0 576.3 527.4 578.2 526.0 580.3 525.6 582.8 525.9 584.7 524.8 586.1 522.5 588.0 521.2 590.4 521.3 592.7 521.1 594.5 519.6 596.2 517.9 598.4 517.6 600.9 517.8 603.2 517.5 605.1 516.4 606.7 514.7 608.9 514.1 611.1 513.7 612.8 512.1 614.6 510.6 616.8 510.1 618.9 509.4 621.1 509.0 623.4 508.8 625.0 507.0 627.0 506.2 629.9 507.2 632.3 506.8 633.8 504.9 635.4 503.4 637.0 501.8 638.3 499.6 640.3 498.5 642.4 497.9 644.5 497.2 647.0 497.2 648.9 496.0 650.4 494.3 652.7 493.8 655.0 493.1 656.8 491.8 658.7 490.6 660.2 488.9 661.7 487.3 663.8 486.3 665.2 484.6 665.7 481.9 666.5 479.6 668.4 478.4 670.9 477.7 672.8 476.4 674.2 474.7 675.6 473.0 675.9 470.5 676.3 468.1 677.9 466.6 679.5 464.9 680.7 463.0 681.6 460.9 682.1 458.8 683.1 456.8 683.7 454.6 684.1 452.4 685.0 450.3 685.4 448.1 685.9 445.8 686.2 443.5 685.2 441.2 683.7 439.1 683.2 437.0 683.1 434.7 682.3 432.6 681.1 430.7 679.2 429.2 677.9 427.4 677.9 424.8 676.4 423.2 674.2 421.9 673.0 420.0 672.1 418.0 671.6 415.8 671.4 413.5 671.1 411.2 670.7 408.9 669.4 407.1 667.0 405.9 665.9 404.0 665.6 401.5 664.2 399.7 662.1 398.5 659.8 397.8 657.8 396.7 656.5 394.9 655.2 393.1 654.0 391.1 653.1 388.9 651.7 387.4 650.3 385.8 650.1 383.6 649.9 381.5 648.3 379.8 646.0 378.2 644.6 376.3 643.6 374.4 643.6 372.1 643.8 369.7 642.9 367.7 642.0 365.7 641.4 363.6 640.8 361.4 639.7 359.6 639.1 357.4 638.0 355.3 635.8 354.5 634.2 352.9 633.5 350.7 633.1 349.4 632.9 348.6 633.8 347.3 635.8 346.5 637.8 345.4 639.3 343.4 640.7 341.2 639.9 338.8 638.3 337.2 637.2 335.3 635.9 333.5 634.5 331.8 633.0 330.1 631.4 328.6 629.7 327.2 628.0 325.8 626.3 324.4 624.8 322.7 622.9 321.5 620.6 320.5 619.6 318.5 619.0 316.2 617.4 314.6 616.0 312.9 615.5 310.5 614.0 308.9 611.6 308.0 610.6 306.0 609.7 303.9 607.5 302.9 606.1 301.2 605.5 298.7 604.2 296.9 602.2 295.8 599.9 295.0 598.5 293.3 597.0 291.6 595.1 290.5 593.9 288.5 592.7 286.7 591.2 285.0 589.7 283.4 588.2 281.7 586.9 279.8 585.4 278.2 583.1 277.5 580.1 277.8 578.0 277.0 576.5 275.3 574.5 274.5 572.6 273.5 571.0 271.6 569.1 270.5 566.9 270.0 565.1 268.8 563.2 267.6 561.3 266.5 559.1 265.9 556.8 265.7 554.8 264.8 552.9 263.6 551.0 262.4 548.9 261.9 546.7 261.7 544.9 260.1 543.0 258.5 540.7 258.3 538.5 258.2 536.2 258.6 534.0 258.7 531.8 258.2 529.6 258.6 527.4 258.0 525.4 256.7 523.2 256.5 521.0 256.3 518.8 255.6 516.6 255.6 514.4 255.7 512.2 255.8 510.0 255.9 507.8 256.0 505.6 256.9 503.5 257.2 501.3 256.7 499.1 256.5 496.7 256.0 494.4 256.1 492.6 257.9 491.1 260.0 489.2 261.0 486.6 260.5 484.0 260.2 481.9 260.9 479.8 261.6 477.8 262.5 475.9 263.6 475.5 263.8" fill="none" stroke="#2a788e" stroke-width="2.4" stroke-linejoin="round"/>
<path d="M438.8,390.2L438.0 387.9 436.1 385.5 436.5 383.2 438.6 381.4 438.7 379.1 438.9 376.7 440.6 375.1 442.5 373.7 444.1 372.2 445.2 370.3 446.4 368.4 447.6 366.5 448.2 364.3 449.9 362.8 452.1 361.7 453.4 359.9 453.8 357.5 454.8 355.5 456.5 354.0 457.6 352.1 459.0 350.4 460.3 348.5 462.0 347.1 464.0 346.0 464.9 343.8 465.4 341.3 467.1 339.7 469.1 338.7 470.4 336.9 471.6 334.9 473.6 333.8 476.2 333.3 477.9 332.0 478.9 329.7 480.4 328.1 483.2 328.0 485.7 327.6 486.9 325.7 488.3 323.9 490.2 322.8 491.7 321.0 493.0 319.1 495.1 318.3 497.1 317.3 498.6 315.4 500.4 314.1 502.5 313.4 504.6 312.6 506.8 312.2 509.6 312.4 511.5 311.2 512.3 308.5 513.7 306.8 516.4 306.5 517.8 304.8 518.7 302.4 520.5 301.1 522.5 300.0 524.9 300.5 527.1 301.3 529.2 301.4 531.4 300.5 533.7 299.4 535.8 300.5 537.9 301.6 540.1 301.4 542.2 301.7 544.2 302.8 546.0 304.0 548.2 304.5 550.6 304.6 552.4 305.9 553.7 308.4 555.6 309.9 558.1 310.4 560.5 309.5 562.0 307.2 563.9 306.2 566.8 306.9 569.1 306.8 570.6 305.4 572.4 303.8 574.5 303.6 576.7 303.5 578.9 302.5 581.1 301.8 583.3 302.1 585.5 302.7 587.7 303.5 589.6 304.8 591.7 304.9 594.5 304.3 596.4 306.1 596.0 308.8 595.2 311.3 596.2 313.5 598.1 315.2 600.1 316.4 602.7 316.3 604.6 317.3 606.1 319.3 608.2 320.2 609.9 321.8 611.8 323.0 614.3 322.6 616.8 322.3 619.3 322.4 621.2 324.5 619.8 326.6 618.5 327.0 616.9 329.4 614.8 329.8 612.5 329.7 611.9 330.9 613.4 331.2 615.0 333.2 617.2 333.6 619.4 333.7 621.4 334.8 623.3 335.7 624.4 336.8 624.0 337.5 623.3 338.9 622.2 340.8 620.4 342.1 618.3 343.0 616.7 344.5 615.1 346.1 613.0 347.4 611.0 350.1 613.1 352.9 616.0 353.1 618.1 353.7 619.9 355.2 622.1 355.6 624.5 355.7 626.8 356.4 629.0 358.3 628.0 361.2 625.8 362.4 624.0 363.8 622.0 364.7 619.6 364.9 617.4 365.9 616.1 368.6 618.5 370.7 620.8 371.4 623.1 371.8 625.3 371.8 627.6 371.6 629.8 371.8 632.0 371.5 634.3 371.6 635.1 373.3 634.3 374.2 633.1 376.2 630.8 376.5 628.3 376.5 626.0 377.8 625.9 380.6 628.0 381.4 629.4 382.9 631.1 384.5 633.1 385.4 635.4 385.6 637.7 385.8 639.7 386.9 641.2 388.8 642.7 390.6 644.0 391.9 643.9 393.2 643.1 395.0 641.9 397.3 639.9 398.3 637.6 398.7 635.9 399.9 633.9 401.1 633.9 403.7 636.3 404.7 638.3 405.8 639.8 407.7 641.7 408.6 643.9 409.1 645.9 410.0 647.9 411.1 649.1 413.1 650.1 415.1 650.3 417.4 649.5 419.8 650.3 421.8 651.7 423.9 651.3 426.1 650.8 428.3 652.0 430.5 652.4 432.7 652.0 434.9 652.5 437.1 652.6 439.3 651.9 441.5 651.2 443.6 651.3 445.8 651.1 448.1 650.5 450.2 649.6 452.3 648.8 454.3 648.5 456.6 647.7 458.8 646.4 460.6 644.9 462.3 643.8 464.3 643.0 466.4 641.1 467.8 639.0 468.9 637.7 470.7 635.9 472.1 633.8 472.9 632.1 474.2 630.3 475.6 628.6 477.0 626.3 477.3 623.8 477.2 621.8 478.1 620.1 479.5 618.0 480.3 615.6 480.0 613.4 480.3 611.6 481.9 609.6 482.8 607.5 483.2 605.3 483.7 603.2 483.9 601.1 484.8 599.2 486.4 597.1 487.3 594.9 487.1 592.6 487.0 590.5 487.6 588.3 488.0 586.1 487.9 583.8 487.5 581.7 486.9 579.5 485.9 577.4 485.6 575.3 485.5 573.1 485.8 570.8 486.1 569.0 484.5 567.3 483.0 564.7 483.5 562.1 484.1 559.9 483.5 558.3 481.8 556.5 480.2 554.3 480.1 552.1 481.0 550.2 481.6 548.0 481.6 546.0 482.4 544.7 484.4 543.0 485.9 541.1 487.2 538.7 487.7 536.2 487.2 533.9 487.1 531.7 487.5 529.5 487.8 527.4 488.2 525.4 489.2 523.2 489.8 521.0 489.7 518.8 489.9 516.6 490.5 514.4 490.6 512.3 489.6 510.0 489.8 507.7 489.9 505.6 488.8 503.3 488.4 501.1 487.6 499.4 486.1 497.7 484.7 495.8 483.5 493.7 482.6 492.4 480.8 490.9 479.1 488.8 478.4 487.2 476.8 485.7 474.7 483.8 473.6 481.6 473.1 479.3 473.0 477.4 471.9 475.6 470.5 473.3 470.3 470.8 469.9 468.7 469.0 467.5 466.9 466.9 464.2 465.9 462.1 464.5 460.5 462.9 459.0 461.2 457.7 459.4 456.4 458.5 454.4 457.2 452.6 455.4 451.2 454.3 449.4 452.9 447.6 451.1 446.1 450.3 444.1 450.0 441.8 449.2 439.8 448.0 437.9 446.6 436.1 446.0 434.0 445.5 431.8 444.3 429.9 443.9 427.8 444.2 425.6 443.7 423.5 442.8 421.4 442.5 419.2 442.2 417.0 442.5 414.8 442.5 412.5 441.8 410.4 440.6 408.5 439.0 406.9 438.2 404.8 437.7 402.6 437.2 400.5 437.5 398.3 437.1 396.2 437.2 394.0 438.4 391.9Z" fill="none" stroke="#3b528b" stroke-width="2.4" stroke-linejoin="round"/>
<path d="M510.9,327.9L513.1 328.1 515.3 328.1 517.6 328.4 519.7 327.7 521.9 327.6 524.3 328.7 526.6 328.7 528.7 327.7 530.8 326.7 533.0 325.8 534.5 324.0 535.2 321.7 536.5 320.0 538.2 319.5 540.3 319.9 542.6 320.6 544.5 321.9 545.5 324.0 546.7 325.9 548.3 327.4 549.6 329.2 550.7 331.2 552.3 332.7 554.6 333.5 556.9 334.3 558.1 336.3 559.3 338.4 561.7 338.6 564.0 338.6 565.9 339.1 567.9 339.8 570.2 340.7 572.3 339.9 574.3 338.8 576.5 338.6 578.5 337.4 580.5 336.5 582.7 336.1 584.3 334.3 586.2 333.0 588.6 333.3 591.0 333.2 592.8 331.9 594.6 330.5 596.5 329.1 598.6 328.2 601.2 328.6 601.8 330.1 600.4 331.2 599.9 333.4 599.9 336.0 599.2 337.9 598.5 339.3 599.7 340.5 601.9 341.0 604.2 341.9 606.5 342.2 608.6 341.3 610.7 340.6 612.2 341.4 613.0 341.6 612.5 343.4 610.8 344.8 609.1 346.2 607.3 347.4 606.1 349.5 605.0 351.4 603.5 353.0 602.2 354.6 600.1 355.9 599.4 358.0 600.1 360.3 599.6 362.5 599.8 364.7 600.6 366.8 600.8 369.0 600.4 371.4 600.5 373.6 602.1 375.5 603.2 377.5 602.8 379.7 602.9 381.9 603.2 384.2 602.9 386.4 602.5 388.5 602.1 390.7 601.2 392.8 600.8 395.0 600.8 397.2 601.0 399.5 600.4 401.6 599.0 403.5 597.9 405.4 596.9 407.4 595.9 409.1 595.0 411.0 595.7 413.1 597.2 414.7 598.3 416.5 600.0 417.9 601.7 419.4 602.9 421.3 604.0 423.2 605.3 425.1 606.0 427.4 605.0 430.0 604.4 431.8 604.2 433.5 603.4 435.3 602.8 437.7 602.3 440.2 601.0 441.9 598.3 442.5 595.9 443.3 594.6 445.0 593.0 446.4 591.6 448.2 590.2 449.9 587.8 450.1 586.0 450.9 584.6 453.6 582.4 454.3 580.0 452.5 577.8 452.6 575.7 454.6 573.6 455.5 571.5 456.1 569.3 455.9 567.1 455.6 564.9 456.0 562.8 456.2 560.5 456.3 558.1 455.8 555.7 455.7 553.9 457.4 552.2 459.4 550.3 460.6 548.2 461.4 546.0 461.9 543.8 462.0 541.3 460.9 539.1 461.0 537.1 462.3 534.8 462.2 532.5 462.0 530.4 462.4 528.3 463.3 526.4 464.9 524.4 466.5 522.2 467.0 519.9 466.7 517.7 467.3 515.5 468.3 513.2 467.8 511.0 466.4 508.8 466.0 506.6 465.8 504.5 465.1 502.3 464.8 500.3 463.8 498.4 462.6 496.3 462.1 494.2 461.5 492.1 460.8 490.2 459.9 488.4 458.6 486.0 458.5 483.5 458.2 481.6 457.0 480.3 455.0 479.1 453.0 477.0 452.1 475.1 450.9 474.0 448.9 473.0 446.9 471.6 445.1 469.5 444.1 467.7 442.7 466.8 440.6 466.6 438.2 466.0 436.3 464.4 434.5 462.9 432.7 462.3 430.5 463.2 428.1 463.3 425.9 461.3 423.9 459.7 421.9 460.3 419.6 461.8 417.2 461.5 415.0 460.1 412.9 459.5 410.7 460.0 408.4 460.8 406.2 460.5 403.8 460.7 401.1 463.2 399.8 466.2 399.5 467.7 397.7 467.8 395.2 468.6 392.9 467.9 390.6 465.5 389.4 464.3 387.6 463.2 385.7 461.1 384.8 459.5 383.7 457.8 382.3 456.1 380.8 454.4 379.3 452.3 378.6 450.3 377.6 448.8 376.0 447.4 374.2 446.3 372.1 445.8 371.1" fill="none" stroke="#472d7b" stroke-width="2.4" stroke-linejoin="round"/>
<path d="M510.4,418.2L511.0 416.0 513.0 414.9 514.6 413.3 516.2 411.1 518.7 410.6 521.2 411.6 523.2 413.0 524.9 414.3 527.0 414.6 529.3 415.2 530.8 416.8 532.0 418.7 532.5 420.9 533.0 423.0 533.6 425.1 534.4 427.2 536.3 428.9 536.9 431.1 536.2 433.4 534.4 434.4 531.9 434.0 530.0 432.8 528.3 431.3 526.6 429.9 525.1 428.1 523.6 426.3 521.4 425.7 519.4 424.8 517.9 423.0 515.8 422.2 513.6 421.6 512.3 419.7 511.4 418.0Z" fill="none" stroke="#440154" stroke-width="2.4" stroke-linejoin="round"/>
<text x="276" y="184" font-size="15" fill="#2a788e" transform="rotate(22 276 184)">−64</text>
<text x="343" y="300" font-size="15" fill="#2a788e" transform="rotate(30 343 300)">−64</text>
<text x="280" y="322" font-size="15" fill="#2a788e" transform="rotate(62 280 322)">−64</text>
<text x="478" y="352" font-size="15" fill="#472d7b" transform="rotate(-55 478 352)">−81</text>
<text x="478" y="462" font-size="15" fill="#3b528b" transform="rotate(60 478 462)">−76</text>
<text x="603" y="525" font-size="15" fill="#22a884" transform="rotate(-8 603 525)">−54</text>
<text x="414" y="140" font-size="15" fill="#fde725" transform="rotate(62 414 140)">−31</text>
<text x="622" y="565" font-size="15" fill="#7ad151" transform="rotate(-20 622 565)">−42</text>
</g>
<rect x="436" y="429" width="72" height="73" fill="#ff0000" fill-opacity="0.4"/>
<g transform="translate(0 0)" fill="none" stroke="#fff" stroke-width="1.9" stroke-linejoin="round">
<path d="M110.3,354.1L112.5 352.9 114.8 352.0 117.1 351.0 119.3 349.9 121.7 350.1 123.4 351.8 125.1 353.5 127.0 355.1 129.1 356.6 130.8 358.4 132.8 359.9 135.1 361.0 137.0 362.7 138.3 364.9 140.2 366.5 142.2 368.0 144.0 369.7 146.3 370.8 148.8 370.8 151.3 370.7 153.8 371.0 156.2 371.5 158.7 371.9 161.1 372.6 163.4 373.5 165.8 373.9 168.0 373.6 170.3 373.0 172.7 372.1 174.9 371.0 177.2 370.0 179.3 368.6 181.7 367.4 184.3 367.3 186.7 368.5 188.8 369.7 191.2 370.7 193.4 371.8 195.4 373.3 197.2 375.1 199.3 376.6 201.2 378.1 202.9 380.0 204.7 381.7 206.6 383.4 208.3 385.2 209.9 387.1 212.0 388.5 214.4 389.2 216.8 389.9 219.2 390.8 221.8 390.8 224.3 389.9 226.5 388.7 228.6 387.3 230.8 386.1 233.2 385.4 235.7 385.2 238.1 384.4 240.3 383.2 242.2 381.4 243.4 379.1 244.2 376.7 245.4 374.5 246.8 372.5 248.9 371.0 251.2 370.0 253.6 369.4 256.0 368.7 258.4 367.9 260.8 367.2 263.1 366.3 265.1 364.9 266.6 363.0 268.0 361.0 269.2 358.8 270.5 356.6 272.0 355.0"/>
<path d="M252.6,381.4L253.3 383.8 254.2 386.1 255.2 388.4 256.5 390.6 258.1 392.5 260.1 393.9 262.4 395.0 264.7 395.9 266.8 397.2 269.0 398.3 271.5 398.9 273.9 399.6 276.2 400.4 278.7 400.9 281.1 401.5 283.5 402.4 285.9 402.9 288.5 402.9 291.0 403.0 293.5 403.6 296.1 403.4 298.3 402.1 300.1 400.3 301.5 398.1 302.1 395.5 301.8 392.9 301.3 390.6 300.1 388.5 298.2 386.8 296.4 384.8 296.7 382.2 298.5 380.2 300.2 378.4 302.1 376.7 304.1 375.3 306.1 373.7 307.9 372.1 309.8 370.4 311.8 368.8 313.7 367.2 316.4 366.8 318.0 369.0 318.8 371.4 319.7 373.7 320.6 376.1 321.4 378.4 322.2 380.8 323.4 383.0 324.6 385.2 326.0 387.3 328.2 388.3 330.3 387.5 332.2 386.0 334.4 384.6 336.9 385.3 338.9 386.9 340.7 388.7 342.3 390.6 343.3 392.9 344.1 395.1 344.0 397.4 342.6 399.4 340.6 401.0 338.6 402.5 336.7 404.0 334.9 405.7 333.6 407.9 332.6 410.2 330.9 412.1 329.3 413.9 327.9 416.0 326.3 417.9 324.7 419.9 323.1 421.7 321.3 423.5 319.3 425.1 317.3 426.6 315.7 428.5 313.8 430.2 312.4 432.4 314.0 434.4 316.2 435.5 318.2 437.0 320.2 438.5 322.0 440.1 323.6 442.0 322.9 444.3 320.7 445.6 318.7 447.1 316.7 448.6 314.3 449.4 311.8 450.1 309.4 451.3 307.8 453.4 307.2 455.9 306.2 458.2 305.2 460.5 304.4 462.9 302.7 464.9 300.3 464.3 298.4 462.6 296.8 460.6 295.3 458.6 293.9 456.6 292.3 454.6 289.8 454.1 287.6 455.0 285.4 456.1 283.3 457.4 281.2 458.8 279.3 460.4 277.4 462.0 275.5 463.6 273.3 464.9 271.3 466.5 269.8 468.5 268.9 470.9 268.5 473.4 268.3 475.9 268.4 478.4 268.8 480.8 269.3 483.3 270.1 485.7 271.0 488.0 272.3 490.1 273.4 492.2 274.9 494.1 277.1 495.2 279.2 496.6 280.5 498.6 280.2 501.0 279.3 503.2 278.5 505.6 277.6 508.0 276.1 510.0 274.6 512.1 273.6 514.4 272.9 516.8 272.2 519.2 271.7 521.6 271.1 524.1 271.0 526.6 270.2 528.9 267.8 529.9 265.4 530.3 263.0 531.1 260.9 532.5 259.3 534.5 257.8 536.5 256.4 538.6 255.1 540.7 253.8 542.8 252.4 544.9 251.0 547.0 249.7 549.1 248.2 551.1 246.5 553.0 245.2 555.1 244.1 557.3 242.7 559.4 240.8 561.0 238.8 562.2 236.8 563.8 235.1 565.6 233.4 567.3 232.3 569.6 232.9 572.1 234.2 574.3 235.4 576.5 236.8 578.5 238.1 580.7 239.3 582.9 240.9 584.8 242.6 586.7 244.6 588.1 246.6 589.6 248.5 591.3 250.4 593.0 252.2 594.7 254.4 596.0 256.8 596.8 259.1 597.8 261.1 599.3 263.0 601.0 265.2 602.2 267.5 603.3 269.5 604.8 271.5 606.3 273.5 607.7 275.4 609.4 277.5 610.8 279.5 612.2 281.5 613.8 283.8 615.0 286.3 615.4 288.7 616.1 290.7 617.5 292.6 619.1 294.5 620.8 295.6 623.0 296.5 625.3 297.4 627.5 298.3 629.8 300.0 631.7 302.2 632.9 304.6 633.8 306.8 634.9 308.7 636.6 310.6 638.3 312.8 639.6 315.2 640.4 317.8 640.6 320.3 641.2 322.3 642.9 323.7 645.0 325.4 646.9 327.2 648.6 328.9 650.6 329.5 653.1 329.9 655.6 332.3 656.4 334.9 656.0 337.3 655.3 339.6 654.2 341.9 653.1 344.2 652.3 346.6 651.3 349.2 651.6 351.4 653.0 353.4 654.5 355.3 656.1 357.3 657.6 359.6 658.7 361.9 659.7 364.1 660.9 366.0 662.5 367.9 664.2 370.1 665.5 372.4 666.4 374.6 667.6 376.7 669.0 379.1 669.9 381.3 671.0 383.3 672.7 385.4 673.9 387.9 674.5 390.3 675.4 392.6 676.3 395.1 676.5 397.6 677.0 399.9 678.2 402.0 679.5 404.1 680.8 406.1 682.3 407.9 684.0 409.4 686.0 410.8 688.1 412.4 690.0 414.3 691.7 416.3 693.2 418.3 694.8 420.1 696.5 422.1 698.0 423.8 699.8 425.2 702.0 426.8 703.9 428.9 705.3 431.0 706.8 432.7 708.6 434.5 710.4 436.5 712.0 438.8 713.1 441.3 713.9 443.5 714.9 445.7 716.2 448.0 717.1 450.5 717.3 453.0 717.6 455.4 718.1 457.9 718.7 460.3 719.2 462.8 719.4 465.2 720.0 467.7 720.7 470.2 720.9 472.6 721.4 474.9 722.4 477.3 723.2 479.7 723.7 482.2 724.4 484.6 725.0 487.0 725.5 489.5 726.1 491.8 727.0 494.0 728.2 496.2 729.5 498.4 730.6 500.7 731.6 502.8 732.9 504.7 734.5 506.5 736.2 507.3 738.6 507.1 741.2 506.5 743.6 506.0 746.2 506.6 748.7 507.5 751.1 508.6 753.4 510.2 755.4 512.2 756.9 514.5 757.8 516.7 758.8 518.9 760.0 521.2 761.2 523.5 762.1 525.9 762.8 528.3 763.6 530.7 764.2 533.0 765.4 535.2 766.6 537.3 767.9 539.2 769.6 541.1 771.2 543.1 772.7 544.8 774.6 546.3 776.5 547.9 778.0"/>
<path d="M599.8,789.7L601.9 788.3 603.8 786.8 605.9 785.3 607.8 783.7 609.8 782.2 611.9 780.9 613.9 779.4 616.0 778.0 617.9 776.5 619.6 774.6 621.4 772.9 623.4 771.3 625.6 770.1 627.7 768.8 629.6 767.1 631.5 765.4 632.5 763.1 632.8 760.6 633.4 758.2 634.4 755.8 634.9 753.3 634.9 750.8 635.3 748.3 636.2 746.0 636.6 743.5 636.5 740.9 637.1 738.4 638.3 736.2 639.3 733.9 640.6 731.8 642.2 729.8 643.6 727.7 644.9 725.6 646.3 723.6 647.7 721.5 649.1 719.4 650.4 717.3 651.7 715.2 653.2 713.2 655.2 711.5 656.8 709.6 657.9 707.3 658.9 705.0 659.8 702.7 661.0 700.5 661.9 698.2 662.4 695.7 663.2 693.3 663.9 690.9 664.1 688.4 664.4 685.9 664.8 683.5 665.6 681.1 666.5 678.7 666.7 676.2 666.9 673.7 667.7 671.3 668.3 668.9 668.5 666.4 668.8 663.9 669.2 661.4 669.9 659.0 670.5 656.6 671.2 654.1 671.9 651.8 672.4 649.3 673.1 646.9 673.8 644.5 674.2 642.0 674.7 639.6 675.4 637.2 676.3 634.8 677.3 632.5 677.9 630.1 678.4 627.6 679.1 625.2 679.5 622.7 679.8 620.2 680.7 617.8 682.1 615.7 682.8 613.3 683.0 610.7 683.9 608.4 684.9 606.1 685.4 603.6 685.4 601.0 685.9 598.5 686.9 596.2 687.7 593.9 688.2 591.4 689.0 589.0 689.5 586.6 689.6 584.0 689.6 581.5 689.4 579.0 689.2 576.5 688.7 574.1 688.1 571.6 687.8 569.2 687.8 566.6 687.3 564.2 686.4 561.8 686.2 559.3 686.1 556.8 685.5 554.3 684.7 551.9 684.4 549.4 684.2 546.9 683.8 544.5 683.5 542.0 682.9 539.6 682.4 537.1 682.2 534.6 681.9 532.1 681.5 529.7 681.2 527.2 680.7 524.7 680.2 522.2 679.5 519.8 678.6 517.5 678.0 515.0 677.9 512.5 677.3 510.1 676.7 507.6 676.7 505.1 677.1 502.6 677.5 500.1 678.1 497.6 678.9 495.3 679.5 492.9 680.0 490.4 680.5 488.0 680.6 485.4 681.1 483.0 682.4 480.7 683.4 478.4 684.0 476.0 684.7 473.6 685.2 471.1 685.8 468.7 686.5 466.3 687.0 463.8 687.9 461.5 689.0 459.2 689.7 456.8 690.5 454.5 691.0 452.1 691.0 449.6 690.6 447.2 689.5 445.0 687.8 443.1 686.3 441.2 685.5 439.0 685.9 436.6 687.0 434.4 688.6 432.5 690.5 430.8 692.5 429.2 694.2 427.4 696.0 425.6 697.6 423.5 698.0 420.7 696.7 418.3 694.5 416.8 692.4 415.4 690.9 413.4 690.0 411.3 689.5 408.9 689.5 406.4 689.9 403.9 690.5 401.5 691.4 399.1 692.2 396.7 692.5 394.2 692.7 391.6 693.6 389.3 695.0 387.2 696.1 384.9 696.7 382.4 697.9 380.1 699.5 378.2 701.6 376.7 703.7 375.5 705.7 374.0 707.6 372.3 709.3 370.5 710.7 368.3 711.4 365.8 711.7 363.3 712.3 360.9 712.8 358.4 713.6 356.1 714.7 353.8 715.3 351.3 715.7 348.9 716.5 346.5 717.2 344.1 717.4 341.6 718.0 339.1 719.0 336.8 719.7 334.4 720.1 331.9 720.7 329.5 721.7 327.2 722.9 324.9 723.5 322.5 723.5 319.9 724.2 317.5 725.4 315.2 726.0 312.8 726.4 310.3 726.8 307.8 726.9 305.3 727.3 302.9 727.9 300.4 728.1 297.9 728.1 295.3 729.1 293.0 730.9 291.1 732.6 289.2 734.2 287.3 736.0 285.6 737.8 283.9 739.7 282.3 741.7 280.7 743.8 279.4 746.2 278.5 748.7 278.1 751.0 277.6 753.4 277.0 755.5 278.2 756.0 280.8 756.4 283.3 757.5 285.6 758.5 287.9 759.6 290.1 761.0 292.2 762.3 294.4 763.5 296.6 765.0 298.5 767.0 300.1 768.8 301.9 769.9 304.3 770.5 306.8 771.2 309.2 771.6 311.7 772.5 314.0 773.8 316.2 774.6 318.6 774.6 321.2 775.1 323.6 775.7 326.0 775.9 328.5 775.9 331.0 776.4 333.5 776.7 336.0 776.5 338.5 776.4 341.0 776.4 343.5 776.9 346.0 778.0 348.3 779.0 350.6 779.5 353.0 780.2 355.5 781.8 357.4 783.8 358.9 785.7 360.4 787.6 361.8 789.7 363.0 792.1 363.8 794.6 364.0 797.2 364.1 799.6 365.1 801.7 366.7 802.4 369.2 801.2 371.6 799.4 373.4 797.5 375.1 795.6 376.8 794.2 379.0 793.7 381.6 793.8 384.1 794.0 386.6 794.6 389.0 795.7 391.3 796.4 393.7 797.0 396.1 798.3 398.3 799.8 400.3 801.3 402.3 803.4 403.8 805.5 405.1 807.3 406.9 808.9 408.8 810.5 410.7 812.1 412.7 813.8 414.5 815.3 416.5 816.7 418.6 818.0 420.7 819.1 423.0 820.0 425.3 821.0 427.7 822.3 429.8 823.4 432.0 823.9 434.5 824.5 436.8 825.3 439.2 825.4 441.7 825.6 444.2 826.1 446.7 826.5 449.2 826.8 451.7 826.4 454.2 826.0 456.7 825.9 459.2 825.9 461.7 826.0 464.2 826.2 466.7 826.2 469.2 826.3 471.7 826.4 474.2 826.9 476.6 827.1 479.1 827.2 481.6 827.7 484.1 828.1 486.6 828.3 489.1 828.8 491.5 829.5 493.9 830.4 496.3 831.2 498.7 831.8 501.1 832.0 503.6 832.5 506.1 833.0 508.5 833.1 511.0 833.5 513.5 834.3 515.9 835.1 518.3 835.6 520.7 835.9 523.2 836.4 525.7 837.2 528.1 837.7 530.1"/>
<path d="M575.4,104.1L577.7 105.2 580.1 105.8 582.6 106.3 585.0 107.1 587.3 108.0 589.7 108.6 592.3 109.0 594.6 109.9 596.7 111.5 598.7 113.0 600.8 114.3 602.8 115.8 604.6 117.6 606.1 119.6 607.8 121.5 609.6 123.1 611.4 124.9 613.3 126.5 614.8 128.6 616.4 130.5 618.4 132.1 620.0 134.0 621.5 136.0 623.3 137.7 625.3 139.3 626.9 141.2 628.4 143.3 630.2 145.0 632.3 146.5 634.0 148.3 635.3 150.5 636.9 152.4 638.7 154.1 640.7 155.7 642.3 157.6 644.0 159.5 646.2 160.8 648.6 161.7 650.9 162.7 653.1 163.8 655.4 164.7 657.8 165.4 660.3 165.8 662.8 165.9 665.3 166.2 667.7 166.5 670.3 166.3 672.8 166.6 675.3 166.9 677.8 166.7 680.3 166.3 682.8 166.3 685.3 166.4 687.8 166.3 690.3 166.4 692.8 166.5 695.3 166.3 697.8 166.1 700.3 166.5 702.8 166.6 705.3 166.2 707.8 166.2 710.3 166.6 712.8 166.5 715.3 166.1 717.8 166.1 720.3 166.5 722.8 166.6 725.3 166.5 727.8 166.7 730.3 167.0 732.7 167.2 735.3 166.9 737.8 167.1 740.2 168.0 742.7 168.3 745.2 168.1 747.6 168.9 749.9 170.0 752.0 171.2 753.9 172.9 755.8 174.5 758.1 175.6 760.6 176.1 763.0 175.9 765.3 175.2 767.4 174.1 769.5 172.8 771.8 171.7 774.2 170.8 776.4 169.6 778.6 168.6 780.9 167.6 783.0 166.2 785.1 164.8 787.4 163.7 789.6 162.6 792.0 161.7 794.3 160.9 796.4 159.5 798.5 158.0 800.5 156.4 802.7 155.3 805.1 154.5 807.3 153.4 809.5 152.2 811.4 150.6 813.0 148.8 814.6 146.9 816.0 144.8 816.8 142.5 817.4 140.0 817.9 137.6 818.2 135.1 818.1 132.6 817.9 130.1 817.5 127.6 816.4 125.3 814.9 123.3 813.4 121.2 812.1 119.2 810.5 117.3 808.8 115.5 807.1 113.7 805.0 112.2 802.8 111.1 800.6 110.0 798.1 109.3 795.8 108.4 793.5 107.4 791.0 106.9 788.5 106.6 786.1 106.1 783.6 105.3 781.1 105.1 778.6 105.2 776.1 105.0 773.7 104.4 771.2 104.1 768.7 104.0 766.2 103.8 763.7 103.3 761.3 102.8 758.8 102.6 756.2 102.7 753.7 102.6 751.3 102.4 748.8 102.2 746.3 102.3 745.6 102.7"/>
<path d="M307.0,532.4L309.3 533.5 311.9 533.4 313.9 531.7 314.7 529.3 314.9 526.7 314.5 524.2 313.8 521.8 313.5 519.3 313.8 516.7 313.9 514.2 313.7 511.7 313.6 509.2 314.0 506.8 315.1 504.6 316.8 503.1 318.9 502.2 321.4 501.5 323.3 500.0 324.8 497.9 325.6 495.5 326.6 493.3 328.8 492.1 331.2 491.7 333.4 491.7 334.6 493.6 334.8 496.1 335.1 498.7 336.6 500.8 338.5 502.4 340.4 503.7 342.8 503.3 344.8 501.7 346.5 499.9 348.4 498.7 349.7 500.5 348.8 502.5 347.3 504.3 345.8 506.4 344.2 508.2 342.6 510.0 341.1 512.0 339.9 514.2 339.0 516.6 338.7 519.1 338.5 521.7 339.2 524.2 341.4 525.5 343.8 526.1 346.3 526.5 348.8 526.2 351.4 526.1 353.6 527.3 354.3 529.7 354.3 532.2 353.2 534.5 351.2 535.9 348.9 536.7 346.4 537.2 343.9 537.0 341.4 536.8 338.9 537.2 336.4 537.2 333.9 536.6 331.4 536.6 328.9 536.5 326.5 535.7 324.4 534.3 322.1 533.2 319.7 532.6 317.2 532.3 314.7 532.0 312.2 532.0 309.8 532.6 307.3 532.9Z"/>
<path d="M506.4,716.6L506.8 714.1 506.8 711.6 506.5 709.0 506.9 706.5 508.2 704.2 510.1 702.4 512.1 700.9 514.1 699.5 516.1 698.0 518.3 696.8 520.5 695.7 522.9 694.8 525.3 694.2 527.8 693.9 530.3 693.6 532.7 692.9 535.0 691.9 537.3 690.9 539.8 690.7 542.3 691.2 544.6 692.0 546.9 693.1 549.4 693.9 550.8 696.2 549.5 698.5 547.7 700.0 545.3 699.4 543.0 698.0 540.4 698.1 538.3 699.6 536.3 701.1 534.4 702.6 532.5 704.3 530.8 706.1 529.0 707.9 527.0 709.4 525.1 711.0 522.9 712.2 520.4 713.0 518.2 714.1 515.9 715.0 513.4 715.5 511.0 716.1 508.6 716.9 506.6 717.7Z"/>
<path d="M525.5,733.3L526.7 731.2 528.4 729.5 530.9 728.7 533.3 729.7 535.1 731.6 536.2 733.8 537.0 736.2 537.3 738.6 536.9 741.0 535.2 742.8 533.0 743.9 530.7 744.6 528.3 744.5 526.4 743.0 525.0 741.0 524.3 738.6 524.5 736.1 525.2 733.7Z"/>
<path d="M224.0,561.8L225.4 559.6 227.7 558.0 230.3 558.0 232.1 560.3 231.9 562.9 230.2 564.7 228.4 565.3 226.4 564.3 224.5 562.7Z"/>
<path d="M744.6,134.6L746.3 132.8 748.6 131.5 751.1 130.5 753.8 131.2 755.3 133.5 755.5 135.8 754.2 137.4 752.4 139.0 750.2 140.1 747.8 139.2 745.8 137.6 744.5 135.4Z"/>
<path d="M722.3,234.1L723.6 232.1 725.2 230.3 727.3 228.8 729.9 228.5 732.3 229.7 734.2 231.3 736.0 233.0 737.6 234.9 738.8 237.0 738.5 239.4 736.7 241.2 734.9 242.7 732.8 244.0 730.3 244.0 728.0 243.3 725.8 242.0 724.3 240.0 723.2 237.7 722.2 235.5Z"/>
<path d="M724.3,272.0L725.2 270.0 727.1 268.6 729.1 267.6 731.4 267.6 733.6 268.2 735.7 269.6 736.6 272.0 736.7 274.4 736.1 276.5 734.5 278.1 732.2 279.3 729.7 278.7 727.7 277.1 726.0 275.3 724.7 273.2Z"/>
<path d="M743.5,270.7L745.1 268.6 747.7 267.5 750.0 269.1 751.3 271.5 750.6 274.0 748.5 275.2 746.6 275.1 745.1 273.5 743.8 271.3Z"/>
<path d="M315.5,625.8L317.1 623.6 319.3 622.2 322.0 621.5 324.3 623.0 325.4 625.4 325.5 627.8 324.4 629.6 322.9 631.5 320.9 633.0 318.6 632.2 317.0 630.2 315.8 627.9Z"/>
<path d="M329.5,631.9L330.6 629.4 332.8 627.8 335.5 628.2 337.5 630.0 338.6 632.4 338.2 634.6 336.5 636.0 334.6 637.4 332.3 637.7 330.8 635.7 329.8 633.3Z"/>
<path d="M345.0,630.0L346.4 627.9 347.9 626.0 349.4 624.7 351.2 625.4 353.1 626.9 355.0 628.6 355.9 631.0 355.2 633.3 354.1 635.3 352.8 637.4 351.2 639.4 348.9 640.5 346.5 639.2 345.0 637.2 344.3 634.8 344.1 632.2Z"/>
</g>
<path d="M110.0,497.0L115.4 496.1 123.0 494.9 131.9 493.5 141.5 492.0 151.1 490.4 160.0 489.0 168.3 487.7 176.7 486.3 185.0 484.9 193.3 483.6 201.7 482.3 210.0 481.0 218.3 479.8 226.7 478.5 235.0 477.3 243.3 476.1 251.7 475.0 260.0 474.0 268.3 473.0 276.7 472.1 285.0 471.2 293.3 470.4 301.7 469.7 310.0 469.0 318.2 468.4 326.3 467.8 334.4 467.2 342.6 466.8 351.1 466.4 360.0 466.0 369.5 465.7 379.6 465.5 390.0 465.3 400.4 465.2 410.5 465.1 420.0 465.0 428.7 464.9 436.7 464.9 444.4 464.9 452.2 465.0 460.6 465.0 470.0 465.0 481.3 465.0 494.4 465.0 508.1 465.0 521.1 465.0 532.2 465.0 540.0 465.0" fill="none" stroke="#0000ff" stroke-width="2.6" stroke-dasharray="2.6 4.6"/>
<path d="M511.7 463L534 431.5L539 431.5L550 470M511.7 463L566 421L541 383L608 470L622 438L613 409L593 425L665 452L635 436L640 458.5L685 465L689 445L705 443L741 463L759 467.5L775 476.5L802 479L813 497L833 508M520 463L566 421M566 421L610 470" fill="none" stroke="#008000" stroke-width="3.2" stroke-linejoin="round"/>
<path d="M540.8 465.3L627.4 473.3L721 473L790 472.5L838 482" fill="none" stroke="#0000ff" stroke-width="2.4"/>
<circle cx="540.8" cy="465.3" r="3.8" fill="#0000ff"/>
<circle cx="627.4" cy="473.3" r="3.8" fill="#0000ff"/>
<circle cx="721" cy="473" r="3.8" fill="#0000ff"/>
<circle cx="790" cy="472.5" r="3.8" fill="#0000ff"/>
<path d="M470 465L513 463.6L523 464.1L533 473L768 473L768 502L838 502" fill="none" stroke="#ff0000" stroke-width="3.2" stroke-linejoin="miter"/>
<path d="M537.5 379.5l7 7m0 -7l-7 7M587.3 422.9l7 7m0 -7l-7 7M608.0 404.0l7 7m0 -7l-7 7M618.3 424.5l7 7m0 -7l-7 7M625.2 428.0l7 7m0 -7l-7 7M630.4 431.5l7 7m0 -7l-7 7M630.4 447.0l7 7m0 -7l-7 7M639.0 452.1l7 7m0 -7l-7 7M651.0 452.1l7 7m0 -7l-7 7M661.4 457.3l7 7m0 -7l-7 7M668.3 459.0l7 7m0 -7l-7 7M675.2 460.7l7 7m0 -7l-7 7M685.5 460.7l7 7m0 -7l-7 7M549.5 470.5l7 7m0 -7l-7 7M557.7 470.5l7 7m0 -7l-7 7M565.9 470.5l7 7m0 -7l-7 7M574.1 470.5l7 7m0 -7l-7 7M582.3 470.5l7 7m0 -7l-7 7M590.5 470.5l7 7m0 -7l-7 7M598.7 470.5l7 7m0 -7l-7 7M606.9 470.5l7 7m0 -7l-7 7" stroke="#17bec4" stroke-width="2.6" fill="none"/>
<path d="M541 421l9 9m0 -9l-9 9" stroke="#ff0000" stroke-width="3" fill="none"/>
<path d="M132.0 103V827M278.0 103V827M424.0 103V827M570.0 103V827M716.0 103V827M110 224.6H835M110 370.3H835M110 516.0H835M110 661.7H835M110 807.4H835" stroke="#fff" stroke-width="2.2" stroke-dasharray="2.2 3.2" fill="none"/>
<rect x="502.2" y="108.8" width="327" height="141.5" rx="4" fill="#ffffff" fill-opacity="0.8" stroke="#cccccc" stroke-opacity="0.8" stroke-width="1.6"/>
<path d="M518.5 117.5l10 10m0 -10l-10 10" stroke="#17bec4" stroke-width="3" fill="none"/>
<path d="M507 145.4H541" stroke="#008000" stroke-width="3.3"/>
<path d="M508.1 167.4H541" stroke="#0000ff" stroke-width="2.8" stroke-dasharray="2.8 4.7"/>
<path d="M507 190H541" stroke="#0000ff" stroke-width="2.6"/><circle cx="523.5" cy="190" r="4" fill="#0000ff"/>
<path d="M518.5 208.5l10 10m0 -10l-10 10" stroke="#ff0000" stroke-width="3.4" fill="none"/>
<path d="M507 236.3H541" stroke="#ff0000" stroke-width="3.3"/>
<text x="551" y="127.9" font-size="15.9" fill="#000">SATCON Locations [1730Z 67 975]</text>
<text x="551" y="150.6" font-size="15.9" fill="#000">ADT Tracks [2230Z 72.2 981.0]</text>
<text x="551" y="173.3" font-size="15.9" fill="#000">JTWC/NHC Forecast [20/1800Z]</text>
<text x="551" y="196.1" font-size="15.9" fill="#000">JTWC/NHC Tracks [20/1800Z]</text>
<text x="551" y="218.8" font-size="15.9" fill="#000">MESOSCALE/TARGET Location</text>
<text x="551" y="241.5" font-size="15.9" fill="#000">Floater Locater</text>
<rect x="106.5" y="802" width="313.5" height="28.7" rx="3" fill="#000"/>
<text x="110.3" y="822.1" font-size="17.45" font-weight="bold" fill="#fff">Copyright © 2020-2026 Dapiya</text>
<text x="100.5" y="229.2" font-size="13.7" text-anchor="end" fill="#000" >10°S</text>
<text x="100.5" y="374.9" font-size="13.7" text-anchor="end" fill="#000" >12°S</text>
<text x="100.5" y="520.6" font-size="13.7" text-anchor="end" fill="#000" >14°S</text>
<text x="100.5" y="666.3" font-size="13.7" text-anchor="end" fill="#000" >16°S</text>
<text x="100.5" y="812.0" font-size="13.7" text-anchor="end" fill="#000" >18°S</text>
<text x="132.0" y="851.0" font-size="13.7" text-anchor="middle" fill="#000" >134°E</text>
<text x="278.0" y="851.0" font-size="13.7" text-anchor="middle" fill="#000" >136°E</text>
<text x="424.0" y="851.0" font-size="13.7" text-anchor="middle" fill="#000" >138°E</text>
<text x="570.0" y="851.0" font-size="13.7" text-anchor="middle" fill="#000" >140°E</text>
<text x="716.0" y="851.0" font-size="13.7" text-anchor="middle" fill="#000" >142°E</text>
<defs><linearGradient id="gcb" x1="0" y1="0" x2="0" y2="1"><stop offset="0" stop-color="#000"/><stop offset="1" stop-color="#fff"/></linearGradient></defs>
<rect x="843.5" y="101.3" width="15" height="728" fill="url(#gcb)" stroke="#000" stroke-width="1.2"/>
<text x="852.0" y="93.7" font-size="17.4" text-anchor="start" fill="#000" >°C</text>
<text x="866.0" y="161.7" font-size="17.4" text-anchor="start" fill="#000" >40</text>
<text x="866.0" y="215.7" font-size="17.4" text-anchor="start" fill="#000" >30</text>
<text x="866.0" y="269.7" font-size="17.4" text-anchor="start" fill="#000" >20</text>
<text x="866.0" y="323.7" font-size="17.4" text-anchor="start" fill="#000" >10</text>
<text x="866.0" y="377.7" font-size="17.4" text-anchor="start" fill="#000" >0</text>
<text x="864.5" y="431.7" font-size="17.4" text-anchor="start" fill="#000" >−10</text>
<text x="864.5" y="485.7" font-size="17.4" text-anchor="start" fill="#000" >−20</text>
<text x="864.5" y="539.7" font-size="17.4" text-anchor="start" fill="#000" >−30</text>
<text x="864.5" y="593.7" font-size="17.4" text-anchor="start" fill="#000" >−40</text>
<text x="864.5" y="647.7" font-size="17.4" text-anchor="start" fill="#000" >−50</text>
<text x="864.5" y="701.7" font-size="17.4" text-anchor="start" fill="#000" >−60</text>
<text x="864.5" y="755.7" font-size="17.4" text-anchor="start" fill="#000" >−70</text>
<text x="864.5" y="809.7" font-size="17.4" text-anchor="start" fill="#000" >−80</text>
<defs><clipPath id="trclip"><path d="M1090.0,103.0L1710.0 103.0 1710.0 773.5 1072.0 773.5 1073.0 736.0 1074.0 709.0 1075.5 680.0 1077.0 600.0 1080.0 500.0 1083.0 400.0 1086.0 300.0 1088.0 200.0 1089.5 140.0Z"/></clipPath>
<filter id="tb4" x="-20%" y="-20%" width="140%" height="140%"><feGaussianBlur stdDeviation="4"/></filter>
<filter id="tb8" x="-30%" y="-30%" width="160%" height="160%"><feGaussianBlur stdDeviation="8"/></filter>
<filter id="tb14" x="-30%" y="-30%" width="160%" height="160%"><feGaussianBlur stdDeviation="14"/></filter>
</defs>
<g clip-path="url(#trclip)">
<rect x="1060" y="100" width="660" height="680" fill="#82f484"/>
<g filter="url(#tb14)">
<path d="M1060 610 L1156 652 L1223 662 L1290 688 L1340 712 L1400 742 L1440 780 L1060 780Z" fill="#78f2ec"/>
<path d="M1060 715 L1160 725 L1200 738 L1250 712 L1300 738 L1320 780 L1060 780Z" fill="#5ccaf8"/>
<ellipse cx="1100" cy="765" rx="50" ry="25" fill="#4ab6f4"/>
<path d="M1240 628 L1290 645 L1330 668 L1360 690 L1330 700 L1290 680 L1250 660Z" fill="#f6d868"/>
<path d="M1540 103 L1720 103 L1720 420 L1640 400 L1600 330 L1560 250 L1540 180Z" fill="#80f4c4"/>
<path d="M1420 103 L1590 103 L1595 200 L1600 300 L1590 380 L1560 350 L1520 300 L1480 260 L1440 240Z" fill="#d2d676"/>
<path d="M1230 625 L1300 645 L1360 662 L1430 672 L1520 665 L1600 660 L1700 665 L1710 705 L1600 720 L1520 740 L1450 765 L1400 745 L1330 705 L1260 680Z" fill="#e6e070"/>
<ellipse cx="1355" cy="678" rx="30" ry="16" fill="#ffb040"/>
<path d="M1085 330 L1180 330 L1240 340 L1290 360 L1300 420 L1290 480 L1250 520 L1200 470 L1150 420 L1085 410Z" fill="#f8d060"/>
</g>
<g filter="url(#tb8)">
<path d="M1255.3,262.0L1259.8 257.3 1265.6 252.4 1272.3 247.4 1279.5 242.7 1287.0 238.3 1294.4 234.4 1302.0 231.2 1310.0 228.3 1318.3 225.8 1326.7 223.7 1334.8 221.8 1342.6 220.1 1349.7 218.6 1356.1 217.4 1362.3 216.5 1368.8 215.8 1376.1 215.4 1384.7 215.2 1395.3 215.3 1407.9 215.6 1421.1 216.2 1434.1 216.9 1445.6 217.9 1454.6 218.9 1460.5 220.0 1464.0 221.2 1466.0 222.5 1467.6 224.1 1469.6 225.9 1473.0 227.9 1477.8 230.2 1483.3 232.6 1489.2 235.2 1495.3 238.3 1501.5 241.8 1507.5 246.0 1513.6 251.1 1519.9 257.1 1526.3 263.6 1532.5 270.3 1538.2 276.7 1543.1 282.6 1547.2 287.6 1550.6 292.1 1553.5 296.4 1556.1 300.7 1558.7 305.6 1561.5 311.2 1564.4 318.0 1567.3 325.6 1570.1 333.6 1572.9 341.7 1575.5 349.6 1577.9 356.7 1580.1 363.1 1582.2 369.1 1584.2 374.8 1586.0 380.3 1587.6 385.8 1589.0 391.5 1590.3 397.3 1591.5 403.1 1592.5 409.0 1593.3 414.8 1593.8 420.5 1593.9 426.2 1593.7 431.8 1593.2 437.3 1592.4 442.8 1591.2 448.2 1589.8 453.6 1588.1 458.9 1586.0 464.3 1583.5 469.7 1580.8 475.1 1577.8 480.4 1574.5 485.6 1571.2 490.7 1567.7 495.8 1564.1 500.7 1560.3 505.5 1556.3 510.3 1551.9 515.1 1547.1 519.9 1541.8 524.8 1536.0 529.9 1529.9 534.9 1523.6 539.9 1517.3 544.6 1511.1 548.9 1505.1 552.9 1499.0 556.5 1492.8 560.0 1486.7 563.2 1480.7 566.4 1474.6 569.6 1468.8 572.9 1463.2 576.3 1457.6 579.6 1451.9 582.7 1445.9 585.3 1439.6 587.4 1432.7 588.7 1425.3 589.5 1417.6 589.9 1410.0 590.0 1402.6 590.0 1395.9 589.9 1389.9 589.8 1384.5 589.9 1379.4 589.7 1374.3 589.2 1369.2 588.2 1363.7 586.5 1357.8 583.9 1351.7 580.7 1345.5 577.0 1339.2 573.0 1333.1 568.7 1327.1 564.4 1321.2 560.0 1315.4 555.4 1309.7 550.6 1304.1 545.6 1298.8 540.5 1293.8 535.3 1289.1 529.9 1284.7 524.3 1280.6 518.5 1276.7 512.7 1273.0 506.8 1269.5 500.9 1266.2 495.3 1263.1 489.8 1260.2 484.3 1257.5 478.5 1255.0 472.2 1252.6 464.9 1250.5 456.5 1248.4 446.9 1246.6 436.7 1245.0 426.5 1243.6 416.9 1242.3 408.3 1241.4 400.9 1240.6 394.4 1240.0 388.4 1239.6 382.6 1239.4 376.7 1239.4 370.4 1239.5 363.7 1239.8 356.8 1240.3 349.9 1241.0 343.0 1241.7 336.0 1242.5 329.2 1243.3 322.3 1244.3 315.3 1245.4 308.4 1246.6 301.6 1247.7 295.2 1248.8 289.3 1249.5 284.0 1249.8 279.3 1250.0 274.9 1250.7 270.7 1252.3 266.4Z" fill="#ffe27a"/>
<path d="M1270.7,274.8L1274.8 270.5 1280.0 266.2 1286.1 261.8 1292.7 257.6 1299.6 253.8 1306.3 250.5 1313.2 247.7 1320.5 245.3 1328.0 243.3 1335.6 241.6 1343.0 240.0 1350.0 238.7 1356.3 237.5 1362.1 236.6 1367.6 235.9 1373.4 235.4 1379.9 235.1 1387.6 235.0 1397.0 235.1 1408.1 235.4 1419.9 235.9 1431.4 236.5 1441.6 237.3 1449.6 238.2 1454.8 239.2 1457.9 240.4 1459.7 241.6 1461.0 243.0 1462.8 244.7 1465.8 246.6 1470.0 248.6 1474.9 250.7 1480.1 253.0 1485.5 255.7 1491.0 258.8 1496.3 262.5 1501.6 267.1 1507.2 272.4 1512.8 278.3 1518.2 284.2 1523.2 289.9 1527.6 295.1 1531.2 299.6 1534.1 303.6 1536.7 307.3 1539.0 311.2 1541.3 315.5 1543.7 320.5 1546.3 326.4 1548.8 333.1 1551.3 340.2 1553.8 347.4 1556.1 354.3 1558.3 360.6 1560.3 366.3 1562.3 371.5 1564.2 376.5 1566.0 381.4 1567.6 386.3 1569.0 391.3 1570.3 396.5 1571.5 401.7 1572.6 406.9 1573.5 412.1 1574.1 417.3 1574.3 422.3 1574.2 427.3 1573.8 432.3 1573.1 437.2 1572.2 442.1 1571.0 446.9 1569.4 451.7 1567.6 456.5 1565.4 461.4 1562.9 466.1 1560.2 470.9 1557.3 475.6 1554.2 480.1 1551.1 484.6 1547.9 489.0 1544.5 493.3 1540.8 497.6 1536.9 501.8 1532.6 506.1 1527.8 510.5 1522.7 515.0 1517.2 519.6 1511.5 524.0 1505.9 528.2 1500.4 532.1 1495.0 535.6 1489.5 538.9 1484.1 542.0 1478.6 544.9 1473.2 547.8 1467.9 550.8 1462.7 553.8 1457.7 557.0 1452.7 560.2 1447.6 563.1 1442.3 565.6 1436.6 567.6 1430.4 568.9 1423.8 569.6 1416.8 570.0 1410.0 570.1 1403.4 570.0 1397.3 569.9 1391.9 569.9 1387.0 570.0 1382.4 569.9 1377.8 569.5 1373.2 568.6 1368.3 567.0 1363.0 564.6 1357.6 561.6 1352.0 558.1 1346.4 554.3 1341.0 550.3 1335.7 546.3 1330.5 542.3 1325.3 538.0 1320.3 533.6 1315.3 529.1 1310.6 524.4 1306.3 519.7 1302.2 514.8 1298.4 509.7 1294.8 504.5 1291.4 499.2 1288.2 493.8 1285.2 488.5 1282.3 483.4 1279.6 478.6 1277.1 473.6 1274.8 468.4 1272.7 462.8 1270.7 456.3 1268.9 448.8 1267.2 440.3 1265.7 431.3 1264.4 422.3 1263.2 413.7 1262.2 406.1 1261.4 399.6 1260.6 393.8 1260.1 388.5 1259.7 383.4 1259.4 378.2 1259.2 372.7 1259.3 366.7 1259.5 360.7 1259.8 354.5 1260.2 348.3 1260.7 342.2 1261.3 336.0 1261.9 329.9 1262.6 323.5 1263.3 317.2 1264.2 311.1 1265.0 305.2 1265.8 299.9 1266.2 295.0 1266.3 290.6 1266.3 286.6 1266.8 282.7 1268.1 278.8Z" fill="#ffa43a"/>
<path d="M1286.1,287.5L1289.7 283.8 1294.5 280.0 1300.0 276.2 1306.0 272.6 1312.2 269.3 1318.3 266.6 1324.4 264.2 1331.0 262.3 1337.8 260.8 1344.5 259.4 1351.1 258.3 1357.4 257.3 1363.0 256.4 1368.1 255.7 1373.0 255.3 1378.1 255.0 1383.8 254.8 1390.4 254.8 1398.7 254.9 1408.4 255.1 1418.7 255.6 1428.7 256.1 1437.6 256.8 1444.5 257.6 1449.1 258.5 1451.7 259.5 1453.3 260.7 1454.4 262.0 1455.9 263.5 1458.5 265.2 1462.2 267.0 1466.4 268.8 1471.0 270.8 1475.7 273.1 1480.5 275.9 1485.1 279.1 1489.7 283.1 1494.5 287.8 1499.3 292.9 1504.0 298.1 1508.3 303.1 1512.0 307.7 1515.1 311.6 1517.7 315.0 1519.9 318.3 1521.9 321.7 1523.9 325.4 1526.0 329.7 1528.2 334.8 1530.4 340.7 1532.5 346.8 1534.6 353.0 1536.7 359.0 1538.7 364.5 1540.6 369.4 1542.5 374.0 1544.3 378.3 1546.0 382.5 1547.6 386.8 1549.0 391.1 1550.3 395.7 1551.6 400.3 1552.7 404.9 1553.7 409.4 1554.3 414.0 1554.7 418.5 1554.7 422.9 1554.4 427.3 1553.9 431.6 1553.1 435.9 1552.1 440.2 1550.8 444.5 1549.2 448.8 1547.2 453.0 1545.0 457.2 1542.5 461.4 1540.0 465.5 1537.3 469.5 1534.5 473.5 1531.6 477.3 1528.6 481.1 1525.4 484.9 1521.9 488.6 1518.1 492.4 1513.9 496.3 1509.3 500.2 1504.5 504.2 1499.5 508.0 1494.5 511.7 1489.7 515.2 1484.9 518.3 1480.1 521.3 1475.3 524.0 1470.5 526.6 1465.8 529.3 1461.1 531.9 1456.5 534.8 1452.1 537.8 1447.8 540.8 1443.3 543.6 1438.7 546.0 1433.7 547.8 1428.2 549.0 1422.2 549.7 1416.1 550.0 1410.0 550.1 1404.1 550.0 1398.7 550.0 1393.9 550.0 1389.5 550.1 1385.4 550.1 1381.4 549.7 1377.2 549.0 1372.9 547.5 1368.2 545.3 1363.4 542.5 1358.5 539.2 1353.7 535.7 1348.9 531.9 1344.3 528.3 1339.8 524.6 1335.3 520.7 1330.8 516.7 1326.6 512.6 1322.5 508.4 1318.8 504.1 1315.3 499.6 1312.0 495.0 1309.0 490.4 1306.1 485.6 1303.4 480.9 1300.9 476.2 1298.5 471.6 1296.2 467.3 1294.1 462.9 1292.2 458.4 1290.4 453.4 1288.7 447.7 1287.3 441.2 1286.0 433.7 1284.9 425.9 1283.8 418.0 1282.9 410.6 1282.1 404.0 1281.4 398.3 1280.7 393.3 1280.1 388.7 1279.7 384.3 1279.3 379.8 1279.1 374.9 1279.0 369.8 1279.1 364.5 1279.2 359.1 1279.5 353.7 1279.8 348.3 1280.1 342.9 1280.4 337.4 1280.8 331.7 1281.3 326.1 1281.7 320.6 1282.2 315.3 1282.7 310.5 1282.9 306.1 1282.7 302.0 1282.6 298.3 1282.8 294.7 1283.9 291.1Z" fill="#c44800"/>
<path d="M1085 100 L1330 100 L1370 150 L1420 195 L1440 225 L1400 240 L1340 250 L1300 270 L1270 330 L1220 345 L1160 335 L1085 340Z" fill="#e07818"/>
<path d="M1085 150 L1200 148 L1280 170 L1310 210 L1290 240 L1200 250 L1140 240 L1085 250Z" fill="#a83000"/>
<path d="M1085 250 L1140 245 L1200 255 L1250 250 L1290 265 L1300 300 L1280 330 L1230 340 L1180 330 L1130 335 L1085 335Z" fill="#c05410"/>
<path d="M1215 235 L1270 225 L1310 240 L1310 300 L1290 335 L1250 335 L1222 300Z" fill="#961800"/>
<path d="M1300 215 L1360 212 L1420 222 L1460 245 L1440 270 L1380 266 L1320 275 L1300 260Z" fill="#c04a08"/>
<path d="M1250 100 L1300 100 L1350 145 L1400 190 L1425 225 L1400 228 L1350 190 L1300 145Z" fill="#f8c860"/>
<path d="M1090 100 L1180 100 L1200 125 L1150 135 L1090 130Z" fill="#f0a040"/>
<path d="M1290 100 L1450 100 L1470 160 L1462 230 L1450 268 L1400 266 L1330 272 L1300 285 L1300 200Z" fill="#ec8a28"/>
<path d="M1300 132 L1330 140 L1380 168 L1430 200 L1445 222 L1430 228 L1380 200 L1330 172 L1300 158Z" fill="#fad46c"/>
<path d="M1520 330 L1560 360 L1590 420 L1600 480 L1590 530 L1560 545 L1535 520 L1530 460 L1525 400Z" fill="#f8a038"/>
<path d="M1170 380 L1210 372 L1245 385 L1250 420 L1235 455 L1215 470 L1190 460 L1175 430Z" fill="#ffa040"/>
<path d="M1185 470 L1215 465 L1232 510 L1238 560 L1232 600 L1215 610 L1200 580 L1190 530Z" fill="#f8a838"/>
</g>
<filter id="tb2" x="-50%" y="-50%" width="200%" height="200%"><feGaussianBlur stdDeviation="1.6"/></filter>
<g filter="url(#tb2)" opacity="0.85">
<ellipse cx="1492" cy="145" rx="10" ry="2.8" transform="rotate(62 1492 145)" fill="#90f090"/>
<ellipse cx="1499" cy="119" rx="9" ry="2.6" transform="rotate(62 1499 119)" fill="#fce070"/>
<ellipse cx="1451" cy="128" rx="18" ry="2.2" transform="rotate(62 1451 128)" fill="#fce070"/>
<ellipse cx="1486" cy="143" rx="12" ry="3.1" transform="rotate(62 1486 143)" fill="#f08a30"/>
<ellipse cx="1542" cy="206" rx="10" ry="2.1" transform="rotate(62 1542 206)" fill="#fce070"/>
<ellipse cx="1508" cy="190" rx="14" ry="2.4" transform="rotate(62 1508 190)" fill="#fce070"/>
<ellipse cx="1567" cy="297" rx="15" ry="2.7" transform="rotate(62 1567 297)" fill="#f08a30"/>
<ellipse cx="1459" cy="219" rx="11" ry="2.7" transform="rotate(62 1459 219)" fill="#90f090"/>
<ellipse cx="1562" cy="262" rx="12" ry="3.0" transform="rotate(62 1562 262)" fill="#90f090"/>
<ellipse cx="1535" cy="264" rx="18" ry="3.3" transform="rotate(62 1535 264)" fill="#fce070"/>
<ellipse cx="1572" cy="182" rx="16" ry="2.0" transform="rotate(62 1572 182)" fill="#fce070"/>
<ellipse cx="1514" cy="150" rx="10" ry="3.1" transform="rotate(62 1514 150)" fill="#f08a30"/>
<ellipse cx="1461" cy="172" rx="19" ry="2.1" transform="rotate(62 1461 172)" fill="#fce070"/>
<ellipse cx="1512" cy="255" rx="18" ry="3.2" transform="rotate(62 1512 255)" fill="#90f090"/>
<ellipse cx="1485" cy="218" rx="19" ry="3.3" transform="rotate(62 1485 218)" fill="#f08a30"/>
<ellipse cx="1464" cy="152" rx="12" ry="2.7" transform="rotate(62 1464 152)" fill="#f08a30"/>
<ellipse cx="1534" cy="176" rx="14" ry="2.5" transform="rotate(62 1534 176)" fill="#f08a30"/>
<ellipse cx="1550" cy="246" rx="16" ry="2.1" transform="rotate(62 1550 246)" fill="#fce070"/>
<ellipse cx="1503" cy="214" rx="16" ry="2.1" transform="rotate(62 1503 214)" fill="#f08a30"/>
<ellipse cx="1451" cy="161" rx="13" ry="2.1" transform="rotate(62 1451 161)" fill="#f08a30"/>
<ellipse cx="1440" cy="145" rx="13" ry="2.0" transform="rotate(62 1440 145)" fill="#f08a30"/>
<ellipse cx="1464" cy="173" rx="13" ry="2.2" transform="rotate(62 1464 173)" fill="#f08a30"/>
<ellipse cx="1515" cy="237" rx="10" ry="2.5" transform="rotate(62 1515 237)" fill="#f08a30"/>
<ellipse cx="1466" cy="109" rx="15" ry="2.2" transform="rotate(62 1466 109)" fill="#e07020"/>
<ellipse cx="1527" cy="110" rx="20" ry="3.2" transform="rotate(62 1527 110)" fill="#fce070"/>
<ellipse cx="1551" cy="175" rx="11" ry="3.1" transform="rotate(62 1551 175)" fill="#fce070"/>
<ellipse cx="1493" cy="165" rx="20" ry="3.2" transform="rotate(62 1493 165)" fill="#90f090"/>
<ellipse cx="1558" cy="166" rx="13" ry="2.0" transform="rotate(62 1558 166)" fill="#fce070"/>
<ellipse cx="1444" cy="180" rx="17" ry="3.3" transform="rotate(62 1444 180)" fill="#f08a30"/>
<ellipse cx="1498" cy="164" rx="11" ry="2.3" transform="rotate(62 1498 164)" fill="#f08a30"/>
<ellipse cx="1574" cy="236" rx="18" ry="2.1" transform="rotate(62 1574 236)" fill="#90f090"/>
<ellipse cx="1565" cy="311" rx="11" ry="3.1" transform="rotate(62 1565 311)" fill="#fce070"/>
<ellipse cx="1556" cy="150" rx="11" ry="3.3" transform="rotate(62 1556 150)" fill="#f08a30"/>
<ellipse cx="1569" cy="143" rx="20" ry="2.9" transform="rotate(62 1569 143)" fill="#90f090"/>
<ellipse cx="1496" cy="255" rx="9" ry="3.4" transform="rotate(62 1496 255)" fill="#f08a30"/>
<ellipse cx="1544" cy="249" rx="14" ry="3.2" transform="rotate(62 1544 249)" fill="#e07020"/>
<ellipse cx="1572" cy="161" rx="12" ry="2.3" transform="rotate(62 1572 161)" fill="#f08a30"/>
<ellipse cx="1534" cy="175" rx="10" ry="3.3" transform="rotate(62 1534 175)" fill="#fce070"/>
<ellipse cx="1497" cy="230" rx="19" ry="2.6" transform="rotate(62 1497 230)" fill="#fce070"/>
<ellipse cx="1525" cy="248" rx="14" ry="2.3" transform="rotate(62 1525 248)" fill="#f08a30"/>
<ellipse cx="1468" cy="234" rx="15" ry="2.5" transform="rotate(62 1468 234)" fill="#90f090"/>
<ellipse cx="1523" cy="257" rx="10" ry="2.8" transform="rotate(62 1523 257)" fill="#90f090"/>
<ellipse cx="1480" cy="180" rx="15" ry="2.8" transform="rotate(62 1480 180)" fill="#90f090"/>
<ellipse cx="1511" cy="273" rx="15" ry="3.0" transform="rotate(62 1511 273)" fill="#fce070"/>
<ellipse cx="1512" cy="251" rx="19" ry="3.0" transform="rotate(62 1512 251)" fill="#fce070"/>
<ellipse cx="1462" cy="137" rx="10" ry="2.3" transform="rotate(62 1462 137)" fill="#fce070"/>
<ellipse cx="1546" cy="143" rx="20" ry="2.3" transform="rotate(62 1546 143)" fill="#90f090"/>
<ellipse cx="1573" cy="148" rx="15" ry="2.5" transform="rotate(62 1573 148)" fill="#fce070"/>
<ellipse cx="1471" cy="191" rx="9" ry="2.8" transform="rotate(62 1471 191)" fill="#90f090"/>
<ellipse cx="1510" cy="108" rx="16" ry="2.7" transform="rotate(62 1510 108)" fill="#f08a30"/>
<ellipse cx="1457" cy="177" rx="18" ry="2.4" transform="rotate(62 1457 177)" fill="#f08a30"/>
<ellipse cx="1461" cy="220" rx="18" ry="2.4" transform="rotate(62 1461 220)" fill="#e07020"/>
<ellipse cx="1454" cy="119" rx="14" ry="2.1" transform="rotate(62 1454 119)" fill="#90f090"/>
<ellipse cx="1568" cy="126" rx="10" ry="3.2" transform="rotate(62 1568 126)" fill="#90f090"/>
<ellipse cx="1513" cy="197" rx="19" ry="2.4" transform="rotate(62 1513 197)" fill="#fce070"/>
<ellipse cx="1478" cy="133" rx="10" ry="2.3" transform="rotate(62 1478 133)" fill="#f08a30"/>
<ellipse cx="1490" cy="187" rx="12" ry="2.7" transform="rotate(62 1490 187)" fill="#90f090"/>
<ellipse cx="1468" cy="199" rx="12" ry="2.0" transform="rotate(62 1468 199)" fill="#f08a30"/>
<ellipse cx="1557" cy="256" rx="14" ry="3.3" transform="rotate(62 1557 256)" fill="#f08a30"/>
<ellipse cx="1509" cy="240" rx="13" ry="2.7" transform="rotate(62 1509 240)" fill="#90f090"/>
<ellipse cx="1553" cy="279" rx="13" ry="2.1" transform="rotate(62 1553 279)" fill="#fce070"/>
<ellipse cx="1461" cy="123" rx="12" ry="2.2" transform="rotate(62 1461 123)" fill="#90f090"/>
<ellipse cx="1485" cy="170" rx="14" ry="2.2" transform="rotate(62 1485 170)" fill="#f08a30"/>
<ellipse cx="1511" cy="176" rx="20" ry="2.8" transform="rotate(62 1511 176)" fill="#e07020"/>
<ellipse cx="1490" cy="202" rx="13" ry="2.7" transform="rotate(62 1490 202)" fill="#f08a30"/>
<ellipse cx="1520" cy="159" rx="9" ry="2.4" transform="rotate(62 1520 159)" fill="#fce070"/>
<ellipse cx="1454" cy="214" rx="9" ry="2.4" transform="rotate(62 1454 214)" fill="#f08a30"/>
<ellipse cx="1545" cy="301" rx="13" ry="2.5" transform="rotate(62 1545 301)" fill="#90f090"/>
<ellipse cx="1556" cy="281" rx="18" ry="3.2" transform="rotate(62 1556 281)" fill="#f08a30"/>
<ellipse cx="1570" cy="142" rx="15" ry="3.2" transform="rotate(62 1570 142)" fill="#fce070"/>
<ellipse cx="1549" cy="295" rx="9" ry="2.2" transform="rotate(62 1549 295)" fill="#f08a30"/>
<ellipse cx="1498" cy="132" rx="15" ry="2.9" transform="rotate(62 1498 132)" fill="#90f090"/>
<ellipse cx="1540" cy="292" rx="9" ry="3.1" transform="rotate(62 1540 292)" fill="#fce070"/>
<ellipse cx="1560" cy="242" rx="16" ry="2.1" transform="rotate(62 1560 242)" fill="#fce070"/>
<ellipse cx="1558" cy="173" rx="12" ry="3.0" transform="rotate(62 1558 173)" fill="#f08a30"/>
<ellipse cx="1501" cy="236" rx="17" ry="2.9" transform="rotate(62 1501 236)" fill="#90f090"/>
<ellipse cx="1543" cy="124" rx="12" ry="3.0" transform="rotate(62 1543 124)" fill="#f08a30"/>
<ellipse cx="1442" cy="120" rx="16" ry="3.0" transform="rotate(62 1442 120)" fill="#f08a30"/>
<ellipse cx="1548" cy="184" rx="14" ry="2.7" transform="rotate(62 1548 184)" fill="#fce070"/>
<ellipse cx="1483" cy="161" rx="11" ry="2.8" transform="rotate(62 1483 161)" fill="#e07020"/>
<ellipse cx="1463" cy="248" rx="10" ry="3.1" transform="rotate(62 1463 248)" fill="#e07020"/>
<ellipse cx="1553" cy="167" rx="14" ry="2.0" transform="rotate(62 1553 167)" fill="#90f090"/>
<ellipse cx="1441" cy="239" rx="12" ry="2.2" transform="rotate(62 1441 239)" fill="#fce070"/>
<ellipse cx="1495" cy="191" rx="9" ry="3.1" transform="rotate(62 1495 191)" fill="#90f090"/>
<ellipse cx="1574" cy="136" rx="17" ry="3.3" transform="rotate(62 1574 136)" fill="#e07020"/>
<ellipse cx="1486" cy="206" rx="20" ry="2.8" transform="rotate(62 1486 206)" fill="#fce070"/>
<ellipse cx="1498" cy="222" rx="10" ry="2.1" transform="rotate(62 1498 222)" fill="#f08a30"/>
<ellipse cx="1574" cy="182" rx="12" ry="2.4" transform="rotate(62 1574 182)" fill="#e07020"/>
<ellipse cx="1522" cy="156" rx="20" ry="3.2" transform="rotate(62 1522 156)" fill="#fce070"/>
<ellipse cx="1570" cy="278" rx="19" ry="2.8" transform="rotate(62 1570 278)" fill="#e07020"/>
<ellipse cx="1555" cy="117" rx="14" ry="3.1" transform="rotate(62 1555 117)" fill="#90f090"/>
<ellipse cx="1543" cy="182" rx="19" ry="2.2" transform="rotate(62 1543 182)" fill="#f08a30"/>
<ellipse cx="1516" cy="198" rx="17" ry="3.4" transform="rotate(62 1516 198)" fill="#f08a30"/>
<ellipse cx="1488" cy="257" rx="11" ry="2.2" transform="rotate(62 1488 257)" fill="#fce070"/>
<ellipse cx="1520" cy="164" rx="20" ry="2.6" transform="rotate(62 1520 164)" fill="#90f090"/>
<ellipse cx="1462" cy="156" rx="13" ry="2.1" transform="rotate(62 1462 156)" fill="#f08a30"/>
<ellipse cx="1478" cy="175" rx="19" ry="3.0" transform="rotate(62 1478 175)" fill="#fce070"/>
<ellipse cx="1506" cy="218" rx="13" ry="2.5" transform="rotate(62 1506 218)" fill="#fce070"/>
<ellipse cx="1450" cy="180" rx="10" ry="2.7" transform="rotate(62 1450 180)" fill="#e07020"/>
<ellipse cx="1475" cy="178" rx="13" ry="2.6" transform="rotate(62 1475 178)" fill="#f08a30"/>
<ellipse cx="1580" cy="109" rx="17" ry="3.3" transform="rotate(62 1580 109)" fill="#f08a30"/>
<ellipse cx="1516" cy="266" rx="13" ry="3.3" transform="rotate(62 1516 266)" fill="#f08a30"/>
<ellipse cx="1457" cy="146" rx="17" ry="3.3" transform="rotate(62 1457 146)" fill="#fce070"/>
<ellipse cx="1555" cy="282" rx="14" ry="2.8" transform="rotate(62 1555 282)" fill="#90f090"/>
<ellipse cx="1543" cy="187" rx="12" ry="2.9" transform="rotate(62 1543 187)" fill="#f08a30"/>
<ellipse cx="1552" cy="134" rx="15" ry="2.8" transform="rotate(62 1552 134)" fill="#f08a30"/>
<ellipse cx="1502" cy="165" rx="9" ry="2.4" transform="rotate(62 1502 165)" fill="#fce070"/>
<ellipse cx="1516" cy="168" rx="20" ry="3.0" transform="rotate(62 1516 168)" fill="#f08a30"/>
<ellipse cx="1489" cy="109" rx="16" ry="2.6" transform="rotate(62 1489 109)" fill="#fce070"/>
<ellipse cx="1445" cy="197" rx="17" ry="2.3" transform="rotate(62 1445 197)" fill="#fce070"/>
<ellipse cx="1568" cy="308" rx="11" ry="3.4" transform="rotate(62 1568 308)" fill="#fce070"/>
<ellipse cx="1477" cy="164" rx="12" ry="3.3" transform="rotate(62 1477 164)" fill="#90f090"/>
<ellipse cx="1519" cy="155" rx="14" ry="2.9" transform="rotate(62 1519 155)" fill="#f08a30"/>
<ellipse cx="1503" cy="162" rx="11" ry="2.1" transform="rotate(62 1503 162)" fill="#e07020"/>
<ellipse cx="1450" cy="212" rx="19" ry="3.0" transform="rotate(62 1450 212)" fill="#90f090"/>
<ellipse cx="1493" cy="154" rx="17" ry="2.0" transform="rotate(62 1493 154)" fill="#e07020"/>
<ellipse cx="1546" cy="208" rx="13" ry="2.2" transform="rotate(62 1546 208)" fill="#fce070"/>
<ellipse cx="1440" cy="181" rx="20" ry="2.2" transform="rotate(62 1440 181)" fill="#f08a30"/>
<ellipse cx="1572" cy="223" rx="14" ry="2.5" transform="rotate(62 1572 223)" fill="#f08a30"/>
<ellipse cx="1445" cy="217" rx="17" ry="2.1" transform="rotate(62 1445 217)" fill="#90f090"/>
<ellipse cx="1446" cy="120" rx="12" ry="3.0" transform="rotate(62 1446 120)" fill="#e07020"/>
<ellipse cx="1539" cy="176" rx="12" ry="2.4" transform="rotate(62 1539 176)" fill="#90f090"/>
<ellipse cx="1477" cy="235" rx="19" ry="2.5" transform="rotate(62 1477 235)" fill="#e07020"/>
<ellipse cx="1480" cy="222" rx="19" ry="2.3" transform="rotate(62 1480 222)" fill="#fce070"/>
<ellipse cx="1568" cy="308" rx="18" ry="2.9" transform="rotate(62 1568 308)" fill="#90f090"/>
<ellipse cx="1492" cy="192" rx="18" ry="2.1" transform="rotate(62 1492 192)" fill="#f08a30"/>
<ellipse cx="1480" cy="121" rx="15" ry="2.5" transform="rotate(62 1480 121)" fill="#f08a30"/>
<ellipse cx="1453" cy="130" rx="17" ry="2.6" transform="rotate(62 1453 130)" fill="#fce070"/>
<ellipse cx="1477" cy="218" rx="16" ry="3.0" transform="rotate(62 1477 218)" fill="#fce070"/>
<ellipse cx="1472" cy="172" rx="11" ry="3.2" transform="rotate(62 1472 172)" fill="#f08a30"/>
<ellipse cx="1533" cy="193" rx="20" ry="2.7" transform="rotate(62 1533 193)" fill="#fce070"/>
<ellipse cx="1456" cy="235" rx="18" ry="3.3" transform="rotate(62 1456 235)" fill="#90f090"/>
<ellipse cx="1446" cy="184" rx="11" ry="3.4" transform="rotate(62 1446 184)" fill="#f08a30"/>
<ellipse cx="1512" cy="175" rx="19" ry="2.1" transform="rotate(62 1512 175)" fill="#90f090"/>
<ellipse cx="1535" cy="275" rx="13" ry="2.2" transform="rotate(62 1535 275)" fill="#f08a30"/>
<ellipse cx="1473" cy="174" rx="16" ry="2.3" transform="rotate(62 1473 174)" fill="#fce070"/>
<ellipse cx="1442" cy="194" rx="11" ry="2.4" transform="rotate(62 1442 194)" fill="#90f090"/>
<ellipse cx="1528" cy="121" rx="13" ry="2.8" transform="rotate(62 1528 121)" fill="#f08a30"/>
<ellipse cx="1542" cy="128" rx="17" ry="2.6" transform="rotate(62 1542 128)" fill="#f08a30"/>
<ellipse cx="1485" cy="188" rx="12" ry="2.8" transform="rotate(62 1485 188)" fill="#e07020"/>
<ellipse cx="1497" cy="218" rx="20" ry="2.5" transform="rotate(62 1497 218)" fill="#90f090"/>
<ellipse cx="1473" cy="105" rx="14" ry="3.1" transform="rotate(62 1473 105)" fill="#90f090"/>
<ellipse cx="1514" cy="148" rx="15" ry="2.9" transform="rotate(62 1514 148)" fill="#f08a30"/>
<ellipse cx="1586" cy="128" rx="13" ry="2.7" transform="rotate(62 1586 128)" fill="#fce070"/>
<ellipse cx="1463" cy="181" rx="19" ry="2.2" transform="rotate(62 1463 181)" fill="#fce070"/>
<ellipse cx="1476" cy="215" rx="18" ry="2.3" transform="rotate(62 1476 215)" fill="#90f090"/>
<ellipse cx="1475" cy="214" rx="13" ry="2.2" transform="rotate(62 1475 214)" fill="#fce070"/>
<ellipse cx="1584" cy="114" rx="17" ry="2.1" transform="rotate(62 1584 114)" fill="#fce070"/>
<ellipse cx="1574" cy="136" rx="15" ry="2.9" transform="rotate(62 1574 136)" fill="#fce070"/>
<ellipse cx="1489" cy="219" rx="14" ry="2.9" transform="rotate(62 1489 219)" fill="#fce070"/>
<ellipse cx="1511" cy="224" rx="16" ry="2.7" transform="rotate(62 1511 224)" fill="#f08a30"/>
<ellipse cx="1565" cy="230" rx="14" ry="2.1" transform="rotate(62 1565 230)" fill="#f08a30"/>
<ellipse cx="1461" cy="222" rx="14" ry="2.7" transform="rotate(62 1461 222)" fill="#f08a30"/>
<ellipse cx="1564" cy="245" rx="15" ry="2.5" transform="rotate(62 1564 245)" fill="#f08a30"/>
<ellipse cx="1557" cy="329" rx="20" ry="2.7" transform="rotate(62 1557 329)" fill="#f08a30"/>
<ellipse cx="1463" cy="242" rx="11" ry="2.4" transform="rotate(62 1463 242)" fill="#e07020"/>
<ellipse cx="1521" cy="191" rx="11" ry="2.2" transform="rotate(62 1521 191)" fill="#f08a30"/>
<ellipse cx="1583" cy="150" rx="10" ry="2.7" transform="rotate(62 1583 150)" fill="#90f090"/>
<ellipse cx="1542" cy="203" rx="15" ry="2.8" transform="rotate(62 1542 203)" fill="#90f090"/>
<ellipse cx="1581" cy="132" rx="16" ry="2.6" transform="rotate(62 1581 132)" fill="#e07020"/>
<ellipse cx="1568" cy="176" rx="15" ry="2.5" transform="rotate(62 1568 176)" fill="#e07020"/>
<ellipse cx="1562" cy="226" rx="17" ry="2.1" transform="rotate(62 1562 226)" fill="#f08a30"/>
<ellipse cx="1571" cy="173" rx="20" ry="2.8" transform="rotate(62 1571 173)" fill="#90f090"/>
<ellipse cx="1546" cy="190" rx="9" ry="2.2" transform="rotate(62 1546 190)" fill="#f08a30"/>
<ellipse cx="1539" cy="223" rx="19" ry="2.2" transform="rotate(62 1539 223)" fill="#fce070"/>
<ellipse cx="1444" cy="104" rx="10" ry="2.5" transform="rotate(62 1444 104)" fill="#f08a30"/>
<ellipse cx="1534" cy="160" rx="14" ry="2.2" transform="rotate(62 1534 160)" fill="#fce070"/>
<ellipse cx="1464" cy="130" rx="19" ry="3.1" transform="rotate(62 1464 130)" fill="#90f090"/>
<ellipse cx="1504" cy="176" rx="16" ry="2.8" transform="rotate(62 1504 176)" fill="#f08a30"/>
<ellipse cx="1557" cy="172" rx="9" ry="2.7" transform="rotate(62 1557 172)" fill="#90f090"/>
<ellipse cx="1505" cy="169" rx="18" ry="2.0" transform="rotate(62 1505 169)" fill="#f08a30"/>
<ellipse cx="1463" cy="158" rx="15" ry="2.9" transform="rotate(62 1463 158)" fill="#fce070"/>
<ellipse cx="1570" cy="151" rx="12" ry="2.1" transform="rotate(62 1570 151)" fill="#f08a30"/>
<ellipse cx="1554" cy="105" rx="17" ry="2.7" transform="rotate(62 1554 105)" fill="#90f090"/>
<ellipse cx="1559" cy="228" rx="10" ry="2.3" transform="rotate(62 1559 228)" fill="#f08a30"/>
<ellipse cx="1446" cy="196" rx="17" ry="3.2" transform="rotate(62 1446 196)" fill="#90f090"/>
<ellipse cx="1554" cy="177" rx="14" ry="3.1" transform="rotate(62 1554 177)" fill="#fce070"/>
<ellipse cx="1524" cy="176" rx="20" ry="2.3" transform="rotate(62 1524 176)" fill="#90f090"/>
<ellipse cx="1581" cy="107" rx="12" ry="3.0" transform="rotate(62 1581 107)" fill="#f08a30"/>
<ellipse cx="1493" cy="169" rx="16" ry="3.0" transform="rotate(62 1493 169)" fill="#90f090"/>
<ellipse cx="1531" cy="188" rx="16" ry="2.1" transform="rotate(62 1531 188)" fill="#f08a30"/>
<ellipse cx="1586" cy="143" rx="10" ry="3.3" transform="rotate(62 1586 143)" fill="#f08a30"/>
<ellipse cx="1495" cy="142" rx="9" ry="3.0" transform="rotate(62 1495 142)" fill="#f08a30"/>
<ellipse cx="1541" cy="296" rx="10" ry="2.8" transform="rotate(62 1541 296)" fill="#90f090"/>
<ellipse cx="1457" cy="160" rx="9" ry="3.2" transform="rotate(62 1457 160)" fill="#f08a30"/>
<ellipse cx="1570" cy="279" rx="16" ry="2.4" transform="rotate(62 1570 279)" fill="#90f090"/>
<ellipse cx="1456" cy="130" rx="11" ry="2.4" transform="rotate(62 1456 130)" fill="#90f090"/>
<ellipse cx="1508" cy="109" rx="12" ry="3.0" transform="rotate(62 1508 109)" fill="#f08a30"/>
<ellipse cx="1499" cy="192" rx="15" ry="3.2" transform="rotate(62 1499 192)" fill="#e07020"/>
<ellipse cx="1539" cy="112" rx="14" ry="3.1" transform="rotate(62 1539 112)" fill="#fce070"/>
<ellipse cx="1620" cy="118" rx="12" ry="8" fill="#f0b050"/>
<ellipse cx="1655" cy="160" rx="8" ry="6" fill="#f8c860"/>
<ellipse cx="1658" cy="210" rx="10" ry="5" fill="#f0b050"/>
<ellipse cx="1672" cy="255" rx="9" ry="6" fill="#f8d070"/>
<ellipse cx="1690" cy="300" rx="8" ry="12" fill="#f0a848"/>
<ellipse cx="1700" cy="150" rx="7" ry="12" fill="#f8d070"/>
<ellipse cx="1598" cy="330" rx="10" ry="30" fill="#f4c060"/>
<ellipse cx="1600" cy="390" rx="10" ry="28" fill="#f0a848"/>
<ellipse cx="1630" cy="420" rx="14" ry="10" fill="#f8d070"/>
<ellipse cx="1700" cy="360" rx="6" ry="10" fill="#f8d070"/>
</g>
<g filter="url(#tb4)">
<path d="M1295.4,295.2L1298.7 291.7 1303.1 288.2 1308.3 284.8 1313.9 281.6 1319.7 278.7 1325.4 276.2 1331.2 274.2 1337.3 272.5 1343.6 271.2 1349.9 270.1 1356.0 269.2 1361.8 268.4 1367.0 267.7 1371.6 267.2 1376.2 266.9 1380.8 266.7 1386.1 266.6 1392.1 266.7 1399.7 266.8 1408.5 267.0 1417.9 267.4 1427.1 267.8 1435.2 268.5 1441.5 269.2 1445.6 270.1 1448.0 271.1 1449.4 272.2 1450.5 273.4 1451.8 274.8 1454.2 276.4 1457.5 278.0 1461.4 279.7 1465.5 281.5 1469.9 283.6 1474.2 286.1 1478.4 289.0 1482.5 292.7 1486.9 297.0 1491.2 301.7 1495.4 306.5 1499.3 311.1 1502.7 315.2 1505.5 318.8 1507.8 321.9 1509.8 324.9 1511.6 327.9 1513.4 331.3 1515.3 335.2 1517.3 339.9 1519.3 345.2 1521.3 350.8 1523.2 356.4 1525.1 361.9 1526.9 366.8 1528.7 371.3 1530.5 375.4 1532.3 379.3 1534.0 383.2 1535.6 387.0 1537.0 391.0 1538.3 395.2 1539.6 399.4 1540.8 403.6 1541.8 407.8 1542.5 412.0 1542.9 416.2 1543.0 420.2 1542.8 424.3 1542.4 428.3 1541.7 432.3 1540.8 436.2 1539.6 440.2 1538.1 444.1 1536.3 448.0 1534.2 451.9 1532.0 455.7 1529.6 459.5 1527.1 463.2 1524.5 466.8 1521.9 470.3 1519.1 473.8 1516.1 477.2 1512.9 480.7 1509.4 484.1 1505.5 487.7 1501.3 491.3 1496.8 494.9 1492.2 498.5 1487.7 501.9 1483.2 505.1 1478.8 508.0 1474.5 510.7 1470.1 513.2 1465.7 515.7 1461.3 518.1 1457.0 520.6 1452.9 523.4 1448.8 526.3 1444.8 529.1 1440.8 531.8 1436.5 534.2 1431.9 535.9 1426.8 537.1 1421.3 537.8 1415.7 538.0 1410.0 538.1 1404.6 538.0 1399.6 538.0 1395.1 538.1 1391.1 538.2 1387.2 538.2 1383.5 537.9 1379.6 537.2 1375.6 535.8 1371.4 533.8 1366.9 531.1 1362.5 527.9 1358.0 524.5 1353.6 520.9 1349.4 517.4 1345.3 513.9 1341.2 510.3 1337.2 506.5 1333.3 502.7 1329.7 498.7 1326.3 494.7 1323.1 490.5 1320.2 486.3 1317.5 481.9 1315.0 477.5 1312.6 473.1 1310.3 468.7 1308.1 464.5 1306.1 460.5 1304.3 456.5 1302.6 452.3 1301.0 447.7 1299.6 442.6 1298.3 436.6 1297.3 429.8 1296.3 422.6 1295.5 415.5 1294.8 408.7 1294.0 402.7 1293.4 397.5 1292.7 393.0 1292.2 388.8 1291.7 384.8 1291.3 380.7 1291.0 376.3 1290.9 371.6 1290.9 366.8 1290.9 361.9 1291.0 356.9 1291.2 351.9 1291.4 347.0 1291.5 341.9 1291.8 336.7 1292.0 331.4 1292.3 326.3 1292.6 321.4 1292.9 316.8 1293.0 312.7 1292.6 308.9 1292.4 305.3 1292.5 301.9 1293.4 298.5Z" fill="#8c0c00"/>
<path d="M1300.0,299.0L1303.2 295.7 1307.4 292.4 1312.4 289.1 1317.9 286.1 1323.5 283.3 1329.0 281.0 1334.6 279.1 1340.4 277.6 1346.5 276.5 1352.6 275.5 1358.4 274.7 1364.0 274.0 1369.0 273.4 1373.4 273.0 1377.8 272.7 1382.2 272.6 1387.2 272.5 1393.0 272.6 1400.2 272.7 1408.6 272.9 1417.6 273.3 1426.3 273.7 1434.0 274.3 1440.0 275.0 1443.9 275.8 1446.2 276.8 1447.5 277.9 1448.5 279.1 1449.8 280.5 1452.0 282.0 1455.2 283.6 1458.9 285.1 1462.8 286.9 1466.9 288.9 1471.0 291.2 1475.0 294.0 1479.0 297.5 1483.1 301.6 1487.2 306.1 1491.1 310.6 1494.8 315.0 1498.0 319.0 1500.6 322.4 1502.9 325.4 1504.8 328.2 1506.5 331.1 1508.2 334.3 1510.0 338.0 1511.9 342.4 1513.8 347.4 1515.6 352.8 1517.4 358.1 1519.2 363.3 1521.0 368.0 1522.8 372.2 1524.6 376.1 1526.3 379.9 1528.0 383.5 1529.6 387.2 1531.0 391.0 1532.3 395.0 1533.6 399.0 1534.8 403.0 1535.8 407.0 1536.6 411.0 1537.0 415.0 1537.1 418.9 1537.0 422.8 1536.6 426.6 1536.0 430.4 1535.1 434.2 1534.0 438.0 1532.6 441.7 1530.9 445.5 1528.9 449.2 1526.7 452.9 1524.4 456.5 1522.0 460.0 1519.5 463.4 1517.0 466.8 1514.3 470.1 1511.4 473.4 1508.4 476.7 1505.0 480.0 1501.3 483.4 1497.3 486.9 1493.0 490.3 1488.6 493.7 1484.3 497.0 1480.0 500.0 1475.8 502.8 1471.6 505.4 1467.4 507.8 1463.3 510.2 1459.1 512.6 1455.0 515.0 1451.0 517.7 1447.2 520.5 1443.4 523.3 1439.5 526.0 1435.4 528.3 1431.0 530.0 1426.1 531.1 1420.9 531.8 1415.4 532.1 1410.0 532.1 1404.8 532.0 1400.0 532.0 1395.7 532.1 1391.8 532.2 1388.1 532.2 1384.5 532.0 1380.9 531.3 1377.0 530.0 1372.9 528.0 1368.7 525.3 1364.4 522.2 1360.2 518.9 1356.0 515.4 1352.0 512.0 1348.1 508.6 1344.2 505.1 1340.4 501.4 1336.7 497.7 1333.2 493.9 1330.0 490.0 1327.0 486.0 1324.3 481.9 1321.8 477.7 1319.4 473.4 1317.1 469.2 1315.0 465.0 1313.0 461.0 1311.1 457.1 1309.4 453.3 1307.8 449.3 1306.3 444.9 1305.0 440.0 1303.9 434.3 1302.9 427.8 1302.1 421.0 1301.3 414.2 1300.7 407.7 1300.0 402.0 1299.3 397.1 1298.7 392.8 1298.2 388.9 1297.7 385.1 1297.3 381.2 1297.0 377.0 1296.8 372.5 1296.7 367.9 1296.8 363.2 1296.8 358.5 1296.9 353.8 1297.0 349.0 1297.1 344.1 1297.2 339.1 1297.4 334.1 1297.6 329.1 1297.8 324.4 1298.0 320.0 1298.0 316.0 1297.6 312.3 1297.2 308.8 1297.3 305.5 1298.1 302.2Z" fill="#800000"/>
<path d="M1182 392 L1215 380 L1240 392 L1238 425 L1222 445 L1200 450 L1185 430Z" fill="#800000"/>
<path d="M1195 480 L1212 478 L1222 510 L1226 545 L1222 585 L1210 590 L1200 560 L1196 520Z" fill="#b84000"/>
<ellipse cx="1212" cy="575" rx="10" ry="14" fill="#901000"/>
<circle cx="1225" cy="599" r="6" fill="#800000"/><circle cx="1236" cy="615" r="5" fill="#a02000"/>
<ellipse cx="1200" cy="520" rx="9" ry="16" fill="#981800"/>
<path d="M1388.0,592.0L1392.4 592.9 1398.7 592.7 1406.2 591.9 1414.4 590.6 1422.6 589.2 1430.0 588.0 1436.8 586.9 1443.6 585.8 1450.2 584.5 1456.9 583.1 1463.5 581.6 1470.0 580.0 1476.6 578.3 1483.3 576.4 1489.9 574.5 1496.3 572.4 1502.4 570.3 1508.0 568.0 1513.1 565.5 1517.7 562.9 1522.0 560.1 1526.1 557.3 1530.0 554.6 1534.0 552.0 1537.9 549.6 1541.8 547.5 1545.5 545.4 1549.1 543.2 1552.6 540.8 1556.0 538.0 1559.5 534.7 1563.3 530.9 1566.9 526.9 1570.1 522.9 1572.6 519.2 1574.0 516.0 1574.3 513.1 1573.6 510.3 1572.2 507.8 1570.4 505.7 1568.2 504.4 1566.0 504.0 1563.6 504.8 1561.0 506.7 1558.0 509.4 1554.8 512.4 1551.5 515.4 1548.0 518.0 1544.4 520.3 1540.6 522.7 1536.6 525.1 1532.5 527.4 1528.3 529.7 1524.0 532.0 1519.6 534.2 1515.2 536.5 1510.6 538.7 1505.9 540.9 1501.1 543.0 1496.0 545.0 1490.7 547.0 1485.1 549.0 1479.4 550.9 1473.6 552.7 1467.7 554.4 1462.0 556.0 1456.4 557.4 1450.7 558.6 1445.1 559.8 1439.5 560.8 1433.8 561.9 1428.0 563.0 1421.7 564.0 1415.0 564.8 1408.1 565.6 1401.7 566.6 1396.2 568.0 1392.0 570.0 1388.9 573.1 1386.6 577.2 1385.1 581.7 1384.7 586.0 1385.6 589.7Z" fill="#f09030" opacity="0.85"/>
<path d="M1392.0,586.0L1396.0 586.1 1401.7 585.5 1408.5 584.6 1415.9 583.4 1423.2 582.1 1430.0 581.0 1436.2 580.0 1442.4 579.0 1448.6 577.9 1454.8 576.7 1460.9 575.4 1467.0 574.0 1473.2 572.4 1479.5 570.8 1485.8 569.0 1491.9 567.1 1497.6 565.1 1503.0 563.0 1507.8 560.7 1512.3 558.3 1516.4 555.7 1520.3 553.1 1524.1 550.5 1528.0 548.0 1531.9 545.7 1535.8 543.4 1539.6 541.2 1543.2 539.0 1546.7 536.6 1550.0 534.0 1553.3 531.0 1556.6 527.5 1559.8 523.9 1562.5 520.5 1564.7 517.4 1566.0 515.0 1566.4 513.1 1566.0 511.6 1564.9 510.4 1563.5 509.7 1561.8 509.5 1560.0 510.0 1558.1 511.4 1556.0 513.6 1553.6 516.4 1550.9 519.4 1548.1 522.4 1545.0 525.0 1541.6 527.3 1538.0 529.5 1534.1 531.6 1530.0 533.7 1526.0 535.9 1522.0 538.0 1518.2 540.2 1514.4 542.4 1510.6 544.6 1506.7 546.8 1502.5 548.9 1498.0 551.0 1493.0 553.0 1487.7 554.9 1482.2 556.8 1476.5 558.6 1470.7 560.4 1465.0 562.0 1459.3 563.5 1453.5 565.0 1447.6 566.3 1441.7 567.6 1435.9 568.8 1430.0 570.0 1423.8 571.1 1417.1 572.0 1410.5 572.9 1404.3 573.8 1399.0 574.8 1395.0 576.0 1392.2 577.6 1390.1 579.6 1388.9 581.7 1388.8 583.6 1389.8 585.2Z" fill="#8c1000"/>
</g>
</g>
<g transform="translate(875 0)" fill="none" stroke="#fff" stroke-width="1.9" stroke-linejoin="round">
<path d="M110.3,354.1L112.5 352.9 114.8 352.0 117.1 351.0 119.3 349.9 121.7 350.1 123.4 351.8 125.1 353.5 127.0 355.1 129.1 356.6 130.8 358.4 132.8 359.9 135.1 361.0 137.0 362.7 138.3 364.9 140.2 366.5 142.2 368.0 144.0 369.7 146.3 370.8 148.8 370.8 151.3 370.7 153.8 371.0 156.2 371.5 158.7 371.9 161.1 372.6 163.4 373.5 165.8 373.9 168.0 373.6 170.3 373.0 172.7 372.1 174.9 371.0 177.2 370.0 179.3 368.6 181.7 367.4 184.3 367.3 186.7 368.5 188.8 369.7 191.2 370.7 193.4 371.8 195.4 373.3 197.2 375.1 199.3 376.6 201.2 378.1 202.9 380.0 204.7 381.7 206.6 383.4 208.3 385.2 209.9 387.1 212.0 388.5 214.4 389.2 216.8 389.9 219.2 390.8 221.8 390.8 224.3 389.9 226.5 388.7 228.6 387.3 230.8 386.1 233.2 385.4 235.7 385.2 238.1 384.4 240.3 383.2 242.2 381.4 243.4 379.1 244.2 376.7 245.4 374.5 246.8 372.5 248.9 371.0 251.2 370.0 253.6 369.4 256.0 368.7 258.4 367.9 260.8 367.2 263.1 366.3 265.1 364.9 266.6 363.0 268.0 361.0 269.2 358.8 270.5 356.6 272.0 355.0"/>
<path d="M252.6,381.4L253.3 383.8 254.2 386.1 255.2 388.4 256.5 390.6 258.1 392.5 260.1 393.9 262.4 395.0 264.7 395.9 266.8 397.2 269.0 398.3 271.5 398.9 273.9 399.6 276.2 400.4 278.7 400.9 281.1 401.5 283.5 402.4 285.9 402.9 288.5 402.9 291.0 403.0 293.5 403.6 296.1 403.4 298.3 402.1 300.1 400.3 301.5 398.1 302.1 395.5 301.8 392.9 301.3 390.6 300.1 388.5 298.2 386.8 296.4 384.8 296.7 382.2 298.5 380.2 300.2 378.4 302.1 376.7 304.1 375.3 306.1 373.7 307.9 372.1 309.8 370.4 311.8 368.8 313.7 367.2 316.4 366.8 318.0 369.0 318.8 371.4 319.7 373.7 320.6 376.1 321.4 378.4 322.2 380.8 323.4 383.0 324.6 385.2 326.0 387.3 328.2 388.3 330.3 387.5 332.2 386.0 334.4 384.6 336.9 385.3 338.9 386.9 340.7 388.7 342.3 390.6 343.3 392.9 344.1 395.1 344.0 397.4 342.6 399.4 340.6 401.0 338.6 402.5 336.7 404.0 334.9 405.7 333.6 407.9 332.6 410.2 330.9 412.1 329.3 413.9 327.9 416.0 326.3 417.9 324.7 419.9 323.1 421.7 321.3 423.5 319.3 425.1 317.3 426.6 315.7 428.5 313.8 430.2 312.4 432.4 314.0 434.4 316.2 435.5 318.2 437.0 320.2 438.5 322.0 440.1 323.6 442.0 322.9 444.3 320.7 445.6 318.7 447.1 316.7 448.6 314.3 449.4 311.8 450.1 309.4 451.3 307.8 453.4 307.2 455.9 306.2 458.2 305.2 460.5 304.4 462.9 302.7 464.9 300.3 464.3 298.4 462.6 296.8 460.6 295.3 458.6 293.9 456.6 292.3 454.6 289.8 454.1 287.6 455.0 285.4 456.1 283.3 457.4 281.2 458.8 279.3 460.4 277.4 462.0 275.5 463.6 273.3 464.9 271.3 466.5 269.8 468.5 268.9 470.9 268.5 473.4 268.3 475.9 268.4 478.4 268.8 480.8 269.3 483.3 270.1 485.7 271.0 488.0 272.3 490.1 273.4 492.2 274.9 494.1 277.1 495.2 279.2 496.6 280.5 498.6 280.2 501.0 279.3 503.2 278.5 505.6 277.6 508.0 276.1 510.0 274.6 512.1 273.6 514.4 272.9 516.8 272.2 519.2 271.7 521.6 271.1 524.1 271.0 526.6 270.2 528.9 267.8 529.9 265.4 530.3 263.0 531.1 260.9 532.5 259.3 534.5 257.8 536.5 256.4 538.6 255.1 540.7 253.8 542.8 252.4 544.9 251.0 547.0 249.7 549.1 248.2 551.1 246.5 553.0 245.2 555.1 244.1 557.3 242.7 559.4 240.8 561.0 238.8 562.2 236.8 563.8 235.1 565.6 233.4 567.3 232.3 569.6 232.9 572.1 234.2 574.3 235.4 576.5 236.8 578.5 238.1 580.7 239.3 582.9 240.9 584.8 242.6 586.7 244.6 588.1 246.6 589.6 248.5 591.3 250.4 593.0 252.2 594.7 254.4 596.0 256.8 596.8 259.1 597.8 261.1 599.3 263.0 601.0 265.2 602.2 267.5 603.3 269.5 604.8 271.5 606.3 273.5 607.7 275.4 609.4 277.5 610.8 279.5 612.2 281.5 613.8 283.8 615.0 286.3 615.4 288.7 616.1 290.7 617.5 292.6 619.1 294.5 620.8 295.6 623.0 296.5 625.3 297.4 627.5 298.3 629.8 300.0 631.7 302.2 632.9 304.6 633.8 306.8 634.9 308.7 636.6 310.6 638.3 312.8 639.6 315.2 640.4 317.8 640.6 320.3 641.2 322.3 642.9 323.7 645.0 325.4 646.9 327.2 648.6 328.9 650.6 329.5 653.1 329.9 655.6 332.3 656.4 334.9 656.0 337.3 655.3 339.6 654.2 341.9 653.1 344.2 652.3 346.6 651.3 349.2 651.6 351.4 653.0 353.4 654.5 355.3 656.1 357.3 657.6 359.6 658.7 361.9 659.7 364.1 660.9 366.0 662.5 367.9 664.2 370.1 665.5 372.4 666.4 374.6 667.6 376.7 669.0 379.1 669.9 381.3 671.0 383.3 672.7 385.4 673.9 387.9 674.5 390.3 675.4 392.6 676.3 395.1 676.5 397.6 677.0 399.9 678.2 402.0 679.5 404.1 680.8 406.1 682.3 407.9 684.0 409.4 686.0 410.8 688.1 412.4 690.0 414.3 691.7 416.3 693.2 418.3 694.8 420.1 696.5 422.1 698.0 423.8 699.8 425.2 702.0 426.8 703.9 428.9 705.3 431.0 706.8 432.7 708.6 434.5 710.4 436.5 712.0 438.8 713.1 441.3 713.9 443.5 714.9 445.7 716.2 448.0 717.1 450.5 717.3 453.0 717.6 455.4 718.1 457.9 718.7 460.3 719.2 462.8 719.4 465.2 720.0 467.7 720.7 470.2 720.9 472.6 721.4 474.9 722.4 477.3 723.2 479.7 723.7 482.2 724.4 484.6 725.0 487.0 725.5 489.5 726.1 491.8 727.0 494.0 728.2 496.2 729.5 498.4 730.6 500.7 731.6 502.8 732.9 504.7 734.5 506.5 736.2 507.3 738.6 507.1 741.2 506.5 743.6 506.0 746.2 506.6 748.7 507.5 751.1 508.6 753.4 510.2 755.4 512.2 756.9 514.5 757.8 516.7 758.8 518.9 760.0 521.2 761.2 523.5 762.1 525.9 762.8 528.3 763.6 530.7 764.2 533.0 765.4 535.2 766.6 537.3 767.9 539.2 769.6 541.1 771.2 543.1 772.7 544.8 774.6 546.3 776.5 547.9 778.0"/>
<path d="M599.8,789.7L601.9 788.3 603.8 786.8 605.9 785.3 607.8 783.7 609.8 782.2 611.9 780.9 613.9 779.4 616.0 778.0 617.9 776.5 619.6 774.6 621.4 772.9 623.4 771.3 625.6 770.1 627.7 768.8 629.6 767.1 631.5 765.4 632.5 763.1 632.8 760.6 633.4 758.2 634.4 755.8 634.9 753.3 634.9 750.8 635.3 748.3 636.2 746.0 636.6 743.5 636.5 740.9 637.1 738.4 638.3 736.2 639.3 733.9 640.6 731.8 642.2 729.8 643.6 727.7 644.9 725.6 646.3 723.6 647.7 721.5 649.1 719.4 650.4 717.3 651.7 715.2 653.2 713.2 655.2 711.5 656.8 709.6 657.9 707.3 658.9 705.0 659.8 702.7 661.0 700.5 661.9 698.2 662.4 695.7 663.2 693.3 663.9 690.9 664.1 688.4 664.4 685.9 664.8 683.5 665.6 681.1 666.5 678.7 666.7 676.2 666.9 673.7 667.7 671.3 668.3 668.9 668.5 666.4 668.8 663.9 669.2 661.4 669.9 659.0 670.5 656.6 671.2 654.1 671.9 651.8 672.4 649.3 673.1 646.9 673.8 644.5 674.2 642.0 674.7 639.6 675.4 637.2 676.3 634.8 677.3 632.5 677.9 630.1 678.4 627.6 679.1 625.2 679.5 622.7 679.8 620.2 680.7 617.8 682.1 615.7 682.8 613.3 683.0 610.7 683.9 608.4 684.9 606.1 685.4 603.6 685.4 601.0 685.9 598.5 686.9 596.2 687.7 593.9 688.2 591.4 689.0 589.0 689.5 586.6 689.6 584.0 689.6 581.5 689.4 579.0 689.2 576.5 688.7 574.1 688.1 571.6 687.8 569.2 687.8 566.6 687.3 564.2 686.4 561.8 686.2 559.3 686.1 556.8 685.5 554.3 684.7 551.9 684.4 549.4 684.2 546.9 683.8 544.5 683.5 542.0 682.9 539.6 682.4 537.1 682.2 534.6 681.9 532.1 681.5 529.7 681.2 527.2 680.7 524.7 680.2 522.2 679.5 519.8 678.6 517.5 678.0 515.0 677.9 512.5 677.3 510.1 676.7 507.6 676.7 505.1 677.1 502.6 677.5 500.1 678.1 497.6 678.9 495.3 679.5 492.9 680.0 490.4 680.5 488.0 680.6 485.4 681.1 483.0 682.4 480.7 683.4 478.4 684.0 476.0 684.7 473.6 685.2 471.1 685.8 468.7 686.5 466.3 687.0 463.8 687.9 461.5 689.0 459.2 689.7 456.8 690.5 454.5 691.0 452.1 691.0 449.6 690.6 447.2 689.5 445.0 687.8 443.1 686.3 441.2 685.5 439.0 685.9 436.6 687.0 434.4 688.6 432.5 690.5 430.8 692.5 429.2 694.2 427.4 696.0 425.6 697.6 423.5 698.0 420.7 696.7 418.3 694.5 416.8 692.4 415.4 690.9 413.4 690.0 411.3 689.5 408.9 689.5 406.4 689.9 403.9 690.5 401.5 691.4 399.1 692.2 396.7 692.5 394.2 692.7 391.6 693.6 389.3 695.0 387.2 696.1 384.9 696.7 382.4 697.9 380.1 699.5 378.2 701.6 376.7 703.7 375.5 705.7 374.0 707.6 372.3 709.3 370.5 710.7 368.3 711.4 365.8 711.7 363.3 712.3 360.9 712.8 358.4 713.6 356.1 714.7 353.8 715.3 351.3 715.7 348.9 716.5 346.5 717.2 344.1 717.4 341.6 718.0 339.1 719.0 336.8 719.7 334.4 720.1 331.9 720.7 329.5 721.7 327.2 722.9 324.9 723.5 322.5 723.5 319.9 724.2 317.5 725.4 315.2 726.0 312.8 726.4 310.3 726.8 307.8 726.9 305.3 727.3 302.9 727.9 300.4 728.1 297.9 728.1 295.3 729.1 293.0 730.9 291.1 732.6 289.2 734.2 287.3 736.0 285.6 737.8 283.9 739.7 282.3 741.7 280.7 743.8 279.4 746.2 278.5 748.7 278.1 751.0 277.6 753.4 277.0 755.5 278.2 756.0 280.8 756.4 283.3 757.5 285.6 758.5 287.9 759.6 290.1 761.0 292.2 762.3 294.4 763.5 296.6 765.0 298.5 767.0 300.1 768.8 301.9 769.9 304.3 770.5 306.8 771.2 309.2 771.6 311.7 772.5 314.0 773.8 316.2 774.6 318.6 774.6 321.2 775.1 323.6 775.7 326.0 775.9 328.5 775.9 331.0 776.4 333.5 776.7 336.0 776.5 338.5 776.4 341.0 776.4 343.5 776.9 346.0 778.0 348.3 779.0 350.6 779.5 353.0 780.2 355.5 781.8 357.4 783.8 358.9 785.7 360.4 787.6 361.8 789.7 363.0 792.1 363.8 794.6 364.0 797.2 364.1 799.6 365.1 801.7 366.7 802.4 369.2 801.2 371.6 799.4 373.4 797.5 375.1 795.6 376.8 794.2 379.0 793.7 381.6 793.8 384.1 794.0 386.6 794.6 389.0 795.7 391.3 796.4 393.7 797.0 396.1 798.3 398.3 799.8 400.3 801.3 402.3 803.4 403.8 805.5 405.1 807.3 406.9 808.9 408.8 810.5 410.7 812.1 412.7 813.8 414.5 815.3 416.5 816.7 418.6 818.0 420.7 819.1 423.0 820.0 425.3 821.0 427.7 822.3 429.8 823.4 432.0 823.9 434.5 824.5 436.8 825.3 439.2 825.4 441.7 825.6 444.2 826.1 446.7 826.5 449.2 826.8 451.7 826.4 454.2 826.0 456.7 825.9 459.2 825.9 461.7 826.0 464.2 826.2 466.7 826.2 469.2 826.3 471.7 826.4 474.2 826.9 476.6 827.1 479.1 827.2 481.6 827.7 484.1 828.1 486.6 828.3 489.1 828.8 491.5 829.5 493.9 830.4 496.3 831.2 498.7 831.8 501.1 832.0 503.6 832.5 506.1 833.0 508.5 833.1 511.0 833.5 513.5 834.3 515.9 835.1 518.3 835.6 520.7 835.9 523.2 836.4 525.7 837.2 528.1 837.7 530.1"/>
<path d="M575.4,104.1L577.7 105.2 580.1 105.8 582.6 106.3 585.0 107.1 587.3 108.0 589.7 108.6 592.3 109.0 594.6 109.9 596.7 111.5 598.7 113.0 600.8 114.3 602.8 115.8 604.6 117.6 606.1 119.6 607.8 121.5 609.6 123.1 611.4 124.9 613.3 126.5 614.8 128.6 616.4 130.5 618.4 132.1 620.0 134.0 621.5 136.0 623.3 137.7 625.3 139.3 626.9 141.2 628.4 143.3 630.2 145.0 632.3 146.5 634.0 148.3 635.3 150.5 636.9 152.4 638.7 154.1 640.7 155.7 642.3 157.6 644.0 159.5 646.2 160.8 648.6 161.7 650.9 162.7 653.1 163.8 655.4 164.7 657.8 165.4 660.3 165.8 662.8 165.9 665.3 166.2 667.7 166.5 670.3 166.3 672.8 166.6 675.3 166.9 677.8 166.7 680.3 166.3 682.8 166.3 685.3 166.4 687.8 166.3 690.3 166.4 692.8 166.5 695.3 166.3 697.8 166.1 700.3 166.5 702.8 166.6 705.3 166.2 707.8 166.2 710.3 166.6 712.8 166.5 715.3 166.1 717.8 166.1 720.3 166.5 722.8 166.6 725.3 166.5 727.8 166.7 730.3 167.0 732.7 167.2 735.3 166.9 737.8 167.1 740.2 168.0 742.7 168.3 745.2 168.1 747.6 168.9 749.9 170.0 752.0 171.2 753.9 172.9 755.8 174.5 758.1 175.6 760.6 176.1 763.0 175.9 765.3 175.2 767.4 174.1 769.5 172.8 771.8 171.7 774.2 170.8 776.4 169.6 778.6 168.6 780.9 167.6 783.0 166.2 785.1 164.8 787.4 163.7 789.6 162.6 792.0 161.7 794.3 160.9 796.4 159.5 798.5 158.0 800.5 156.4 802.7 155.3 805.1 154.5 807.3 153.4 809.5 152.2 811.4 150.6 813.0 148.8 814.6 146.9 816.0 144.8 816.8 142.5 817.4 140.0 817.9 137.6 818.2 135.1 818.1 132.6 817.9 130.1 817.5 127.6 816.4 125.3 814.9 123.3 813.4 121.2 812.1 119.2 810.5 117.3 808.8 115.5 807.1 113.7 805.0 112.2 802.8 111.1 800.6 110.0 798.1 109.3 795.8 108.4 793.5 107.4 791.0 106.9 788.5 106.6 786.1 106.1 783.6 105.3 781.1 105.1 778.6 105.2 776.1 105.0 773.7 104.4 771.2 104.1 768.7 104.0 766.2 103.8 763.7 103.3 761.3 102.8 758.8 102.6 756.2 102.7 753.7 102.6 751.3 102.4 748.8 102.2 746.3 102.3 745.6 102.7"/>
<path d="M307.0,532.4L309.3 533.5 311.9 533.4 313.9 531.7 314.7 529.3 314.9 526.7 314.5 524.2 313.8 521.8 313.5 519.3 313.8 516.7 313.9 514.2 313.7 511.7 313.6 509.2 314.0 506.8 315.1 504.6 316.8 503.1 318.9 502.2 321.4 501.5 323.3 500.0 324.8 497.9 325.6 495.5 326.6 493.3 328.8 492.1 331.2 491.7 333.4 491.7 334.6 493.6 334.8 496.1 335.1 498.7 336.6 500.8 338.5 502.4 340.4 503.7 342.8 503.3 344.8 501.7 346.5 499.9 348.4 498.7 349.7 500.5 348.8 502.5 347.3 504.3 345.8 506.4 344.2 508.2 342.6 510.0 341.1 512.0 339.9 514.2 339.0 516.6 338.7 519.1 338.5 521.7 339.2 524.2 341.4 525.5 343.8 526.1 346.3 526.5 348.8 526.2 351.4 526.1 353.6 527.3 354.3 529.7 354.3 532.2 353.2 534.5 351.2 535.9 348.9 536.7 346.4 537.2 343.9 537.0 341.4 536.8 338.9 537.2 336.4 537.2 333.9 536.6 331.4 536.6 328.9 536.5 326.5 535.7 324.4 534.3 322.1 533.2 319.7 532.6 317.2 532.3 314.7 532.0 312.2 532.0 309.8 532.6 307.3 532.9Z"/>
<path d="M506.4,716.6L506.8 714.1 506.8 711.6 506.5 709.0 506.9 706.5 508.2 704.2 510.1 702.4 512.1 700.9 514.1 699.5 516.1 698.0 518.3 696.8 520.5 695.7 522.9 694.8 525.3 694.2 527.8 693.9 530.3 693.6 532.7 692.9 535.0 691.9 537.3 690.9 539.8 690.7 542.3 691.2 544.6 692.0 546.9 693.1 549.4 693.9 550.8 696.2 549.5 698.5 547.7 700.0 545.3 699.4 543.0 698.0 540.4 698.1 538.3 699.6 536.3 701.1 534.4 702.6 532.5 704.3 530.8 706.1 529.0 707.9 527.0 709.4 525.1 711.0 522.9 712.2 520.4 713.0 518.2 714.1 515.9 715.0 513.4 715.5 511.0 716.1 508.6 716.9 506.6 717.7Z"/>
<path d="M525.5,733.3L526.7 731.2 528.4 729.5 530.9 728.7 533.3 729.7 535.1 731.6 536.2 733.8 537.0 736.2 537.3 738.6 536.9 741.0 535.2 742.8 533.0 743.9 530.7 744.6 528.3 744.5 526.4 743.0 525.0 741.0 524.3 738.6 524.5 736.1 525.2 733.7Z"/>
<path d="M224.0,561.8L225.4 559.6 227.7 558.0 230.3 558.0 232.1 560.3 231.9 562.9 230.2 564.7 228.4 565.3 226.4 564.3 224.5 562.7Z"/>
<path d="M744.6,134.6L746.3 132.8 748.6 131.5 751.1 130.5 753.8 131.2 755.3 133.5 755.5 135.8 754.2 137.4 752.4 139.0 750.2 140.1 747.8 139.2 745.8 137.6 744.5 135.4Z"/>
<path d="M722.3,234.1L723.6 232.1 725.2 230.3 727.3 228.8 729.9 228.5 732.3 229.7 734.2 231.3 736.0 233.0 737.6 234.9 738.8 237.0 738.5 239.4 736.7 241.2 734.9 242.7 732.8 244.0 730.3 244.0 728.0 243.3 725.8 242.0 724.3 240.0 723.2 237.7 722.2 235.5Z"/>
<path d="M724.3,272.0L725.2 270.0 727.1 268.6 729.1 267.6 731.4 267.6 733.6 268.2 735.7 269.6 736.6 272.0 736.7 274.4 736.1 276.5 734.5 278.1 732.2 279.3 729.7 278.7 727.7 277.1 726.0 275.3 724.7 273.2Z"/>
<path d="M743.5,270.7L745.1 268.6 747.7 267.5 750.0 269.1 751.3 271.5 750.6 274.0 748.5 275.2 746.6 275.1 745.1 273.5 743.8 271.3Z"/>
<path d="M315.5,625.8L317.1 623.6 319.3 622.2 322.0 621.5 324.3 623.0 325.4 625.4 325.5 627.8 324.4 629.6 322.9 631.5 320.9 633.0 318.6 632.2 317.0 630.2 315.8 627.9Z"/>
<path d="M329.5,631.9L330.6 629.4 332.8 627.8 335.5 628.2 337.5 630.0 338.6 632.4 338.2 634.6 336.5 636.0 334.6 637.4 332.3 637.7 330.8 635.7 329.8 633.3Z"/>
<path d="M345.0,630.0L346.4 627.9 347.9 626.0 349.4 624.7 351.2 625.4 353.1 626.9 355.0 628.6 355.9 631.0 355.2 633.3 354.1 635.3 352.8 637.4 351.2 639.4 348.9 640.5 346.5 639.2 345.0 637.2 344.3 634.8 344.1 632.2Z"/>
</g>
<path d="M1007.0 103V827M1153.0 103V827M1299.0 103V827M1445.0 103V827M1591.0 103V827M985 224.6H1710M985 370.3H1710M985 516.0H1710M985 661.7H1710M985 807.4H1710" stroke="#fff" stroke-width="2.2" stroke-dasharray="2.2 3.2" fill="none"/>
<rect x="983.5" y="101.5" width="728" height="727" fill="none" stroke="#000" stroke-width="3"/>
<text x="975.5" y="229.2" font-size="13.7" text-anchor="end" fill="#000" >10°S</text>
<text x="975.5" y="374.9" font-size="13.7" text-anchor="end" fill="#000" >12°S</text>
<text x="975.5" y="520.6" font-size="13.7" text-anchor="end" fill="#000" >14°S</text>
<text x="975.5" y="666.3" font-size="13.7" text-anchor="end" fill="#000" >16°S</text>
<text x="975.5" y="812.0" font-size="13.7" text-anchor="end" fill="#000" >18°S</text>
<text x="1007.0" y="851.0" font-size="13.7" text-anchor="middle" fill="#000" >134°E</text>
<text x="1153.0" y="851.0" font-size="13.7" text-anchor="middle" fill="#000" >136°E</text>
<text x="1299.0" y="851.0" font-size="13.7" text-anchor="middle" fill="#000" >138°E</text>
<text x="1445.0" y="851.0" font-size="13.7" text-anchor="middle" fill="#000" >140°E</text>
<text x="1591.0" y="851.0" font-size="13.7" text-anchor="middle" fill="#000" >142°E</text>
<defs><linearGradient id="ccb" x1="0" y1="0" x2="0" y2="1"><stop offset="0.0000" stop-color="#ffffff"/><stop offset="0.3317" stop-color="#ffffff"/><stop offset="0.3327" stop-color="#5b1a6e"/><stop offset="0.3667" stop-color="#4a3da0"/><stop offset="0.4000" stop-color="#2a5ed0"/><stop offset="0.4333" stop-color="#0a84ff"/><stop offset="0.4667" stop-color="#3cb2ff"/><stop offset="0.5000" stop-color="#66d8ff"/><stop offset="0.5200" stop-color="#80ffff"/><stop offset="0.5467" stop-color="#80ffb4"/><stop offset="0.5667" stop-color="#80f080"/><stop offset="0.5867" stop-color="#c0f878"/><stop offset="0.6067" stop-color="#ffff80"/><stop offset="0.6400" stop-color="#ffcc60"/><stop offset="0.6667" stop-color="#ffa030"/><stop offset="0.6867" stop-color="#ff8000"/><stop offset="0.7200" stop-color="#cc4400"/><stop offset="0.7467" stop-color="#a82000"/><stop offset="0.7800" stop-color="#800000"/><stop offset="1.0000" stop-color="#800000"/></linearGradient></defs>
<rect x="1719" y="101.3" width="14.2" height="728" fill="url(#ccb)" stroke="#000" stroke-width="1.2"/>
<text x="1727.5" y="93.7" font-size="17.4" text-anchor="start" fill="#000" >°C</text>
<text x="1741.5" y="157.5" font-size="17.4" text-anchor="start" fill="#000" >40</text>
<text x="1741.5" y="206.0" font-size="17.4" text-anchor="start" fill="#000" >30</text>
<text x="1741.5" y="254.6" font-size="17.4" text-anchor="start" fill="#000" >20</text>
<text x="1741.5" y="303.1" font-size="17.4" text-anchor="start" fill="#000" >10</text>
<text x="1741.5" y="351.6" font-size="17.4" text-anchor="start" fill="#000" >0</text>
<text x="1740.0" y="400.2" font-size="17.4" text-anchor="start" fill="#000" >−10</text>
<text x="1740.0" y="448.7" font-size="17.4" text-anchor="start" fill="#000" >−20</text>
<text x="1740.0" y="497.2" font-size="17.4" text-anchor="start" fill="#000" >−30</text>
<text x="1740.0" y="545.7" font-size="17.4" text-anchor="start" fill="#000" >−40</text>
<text x="1740.0" y="594.3" font-size="17.4" text-anchor="start" fill="#000" >−50</text>
<text x="1740.0" y="642.8" font-size="17.4" text-anchor="start" fill="#000" >−60</text>
<text x="1740.0" y="691.3" font-size="17.4" text-anchor="start" fill="#000" >−70</text>
<text x="1740.0" y="739.9" font-size="17.4" text-anchor="start" fill="#000" >−80</text>
<text x="1740.0" y="788.4" font-size="17.4" text-anchor="start" fill="#000" >−90</text>
<rect x="108.5" y="903.5" width="750" height="749.5" fill="none" stroke="#000" stroke-width="2.9"/>
<path d="M108.5 1278.2H858.5" stroke="#000" stroke-width="2.9"/>
<text x="82.6" y="1250.6" font-size="13.6" text-anchor="end" fill="#000" >20</text>
<text x="82.6" y="1191.5" font-size="13.6" text-anchor="end" fill="#000" >40</text>
<text x="82.6" y="1132.4" font-size="13.6" text-anchor="end" fill="#000" >60</text>
<text x="82.6" y="1073.3" font-size="13.6" text-anchor="end" fill="#000" >80</text>
<text x="82.6" y="1014.2" font-size="13.6" text-anchor="end" fill="#000" >100</text>
<text x="82.6" y="955.1" font-size="13.6" text-anchor="end" fill="#000" >120</text>
<text x="883.5" y="1256.9" font-size="13.6" text-anchor="start" fill="#000" >930</text>
<text x="883.5" y="1214.9" font-size="13.6" text-anchor="start" fill="#000" >940</text>
<text x="883.5" y="1172.9" font-size="13.6" text-anchor="start" fill="#000" >950</text>
<text x="883.5" y="1130.9" font-size="13.6" text-anchor="start" fill="#000" >960</text>
<text x="883.5" y="1088.9" font-size="13.6" text-anchor="start" fill="#000" >970</text>
<text x="883.5" y="1046.9" font-size="13.6" text-anchor="start" fill="#000" >980</text>
<text x="883.5" y="1004.9" font-size="13.6" text-anchor="start" fill="#000" >990</text>
<text x="883.5" y="962.9" font-size="13.6" text-anchor="start" fill="#000" >1000</text>
<text x="883.5" y="920.9" font-size="13.6" text-anchor="start" fill="#000" >1010</text>
<text x="82.6" y="1640.9" font-size="13.6" text-anchor="end" fill="#000" >0.0</text>
<text x="82.6" y="1594.5" font-size="13.6" text-anchor="end" fill="#000" >2.5</text>
<text x="82.6" y="1548.1" font-size="13.6" text-anchor="end" fill="#000" >5.0</text>
<text x="82.6" y="1501.7" font-size="13.6" text-anchor="end" fill="#000" >7.5</text>
<text x="82.6" y="1455.3" font-size="13.6" text-anchor="end" fill="#000" >10.0</text>
<text x="82.6" y="1408.9" font-size="13.6" text-anchor="end" fill="#000" >12.5</text>
<text x="82.6" y="1362.5" font-size="13.6" text-anchor="end" fill="#000" >15.0</text>
<text x="82.6" y="1316.2" font-size="13.6" text-anchor="end" fill="#000" >17.5</text>
<path d="M97 1245.9H108.5M97 1186.8H108.5M97 1127.7H108.5M97 1068.6H108.5M97 1009.5H108.5M97 950.4H108.5M858.5 1252.2H870.5M858.5 1210.2H870.5M858.5 1168.2H870.5M858.5 1126.2H870.5M858.5 1084.2H870.5M858.5 1042.2H870.5M858.5 1000.2H870.5M858.5 958.2H870.5M858.5 916.2H870.5M97 1636.2H108.5M97 1589.8H108.5M97 1543.4H108.5M97 1497.0H108.5M97 1450.6H108.5M97 1404.2H108.5M97 1357.8H108.5M97 1311.5H108.5" stroke="#000" stroke-width="2.7"/>
<text x="0" y="0" font-size="13.8" text-anchor="middle" transform="translate(42.2 1092.5) rotate(-90)">Wind</text>
<text x="0" y="0" font-size="13.8" text-anchor="middle" transform="translate(37.5 1466) rotate(-90)">ACE</text>
<text x="0" y="0" font-size="13.8" text-anchor="middle" transform="translate(943.2 1092.6) rotate(-90)">Pressure</text>
<text x="483.3" y="881.6" font-size="22.7" text-anchor="middle" fill="#000" >Wind / Pres. / ACE Diagnosis</text>
<path d="M139.6 1260.9L186.8 1260.9L202.2 1245.6L217.5 1245.6L232.8 1230.5L263.5 1230.5L308.2 1141.6L354.1 1097.4L398.9 1008.8L429.5 920.1L460.2 949.3L506.1 1082.1L521.5 1113.0" fill="none" stroke="#0000ff" stroke-width="4.8" stroke-linejoin="round"/>
<path d="M522.9 1113.0L549.0 1098.4L580.0 1125.0L610.0 1186.0L640.0 1201.0L703.0 1201.0L718.0 1179.0L748.0 1179.0L778.0 1135.0L806.0 1135.0L824.0 1114.0" fill="none" stroke="#0000ff" stroke-width="4.8" stroke-dasharray="4.8 8.6"/>
<path d="M140.1 1635.4L262.5 1635.4L277.2 1632.9L294.1 1629.1L311.0 1622.8L332.1 1613.5L353.2 1601.7L370.1 1588.6L384.8 1573.8L399.6 1555.3L414.4 1530.4L429.1 1497.9L443.9 1469.2L458.7 1443.0L475.6 1422.8L490.3 1408.0L505.1 1397.4L524.1 1388.1" fill="none" stroke="#008000" stroke-width="4.6" stroke-linejoin="round"/>
<path d="M524.1 1388.1L538.9 1380.5L555.8 1369.2L572.7 1360.7L585.4 1355.7L598.0 1351.4L614.8 1348.9L635.9 1346.0L657.0 1343.0L682.3 1339.6L703.4 1335.8L724.5 1331.2L745.6 1325.7L762.5 1320.6L779.4 1314.3L796.2 1307.1L817.3 1297.4L823.7 1293.2" fill="none" stroke="#008000" stroke-width="4.6" stroke-dasharray="4.6 8.8"/>
<rect x="117.8" y="913.3" width="265.6" height="61" rx="4" fill="#fff" fill-opacity="0.8" stroke="#d0d0d0" stroke-width="3"/>
<path d="M123 928.5H166" stroke="#0000ff" stroke-width="4.8"/><path d="M123 957.7H166" stroke="#0000ff" stroke-width="4.8" stroke-dasharray="4.8 8.6"/>
<text x="179.8" y="935.5" font-size="19.1" text-anchor="start" fill="#000" >Wind[max=130]</text>
<text x="179.8" y="963.4" font-size="19.1" text-anchor="start" fill="#000" >Wind Fore.[max=70]</text>
<path d="M139.6 919.4L172.8 919.4L186.8 936.5L202.2 932.1L217.5 937.3L232.8 944.9L278.8 944.9L294.1 957.7L308.2 1008.0L338.8 1016.4L354.1 1033.6L368.2 1070.1L384.8 1092.6L400.1 1126.3L414.7 1181.2L429.5 1260.9L444.8 1240.4L460.2 1222.6L506.1 1050.9L521.5 1019.0" fill="none" stroke="#1f77b4" stroke-width="4.2" stroke-linejoin="round"/>
<rect x="630.7" y="912.8" width="217.6" height="34.3" rx="4" fill="#fff" fill-opacity="0.8" stroke="#d0d0d0" stroke-width="3"/>
<path d="M635 928.3H678" stroke="#1f77b4" stroke-width="4.8"/>
<text x="692.0" y="935.7" font-size="19.1" text-anchor="start" fill="#000" >Pres.[min=928]</text>
<rect x="117.8" y="1288.2" width="287" height="61.6" rx="4" fill="#fff" fill-opacity="0.8" stroke="#d0d0d0" stroke-width="3"/>
<path d="M123 1303.4H166" stroke="#008000" stroke-width="4.8"/><path d="M123 1332.7H166" stroke="#008000" stroke-width="4.8" stroke-dasharray="4.8 8.6"/>
<text x="179.2" y="1311.0" font-size="19.1" text-anchor="start" fill="#000" >ACE[max=13.2625]</text>
<text x="179.2" y="1338.3" font-size="19.1" text-anchor="start" fill="#000" >ACE Fore.[max=18.36]</text>
<g shape-rendering="crispEdges">
<rect x="1034.56" y="905.00" width="13.83" height="6.70" fill="#878787"/>
<rect x="1103.71" y="905.00" width="13.83" height="6.70" fill="#878787"/>
<rect x="1145.20" y="905.00" width="110.64" height="6.70" fill="#878787"/>
<rect x="1255.84" y="905.00" width="471.16" height="6.70" fill="#555555"/>
<rect x="1034.56" y="911.70" width="13.83" height="14.13" fill="#878787"/>
<rect x="1145.20" y="911.70" width="110.64" height="14.13" fill="#878787"/>
<rect x="1255.84" y="911.70" width="471.16" height="14.13" fill="#555555"/>
<rect x="1034.56" y="925.83" width="13.83" height="14.13" fill="#878787"/>
<rect x="1145.20" y="925.83" width="96.81" height="14.13" fill="#878787"/>
<rect x="1242.01" y="925.83" width="484.99" height="14.13" fill="#555555"/>
<rect x="1145.20" y="939.95" width="82.98" height="14.13" fill="#878787"/>
<rect x="1228.18" y="939.95" width="498.82" height="14.13" fill="#555555"/>
<rect x="1145.20" y="954.08" width="82.98" height="14.13" fill="#878787"/>
<rect x="1228.18" y="954.08" width="498.82" height="14.13" fill="#555555"/>
<rect x="1145.20" y="968.20" width="96.81" height="14.13" fill="#878787"/>
<rect x="1242.01" y="968.20" width="484.99" height="14.13" fill="#555555"/>
<rect x="1145.20" y="982.33" width="179.79" height="14.13" fill="#878787"/>
<rect x="1324.99" y="982.33" width="402.01" height="14.13" fill="#555555"/>
<rect x="1145.20" y="996.46" width="193.62" height="14.13" fill="#878787"/>
<rect x="1338.82" y="996.46" width="388.18" height="14.13" fill="#555555"/>
<rect x="985.00" y="1010.58" width="21.90" height="14.13" fill="#000000"/>
<rect x="1159.03" y="1010.58" width="179.79" height="14.13" fill="#878787"/>
<rect x="1338.82" y="1010.58" width="388.18" height="14.13" fill="#555555"/>
<rect x="985.00" y="1024.71" width="21.90" height="14.13" fill="#a0a0a0"/>
<rect x="1006.90" y="1024.71" width="41.49" height="14.13" fill="#000000"/>
<rect x="1172.86" y="1024.71" width="165.96" height="14.13" fill="#878787"/>
<rect x="1338.82" y="1024.71" width="388.18" height="14.13" fill="#555555"/>
<rect x="985.00" y="1038.83" width="35.73" height="14.13" fill="#a0a0a0"/>
<rect x="1020.73" y="1038.83" width="27.66" height="14.13" fill="#000000"/>
<rect x="1228.18" y="1038.83" width="124.47" height="14.13" fill="#878787"/>
<rect x="1352.65" y="1038.83" width="374.35" height="14.13" fill="#555555"/>
<rect x="985.00" y="1052.96" width="35.73" height="14.13" fill="#a0a0a0"/>
<rect x="1020.73" y="1052.96" width="27.66" height="14.13" fill="#000000"/>
<rect x="1228.18" y="1052.96" width="124.47" height="14.13" fill="#878787"/>
<rect x="1352.65" y="1052.96" width="374.35" height="14.13" fill="#555555"/>
<rect x="985.00" y="1067.09" width="35.73" height="14.13" fill="#a0a0a0"/>
<rect x="1020.73" y="1067.09" width="55.32" height="14.13" fill="#000000"/>
<rect x="1228.18" y="1067.09" width="124.47" height="14.13" fill="#878787"/>
<rect x="1352.65" y="1067.09" width="374.35" height="14.13" fill="#555555"/>
<rect x="985.00" y="1081.21" width="35.73" height="14.13" fill="#a0a0a0"/>
<rect x="1020.73" y="1081.21" width="82.98" height="14.13" fill="#000000"/>
<rect x="1131.37" y="1081.21" width="13.83" height="14.13" fill="#000000"/>
<rect x="1228.18" y="1081.21" width="124.47" height="14.13" fill="#878787"/>
<rect x="1352.65" y="1081.21" width="374.35" height="14.13" fill="#555555"/>
<rect x="985.00" y="1095.34" width="49.56" height="14.13" fill="#a0a0a0"/>
<rect x="1034.56" y="1095.34" width="110.64" height="14.13" fill="#000000"/>
<rect x="1228.18" y="1095.34" width="138.30" height="14.13" fill="#878787"/>
<rect x="1366.48" y="1095.34" width="360.52" height="14.13" fill="#555555"/>
<rect x="985.00" y="1109.46" width="63.39" height="14.13" fill="#a0a0a0"/>
<rect x="1048.39" y="1109.46" width="96.81" height="14.13" fill="#000000"/>
<rect x="1242.01" y="1109.46" width="13.83" height="14.13" fill="#878787"/>
<rect x="1283.50" y="1109.46" width="110.64" height="14.13" fill="#878787"/>
<rect x="1394.14" y="1109.46" width="332.86" height="14.13" fill="#555555"/>
<rect x="985.00" y="1123.59" width="77.22" height="14.13" fill="#a0a0a0"/>
<rect x="1062.22" y="1123.59" width="82.98" height="14.13" fill="#000000"/>
<rect x="1297.33" y="1123.59" width="110.64" height="14.13" fill="#878787"/>
<rect x="1407.97" y="1123.59" width="319.03" height="14.13" fill="#555555"/>
<rect x="985.00" y="1137.72" width="91.05" height="14.13" fill="#a0a0a0"/>
<rect x="1076.05" y="1137.72" width="110.64" height="14.13" fill="#000000"/>
<rect x="1297.33" y="1137.72" width="138.30" height="14.13" fill="#878787"/>
<rect x="1435.63" y="1137.72" width="291.37" height="14.13" fill="#555555"/>
<rect x="985.00" y="1151.84" width="104.88" height="14.13" fill="#a0a0a0"/>
<rect x="1089.88" y="1151.84" width="96.81" height="14.13" fill="#000000"/>
<rect x="1311.16" y="1151.84" width="124.47" height="14.13" fill="#878787"/>
<rect x="1435.63" y="1151.84" width="291.37" height="14.13" fill="#555555"/>
<rect x="985.00" y="1165.97" width="118.71" height="14.13" fill="#a0a0a0"/>
<rect x="1103.71" y="1165.97" width="82.98" height="14.13" fill="#000000"/>
<rect x="1311.16" y="1165.97" width="152.13" height="14.13" fill="#878787"/>
<rect x="1463.29" y="1165.97" width="263.71" height="14.13" fill="#555555"/>
<rect x="985.00" y="1180.09" width="132.54" height="14.13" fill="#a0a0a0"/>
<rect x="1117.54" y="1180.09" width="69.15" height="14.13" fill="#000000"/>
<rect x="1324.99" y="1180.09" width="138.30" height="14.13" fill="#878787"/>
<rect x="1463.29" y="1180.09" width="263.71" height="14.13" fill="#555555"/>
<rect x="985.00" y="1194.22" width="132.54" height="14.13" fill="#a0a0a0"/>
<rect x="1117.54" y="1194.22" width="69.15" height="14.13" fill="#000000"/>
<rect x="1380.31" y="1194.22" width="96.81" height="14.13" fill="#878787"/>
<rect x="1477.12" y="1194.22" width="249.88" height="14.13" fill="#555555"/>
<rect x="985.00" y="1208.35" width="8.07" height="14.13" fill="#a0a0a0"/>
<rect x="993.07" y="1208.35" width="41.49" height="14.13" fill="#6f6f6f"/>
<rect x="1034.56" y="1208.35" width="82.98" height="14.13" fill="#a0a0a0"/>
<rect x="1117.54" y="1208.35" width="96.81" height="14.13" fill="#000000"/>
<rect x="1407.97" y="1208.35" width="82.98" height="14.13" fill="#878787"/>
<rect x="1490.95" y="1208.35" width="236.05" height="14.13" fill="#555555"/>
<rect x="985.00" y="1222.47" width="49.56" height="14.13" fill="#6f6f6f"/>
<rect x="1034.56" y="1222.47" width="82.98" height="14.13" fill="#a0a0a0"/>
<rect x="1117.54" y="1222.47" width="110.64" height="14.13" fill="#000000"/>
<rect x="1407.97" y="1222.47" width="138.30" height="14.13" fill="#878787"/>
<rect x="1546.27" y="1222.47" width="180.73" height="14.13" fill="#555555"/>
<rect x="985.00" y="1236.60" width="49.56" height="14.13" fill="#6f6f6f"/>
<rect x="1034.56" y="1236.60" width="96.81" height="14.13" fill="#a0a0a0"/>
<rect x="1131.37" y="1236.60" width="138.30" height="14.13" fill="#000000"/>
<rect x="1407.97" y="1236.60" width="138.30" height="14.13" fill="#878787"/>
<rect x="1546.27" y="1236.60" width="165.96" height="14.13" fill="#555555"/>
<rect x="1712.23" y="1236.60" width="14.77" height="14.13" fill="#878787"/>
<rect x="985.00" y="1250.72" width="49.56" height="14.13" fill="#6f6f6f"/>
<rect x="1034.56" y="1250.72" width="96.81" height="14.13" fill="#a0a0a0"/>
<rect x="1131.37" y="1250.72" width="152.13" height="14.13" fill="#000000"/>
<rect x="1407.97" y="1250.72" width="138.30" height="14.13" fill="#878787"/>
<rect x="1546.27" y="1250.72" width="82.98" height="14.13" fill="#555555"/>
<rect x="1629.25" y="1250.72" width="97.75" height="14.13" fill="#878787"/>
<rect x="985.00" y="1264.85" width="49.56" height="14.13" fill="#6f6f6f"/>
<rect x="1034.56" y="1264.85" width="110.64" height="14.13" fill="#a0a0a0"/>
<rect x="1145.20" y="1264.85" width="13.83" height="14.13" fill="#000000"/>
<rect x="1159.03" y="1264.85" width="55.32" height="14.13" fill="#a0a0a0"/>
<rect x="1214.35" y="1264.85" width="82.98" height="14.13" fill="#000000"/>
<rect x="1407.97" y="1264.85" width="319.03" height="14.13" fill="#878787"/>
<rect x="985.00" y="1278.98" width="49.56" height="14.13" fill="#6f6f6f"/>
<rect x="1034.56" y="1278.98" width="207.45" height="14.13" fill="#a0a0a0"/>
<rect x="1242.01" y="1278.98" width="55.32" height="14.13" fill="#000000"/>
<rect x="1407.97" y="1278.98" width="319.03" height="14.13" fill="#878787"/>
<rect x="985.00" y="1293.10" width="49.56" height="14.13" fill="#6f6f6f"/>
<rect x="1034.56" y="1293.10" width="221.28" height="14.13" fill="#a0a0a0"/>
<rect x="1255.84" y="1293.10" width="41.49" height="14.13" fill="#000000"/>
<rect x="1421.80" y="1293.10" width="305.20" height="14.13" fill="#878787"/>
<rect x="985.00" y="1307.23" width="49.56" height="14.13" fill="#6f6f6f"/>
<rect x="1034.56" y="1307.23" width="221.28" height="14.13" fill="#a0a0a0"/>
<rect x="1255.84" y="1307.23" width="41.49" height="14.13" fill="#000000"/>
<rect x="1449.46" y="1307.23" width="277.54" height="14.13" fill="#878787"/>
<rect x="985.00" y="1321.35" width="49.56" height="14.13" fill="#6f6f6f"/>
<rect x="1034.56" y="1321.35" width="124.47" height="14.13" fill="#a0a0a0"/>
<rect x="1159.03" y="1321.35" width="27.66" height="14.13" fill="#000000"/>
<rect x="1186.69" y="1321.35" width="82.98" height="14.13" fill="#a0a0a0"/>
<rect x="1269.67" y="1321.35" width="27.66" height="14.13" fill="#000000"/>
<rect x="1449.46" y="1321.35" width="248.94" height="14.13" fill="#878787"/>
<rect x="1698.40" y="1321.35" width="13.83" height="14.13" fill="#555555"/>
<rect x="1712.23" y="1321.35" width="14.77" height="14.13" fill="#878787"/>
<rect x="985.00" y="1335.48" width="49.56" height="14.13" fill="#6f6f6f"/>
<rect x="1034.56" y="1335.48" width="124.47" height="14.13" fill="#a0a0a0"/>
<rect x="1159.03" y="1335.48" width="41.49" height="14.13" fill="#000000"/>
<rect x="1200.52" y="1335.48" width="69.15" height="14.13" fill="#a0a0a0"/>
<rect x="1269.67" y="1335.48" width="82.98" height="14.13" fill="#000000"/>
<rect x="1463.29" y="1335.48" width="235.11" height="14.13" fill="#878787"/>
<rect x="1698.40" y="1335.48" width="13.83" height="14.13" fill="#555555"/>
<rect x="1712.23" y="1335.48" width="14.77" height="14.13" fill="#878787"/>
<rect x="985.00" y="1349.61" width="49.56" height="14.13" fill="#6f6f6f"/>
<rect x="1034.56" y="1349.61" width="124.47" height="14.13" fill="#a0a0a0"/>
<rect x="1159.03" y="1349.61" width="41.49" height="14.13" fill="#000000"/>
<rect x="1200.52" y="1349.61" width="69.15" height="14.13" fill="#a0a0a0"/>
<rect x="1269.67" y="1349.61" width="69.15" height="14.13" fill="#000000"/>
<rect x="1463.29" y="1349.61" width="207.45" height="14.13" fill="#878787"/>
<rect x="1670.74" y="1349.61" width="27.66" height="14.13" fill="#555555"/>
<rect x="1698.40" y="1349.61" width="28.60" height="14.13" fill="#878787"/>
<rect x="985.00" y="1363.73" width="63.39" height="14.13" fill="#6f6f6f"/>
<rect x="1048.39" y="1363.73" width="235.11" height="14.13" fill="#a0a0a0"/>
<rect x="1283.50" y="1363.73" width="96.81" height="14.13" fill="#000000"/>
<rect x="1490.95" y="1363.73" width="236.05" height="14.13" fill="#878787"/>
<rect x="985.00" y="1377.86" width="63.39" height="14.13" fill="#6f6f6f"/>
<rect x="1048.39" y="1377.86" width="248.94" height="14.13" fill="#a0a0a0"/>
<rect x="1297.33" y="1377.86" width="96.81" height="14.13" fill="#000000"/>
<rect x="1504.78" y="1377.86" width="222.22" height="14.13" fill="#878787"/>
<rect x="985.00" y="1391.98" width="77.22" height="14.13" fill="#6f6f6f"/>
<rect x="1062.22" y="1391.98" width="248.94" height="14.13" fill="#a0a0a0"/>
<rect x="1311.16" y="1391.98" width="82.98" height="14.13" fill="#000000"/>
<rect x="1518.61" y="1391.98" width="165.96" height="14.13" fill="#878787"/>
<rect x="1684.57" y="1391.98" width="13.83" height="14.13" fill="#555555"/>
<rect x="1698.40" y="1391.98" width="28.60" height="14.13" fill="#878787"/>
<rect x="985.00" y="1406.11" width="35.73" height="14.13" fill="#3b3b3b"/>
<rect x="1020.73" y="1406.11" width="55.32" height="14.13" fill="#6f6f6f"/>
<rect x="1076.05" y="1406.11" width="235.11" height="14.13" fill="#a0a0a0"/>
<rect x="1311.16" y="1406.11" width="82.98" height="14.13" fill="#000000"/>
<rect x="1518.61" y="1406.11" width="208.39" height="14.13" fill="#878787"/>
<rect x="985.00" y="1420.24" width="35.73" height="14.13" fill="#3b3b3b"/>
<rect x="1020.73" y="1420.24" width="55.32" height="14.13" fill="#6f6f6f"/>
<rect x="1076.05" y="1420.24" width="235.11" height="14.13" fill="#a0a0a0"/>
<rect x="1311.16" y="1420.24" width="82.98" height="14.13" fill="#000000"/>
<rect x="1532.44" y="1420.24" width="194.56" height="14.13" fill="#878787"/>
<rect x="985.00" y="1434.36" width="35.73" height="14.13" fill="#3b3b3b"/>
<rect x="1020.73" y="1434.36" width="82.98" height="14.13" fill="#6f6f6f"/>
<rect x="1103.71" y="1434.36" width="221.28" height="14.13" fill="#a0a0a0"/>
<rect x="1324.99" y="1434.36" width="69.15" height="14.13" fill="#000000"/>
<rect x="1532.44" y="1434.36" width="194.56" height="14.13" fill="#878787"/>
<rect x="985.00" y="1448.49" width="132.54" height="14.13" fill="#6f6f6f"/>
<rect x="1117.54" y="1448.49" width="207.45" height="14.13" fill="#a0a0a0"/>
<rect x="1324.99" y="1448.49" width="69.15" height="14.13" fill="#000000"/>
<rect x="1573.93" y="1448.49" width="153.07" height="14.13" fill="#878787"/>
<rect x="985.00" y="1462.61" width="146.37" height="14.13" fill="#6f6f6f"/>
<rect x="1131.37" y="1462.61" width="124.47" height="14.13" fill="#a0a0a0"/>
<rect x="1255.84" y="1462.61" width="55.32" height="14.13" fill="#000000"/>
<rect x="1311.16" y="1462.61" width="27.66" height="14.13" fill="#a0a0a0"/>
<rect x="1338.82" y="1462.61" width="41.49" height="14.13" fill="#000000"/>
<rect x="1587.76" y="1462.61" width="139.24" height="14.13" fill="#878787"/>
<rect x="985.00" y="1476.74" width="146.37" height="14.13" fill="#6f6f6f"/>
<rect x="1131.37" y="1476.74" width="138.30" height="14.13" fill="#a0a0a0"/>
<rect x="1269.67" y="1476.74" width="96.81" height="14.13" fill="#000000"/>
<rect x="1573.93" y="1476.74" width="153.07" height="14.13" fill="#878787"/>
<rect x="985.00" y="1490.87" width="118.71" height="14.13" fill="#6f6f6f"/>
<rect x="1103.71" y="1490.87" width="179.79" height="14.13" fill="#a0a0a0"/>
<rect x="1283.50" y="1490.87" width="82.98" height="14.13" fill="#000000"/>
<rect x="1601.59" y="1490.87" width="125.41" height="14.13" fill="#878787"/>
<rect x="985.00" y="1504.99" width="21.90" height="14.13" fill="#a0a0a0"/>
<rect x="1006.90" y="1504.99" width="96.81" height="14.13" fill="#6f6f6f"/>
<rect x="1103.71" y="1504.99" width="179.79" height="14.13" fill="#a0a0a0"/>
<rect x="1283.50" y="1504.99" width="82.98" height="14.13" fill="#000000"/>
<rect x="1615.42" y="1504.99" width="13.83" height="14.13" fill="#878787"/>
<rect x="1670.74" y="1504.99" width="13.83" height="14.13" fill="#878787"/>
<rect x="1698.40" y="1504.99" width="28.60" height="14.13" fill="#878787"/>
<rect x="985.00" y="1519.12" width="118.71" height="14.13" fill="#6f6f6f"/>
<rect x="1103.71" y="1519.12" width="179.79" height="14.13" fill="#a0a0a0"/>
<rect x="1283.50" y="1519.12" width="82.98" height="14.13" fill="#000000"/>
<rect x="985.00" y="1533.24" width="49.56" height="14.13" fill="#6f6f6f"/>
<rect x="1034.56" y="1533.24" width="262.77" height="14.13" fill="#a0a0a0"/>
<rect x="1297.33" y="1533.24" width="82.98" height="14.13" fill="#000000"/>
<rect x="985.00" y="1547.37" width="49.56" height="14.13" fill="#6f6f6f"/>
<rect x="1034.56" y="1547.37" width="262.77" height="14.13" fill="#a0a0a0"/>
<rect x="1297.33" y="1547.37" width="82.98" height="14.13" fill="#000000"/>
<rect x="985.00" y="1561.50" width="49.56" height="14.13" fill="#6f6f6f"/>
<rect x="1034.56" y="1561.50" width="276.60" height="14.13" fill="#a0a0a0"/>
<rect x="1311.16" y="1561.50" width="69.15" height="14.13" fill="#000000"/>
<rect x="1629.25" y="1561.50" width="13.83" height="14.13" fill="#000000"/>
<rect x="985.00" y="1575.62" width="63.39" height="14.13" fill="#6f6f6f"/>
<rect x="1048.39" y="1575.62" width="27.66" height="14.13" fill="#a0a0a0"/>
<rect x="1076.05" y="1575.62" width="13.83" height="14.13" fill="#6f6f6f"/>
<rect x="1089.88" y="1575.62" width="207.45" height="14.13" fill="#a0a0a0"/>
<rect x="1297.33" y="1575.62" width="82.98" height="14.13" fill="#000000"/>
<rect x="1629.25" y="1575.62" width="41.49" height="14.13" fill="#000000"/>
<rect x="985.00" y="1589.75" width="63.39" height="14.13" fill="#6f6f6f"/>
<rect x="1048.39" y="1589.75" width="262.77" height="14.13" fill="#a0a0a0"/>
<rect x="1311.16" y="1589.75" width="69.15" height="14.13" fill="#000000"/>
<rect x="1656.91" y="1589.75" width="27.66" height="14.13" fill="#000000"/>
<rect x="985.00" y="1603.87" width="63.39" height="14.13" fill="#6f6f6f"/>
<rect x="1048.39" y="1603.87" width="262.77" height="14.13" fill="#a0a0a0"/>
<rect x="1311.16" y="1603.87" width="69.15" height="14.13" fill="#000000"/>
<rect x="985.00" y="1618.00" width="63.39" height="14.13" fill="#6f6f6f"/>
<rect x="1048.39" y="1618.00" width="276.60" height="14.13" fill="#a0a0a0"/>
<rect x="1324.99" y="1618.00" width="55.32" height="14.13" fill="#000000"/>
</g>
<rect x="983.5" y="903.5" width="750" height="750" fill="none" stroke="#000" stroke-width="2.9"/>
<rect x="995.7" y="917.1" width="179.6" height="31.7" rx="4.6" fill="#000"/>
<text x="1002.0" y="938.6" font-size="20.8" text-anchor="start" fill="#fff" font-weight="bold" >WMG Count: 0</text>
</svg></body></html>
